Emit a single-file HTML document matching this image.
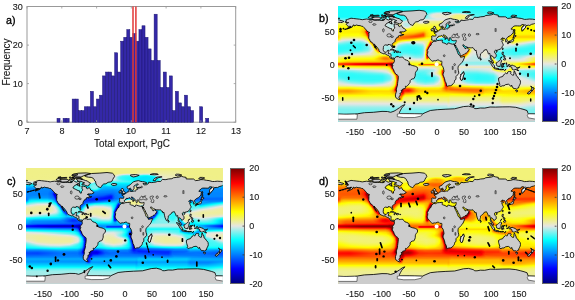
<!DOCTYPE html><html><head><meta charset="utf-8"><style>html,body{margin:0;padding:0;background:#fff;width:575px;height:300px;overflow:hidden}.fld{position:absolute;overflow:hidden}.fld i{position:absolute;left:0;width:100%;height:1px;display:block}.cb{position:absolute;box-sizing:border-box;border:1px solid #6a6a6a}.t{position:absolute;white-space:nowrap;font-family:"Liberation Sans",Arial,sans-serif;color:#1a1a1a;line-height:1;-webkit-text-stroke:0.12px #1a1a1a}svg{position:absolute;left:0;top:0}.pl{color:#000;-webkit-text-stroke:0.35px #000;transform-origin:0 50%}</style></head><body><div class="fld" style="left:338px;top:6px;width:197px;height:116px"><i style="top:0px;background:linear-gradient(90deg,#17fcfc 0.5px,#17fcfc 196.5px)"></i><i style="top:1px;background:linear-gradient(90deg,#17fcfc 0.5px,#1cfcfb 111.5px,#1cfcfb 153.5px,#17fcfc 196.5px)"></i><i style="top:2px;background:linear-gradient(90deg,#17fcfc 0.5px,#1afcfc 110.5px,#25fbfa 114.5px,#1ffcfb 153.5px,#17fcfc 159.5px,#17fcfc 196.5px)"></i><i style="top:3px;background:linear-gradient(90deg,#17fcfc 0.5px,#1bfcfc 110.5px,#2bfafa 113.5px,#2afafa 152.5px,#17fcfc 156.5px,#17fcfc 196.5px)"></i><i style="top:4px;background:linear-gradient(90deg,#17fcfc 0.5px,#1dfcfb 110.5px,#30faf9 112.5px,#30faf9 152.5px,#17fcfc 155.5px,#17fcfc 196.5px)"></i><i style="top:5px;background:linear-gradient(90deg,#17fcfc 0.5px,#1cfcfc 90.5px,#43f8f7 101.5px,#27fbfa 110.5px,#3af9f8 112.5px,#35f9f8 152.5px,#17fcfc 155.5px,#17fcfc 196.5px)"></i><i style="top:6px;background:linear-gradient(90deg,#17fcfc 0.5px,#1ffcfb 81.5px,#29fbfa 89.5px,#8ef0ed 98.5px,#96efec 102.5px,#6ef3f1 107.5px,#50f6f5 110.5px,#56f6f4 113.5px,#59f5f4 123.5px,#3df8f7 133.5px,#36f9f8 150.5px,#17fcfc 156.5px,#17fcfc 196.5px)"></i><i style="top:7px;background:linear-gradient(90deg,#17fcfc 0.5px,#1ffcfb 63.5px,#3cf8f7 88.5px,#bcebe7 95.5px,#dce7e3 99.5px,#d6e8e4 104.5px,#9feeeb 112.5px,#bfeae7 120.5px,#aaedea 124.5px,#4ff6f5 132.5px,#43f8f7 139.5px,#41f8f7 152.5px,#17fcfc 155.5px,#17fcfc 196.5px)"></i><i style="top:8px;background:linear-gradient(90deg,#17fcfc 0.5px,#1efcfb 58.5px,#74f2f0 89.5px,#cde9e5 93.5px,#e6e6e2 95.5px,#e8e8cf 100.5px,#e4e7df 107.5px,#d8e8e4 110.5px,#e7e7dc 113.5px,#ececac 118.5px,#ececab 122.5px,#e7e7d6 126.5px,#e0e7e3 127.5px,#67f4f2 133.5px,#4ef7f5 136.5px,#47f7f6 152.5px,#20fcfb 154.5px,#17fcfc 159.5px,#17fcfc 196.5px)"></i><i style="top:9px;background:linear-gradient(90deg,#17fcfc 0.5px,#1bfcfc 55.5px,#2bfafa 64.5px,#32faf9 69.5px,#6ef3f1 88.5px,#cfe8e5 92.5px,#e7e7dd 94.5px,#e8e8cc 99.5px,#e7e7d6 110.5px,#f0f085 117.5px,#f1f17a 121.5px,#efef8c 125.5px,#ebebb8 128.5px,#e0e7e3 130.5px,#7af2f0 134.5px,#56f6f4 137.5px,#49f7f6 151.5px,#17fcfc 161.5px,#17fcfc 196.5px)"></i><i style="top:10px;background:linear-gradient(90deg,#17fcfc 0.5px,#1cfcfb 54.5px,#2efaf9 63.5px,#33f9f9 71.5px,#54f6f4 87.5px,#cce9e5 92.5px,#e6e6e0 94.5px,#e8e8cd 98.5px,#e8e8d2 109.5px,#ededa6 113.5px,#f2f27a 117.5px,#f2f275 124.5px,#f0f08a 127.5px,#e9e9c8 130.5px,#e6e6df 131.5px,#7cf1ef 135.5px,#5af5f4 138.5px,#4cf7f5 147.5px,#17fcfc 161.5px,#17fcfc 196.5px)"></i><i style="top:11px;background:linear-gradient(90deg,#25fbfa 0.5px,#25fbfa 42.5px,#57f6f4 45.5px,#53f6f5 51.5px,#2ffaf9 60.5px,#37f9f8 68.5px,#77f2f0 87.5px,#dde7e3 94.5px,#e7e7d7 97.5px,#e8e8d0 109.5px,#f1f17b 116.5px,#f2f272 123.5px,#f0f087 127.5px,#eaeabf 130.5px,#e7e7d9 131.5px,#83f1ee 135.5px,#60f5f3 138.5px,#25fbfa 171.5px,#25fbfa 196.5px)"></i><i style="top:12px;background:linear-gradient(90deg,#49f7f6 0.5px,#49f7f6 43.5px,#95efec 45.5px,#97efec 51.5px,#30faf9 60.5px,#33f9f9 66.5px,#96efec 81.5px,#b5ebe8 86.5px,#a7edea 88.5px,#e3e6e2 98.5px,#e6e6de 107.5px,#e8e8d0 110.5px,#f0f087 115.5px,#f2f275 120.5px,#f0f084 125.5px,#ececaa 128.5px,#e7e7d6 130.5px,#bdeae7 132.5px,#7df1ef 135.5px,#49f7f6 174.5px,#49f7f6 196.5px)"></i><i style="top:13px;background:linear-gradient(90deg,#6cf3f1 0.5px,#6df3f1 43.5px,#9ceeeb 44.5px,#d0e8e5 46.5px,#c7e9e6 53.5px,#35f9f8 62.5px,#3cf8f7 65.5px,#55f6f4 67.5px,#86f0ee 69.5px,#e4e6e2 84.5px,#d5e8e4 91.5px,#e7e7dd 107.5px,#efef93 119.5px,#eeee9c 123.5px,#e9e9ca 127.5px,#e7e7dc 128.5px,#89f0ee 133.5px,#7cf2ef 134.5px,#6cf3f1 196.5px)"></i><i style="top:14px;background:linear-gradient(90deg,#90efed 0.5px,#91efed 43.5px,#c8e9e6 44.5px,#e2e6e2 54.5px,#d0e8e5 56.5px,#61f5f3 63.5px,#7ef1ef 66.5px,#c7e9e6 69.5px,#e6e6e2 83.5px,#e7e7d6 87.5px,#e9e9c3 90.5px,#e9e9c7 109.5px,#e1e7e3 123.5px,#b6ebe8 127.5px,#b6ebe8 196.5px)"></i><i style="top:15px;background:linear-gradient(90deg,#cce9e5 0.5px,#e7e7dc 55.5px,#dfe8da 58.5px,#c5eae6 65.5px,#d9e7e4 68.5px,#e6e6e1 69.5px,#ebebb4 78.5px,#e7e7da 80.5px,#e6e6e1 84.5px,#e7e7d5 86.5px,#eeee97 89.5px,#efef8e 93.5px,#efef8e 105.5px,#96efec 117.5px,#98eeec 196.5px)"></i><i style="top:16px;background:linear-gradient(90deg,#ececad 0.5px,#e8ebb8 17.5px,#d3e8e4 54.5px,#e6e6e2 56.5px,#e8e8cf 58.5px,#eaeaba 63.5px,#dfe7e3 65.5px,#cae9e6 67.5px,#d7e8e4 70.5px,#f1f182 77.5px,#e9e9c7 80.5px,#e7e7da 82.5px,#e8e8d0 85.5px,#f2f278 90.5px,#f2f278 104.5px,#e8e8cd 110.5px,#aeece9 111.5px,#7cf1ef 118.5px,#7df1ef 196.5px)"></i><i style="top:17px;background:linear-gradient(90deg,#f5f55e 0.5px,#f3f464 10.5px,#dde7e3 48.5px,#c5eae6 51.5px,#cce9e5 55.5px,#e6e6e2 57.5px,#eeee96 60.5px,#eeee96 62.5px,#e7e7dd 64.5px,#c2eae7 66.5px,#bcebe7 69.5px,#cee9e5 71.5px,#f3f369 76.5px,#f3f370 78.5px,#ececb0 82.5px,#ececac 84.5px,#f3f36b 88.5px,#f4f466 102.5px,#e7e7d9 108.5px,#d2e8e4 110.5px,#f5f55e 196.5px)"></i><i style="top:18px;background:linear-gradient(90deg,#f8f83f 0.5px,#f8f844 9.5px,#e6e6e1 47.5px,#c9e9e6 49.5px,#c6eae6 55.5px,#ebebb5 59.5px,#eeee96 60.5px,#f0f087 61.5px,#eeee98 62.5px,#e0e7e3 64.5px,#c7e9e6 65.5px,#b8ebe8 67.5px,#bbebe7 70.5px,#c4eae6 71.5px,#dce7e3 72.5px,#f3f36d 75.5px,#f5f559 76.5px,#f5f556 79.5px,#f4f468 83.5px,#f6f652 88.5px,#f6f656 101.5px,#6ef3f1 108.5px,#5ff5f3 109.5px,#f8f83f 186.5px,#f8f83f 196.5px)"></i><i style="top:19px;background:linear-gradient(90deg,#fbfb23 0.5px,#fbfb20 21.5px,#e5e6e2 47.5px,#c7e9e6 49.5px,#c4eae6 55.5px,#f1f17d 61.5px,#f0f08c 62.5px,#e6e6e0 64.5px,#cae9e5 65.5px,#b9ebe8 67.5px,#bcebe7 70.5px,#c8e9e6 71.5px,#e3e6e2 72.5px,#f5f55c 75.5px,#f7f748 76.5px,#f8f83f 88.5px,#f7f747 101.5px,#37f9f8 108.5px,#35f9f8 110.5px,#52f6f5 112.5px,#85f0ee 114.5px,#fcfc1d 183.5px,#fbfb23 196.5px)"></i><i style="top:20px;background:linear-gradient(90deg,#fefe07 0.5px,#fffb00 23.5px,#fdf609 25.5px,#d7e8e4 48.5px,#c2eae7 51.5px,#c7e9e6 55.5px,#d0e8e5 56.5px,#f4f466 61.5px,#e4e6e2 65.5px,#cde9e5 66.5px,#c0eae7 68.5px,#cce9e5 70.5px,#e0e7e3 71.5px,#e9e9c4 72.5px,#f4f462 74.5px,#f8f841 75.5px,#fafa2f 77.5px,#fafa29 87.5px,#f9f937 99.5px,#f9f939 103.5px,#f6f64e 104.5px,#30faf9 108.5px,#2ffaf9 110.5px,#41f9f0 113.5px,#ffff01 177.5px,#fefe07 196.5px)"></i><i style="top:21px;background:linear-gradient(90deg,#fffd00 0.5px,#fff600 22.5px,#ffe400 25.5px,#cce9e5 50.5px,#cae9e6 54.5px,#e0e7e3 56.5px,#f1f17e 64.5px,#e9e9c4 66.5px,#e7e7dc 68.5px,#e9e9c7 70.5px,#f1f181 72.5px,#f9f935 74.5px,#fcfc1c 76.5px,#fdfd0f 86.5px,#fbfb28 95.5px,#fbfb28 102.5px,#f9f938 104.5px,#f1f182 105.5px,#63f4f3 107.5px,#3bf9f8 108.5px,#37f9f5 110.5px,#ffff00 175.5px,#fffd00 196.5px)"></i><i style="top:22px;background:linear-gradient(90deg,#fffb00 0.5px,#fff600 21.5px,#ffd100 26.5px,#d9e7e4 52.5px,#e7e7da 55.5px,#f7f74b 65.5px,#f2f274 67.5px,#f2f275 69.5px,#f7f74c 71.5px,#fcfc1b 73.5px,#fefe07 75.5px,#fffc00 87.5px,#fcfc18 95.5px,#fcfc1e 104.5px,#f8f83f 105.5px,#efef95 106.5px,#cee9e5 107.5px,#8cf0ed 108.5px,#79f2f0 109.5px,#fffe00 174.5px,#fffb00 196.5px)"></i><i style="top:23px;background:linear-gradient(90deg,#fff800 0.5px,#fff300 21.5px,#ffd100 25.5px,#ffb300 27.5px,#ebebb7 54.5px,#fcfc1a 67.5px,#fdfd12 70.5px,#fffd00 73.5px,#ffed00 86.5px,#fefe06 91.5px,#fdfd12 100.5px,#fcfc1a 103.5px,#fafa2f 107.5px,#fff900 185.5px,#fff800 196.5px)"></i><i style="top:24px;background:linear-gradient(90deg,#fff600 0.5px,#ffef00 21.5px,#ffc900 25.5px,#ffb500 26.5px,#ff5900 28.5px,#f2f271 54.5px,#f8f641 59.5px,#fff800 67.5px,#ffde00 83.5px,#ffdf00 86.5px,#ffff04 92.5px,#fefe0d 104.5px,#fffa00 184.5px,#fff600 196.5px)"></i><i style="top:25px;background:linear-gradient(90deg,#fff300 0.5px,#ffec00 21.5px,#ffc300 25.5px,#ffa900 26.5px,#ff5c00 27.5px,#ff0200 28.5px,#ff3000 29.5px,#ffee00 67.5px,#ffd600 80.5px,#ffc100 85.5px,#fff400 90.5px,#fefe06 95.5px,#fffa00 183.5px,#fff300 196.5px)"></i><i style="top:26px;background:linear-gradient(90deg,#fff500 0.5px,#fff000 21.5px,#ffc700 25.5px,#ffad00 26.5px,#ff6600 27.5px,#ff0700 28.5px,#ff0d00 29.5px,#ff6e00 30.5px,#ffe600 63.5px,#ffcc00 77.5px,#ff9a00 84.5px,#ff9b00 85.5px,#ffd900 88.5px,#fff900 92.5px,#fffc00 182.5px,#fff500 196.5px)"></i><i style="top:27px;background:linear-gradient(90deg,#fff600 0.5px,#fffa00 20.5px,#ffde00 24.5px,#ffbf00 26.5px,#ff9100 27.5px,#ff3100 28.5px,#fe0000 29.5px,#ff4900 30.5px,#ffd700 64.5px,#ffb900 75.5px,#ff8b00 81.5px,#ff6c00 84.5px,#ff6e00 85.5px,#ffcf00 88.5px,#fff000 91.5px,#fffe00 96.5px,#abece9 119.5px,#fffb00 175.5px,#fff600 196.5px)"></i><i style="top:28px;background:linear-gradient(90deg,#fff000 0.5px,#fefe07 4.5px,#ffff04 20.5px,#ffe900 24.5px,#ffcf00 26.5px,#ffb100 27.5px,#ff0c00 29.5px,#ff2600 30.5px,#ffc700 63.5px,#ff9400 75.5px,#ff4800 84.5px,#ff4e00 85.5px,#ffa800 87.5px,#ffca00 88.5px,#ffe700 90.5px,#fffe00 97.5px,#58f5f4 115.5px,#40f8f7 117.5px,#76f2f0 124.5px,#46f7f6 125.5px,#40f8f7 126.5px,#60f5f3 127.5px,#fff200 174.5px,#fff400 182.5px,#fff000 196.5px)"></i><i style="top:29px;background:linear-gradient(90deg,#ffde00 0.5px,#fefe08 3.5px,#fdfd14 7.5px,#fefe0d 21.5px,#fff400 24.5px,#ffc800 27.5px,#ff9200 28.5px,#ff3000 29.5px,#ff1100 30.5px,#ffb800 61.5px,#ff4000 82.5px,#ff4a00 85.5px,#ffa700 87.5px,#ffc900 88.5px,#ffe400 90.5px,#ffff02 97.5px,#ffe100 103.5px,#ffe800 106.5px,#36f9f8 114.5px,#21fbfb 115.5px,#19fcfc 118.5px,#38f9f8 121.5px,#5ff5f3 124.5px,#35f9f8 125.5px,#3ff8e9 129.5px,#ffde00 173.5px,#ffe600 180.5px,#ffde00 194.5px,#ffde00 196.5px)"></i><i style="top:30px;background:linear-gradient(90deg,#ffd400 0.5px,#ffff02 2.5px,#fbfb25 3.5px,#f9f938 5.5px,#f9f936 21.5px,#fcfc19 24.5px,#fff700 26.5px,#ffe800 27.5px,#ffc500 28.5px,#ff2000 30.5px,#ffa500 60.5px,#ff8100 63.5px,#ff4500 77.5px,#ff4e00 82.5px,#ff6900 85.5px,#ffb300 87.5px,#ffcf00 88.5px,#ffe900 91.5px,#fff200 96.5px,#fff200 100.5px,#fffe00 101.5px,#f7f745 105.5px,#f5f557 107.5px,#31faf9 114.5px,#19fcfc 116.5px,#1cfcfb 119.5px,#2bfafa 120.5px,#51f6f5 121.5px,#59f5f4 124.5px,#30faf9 125.5px,#71edaa 140.5px,#ffd200 171.5px,#ffd300 196.5px)"></i><i style="top:31px;background:linear-gradient(90deg,#ffd600 0.5px,#ffed00 1.5px,#fcfc1f 2.5px,#f7f74c 3.5px,#f4f460 4.5px,#f3f36e 16.5px,#f4f465 22.5px,#f8f840 25.5px,#fdfd12 27.5px,#fff000 28.5px,#ffab00 29.5px,#ff4800 30.5px,#ffa200 59.5px,#ff7100 63.5px,#ff5f00 73.5px,#ff7200 79.5px,#ffac00 85.5px,#ffed00 88.5px,#fefe08 92.5px,#f2f274 99.5px,#e7e7dc 102.5px,#aeece9 105.5px,#8ef0ed 109.5px,#37f9f8 116.5px,#3cf9f7 118.5px,#4ef7f5 119.5px,#72f3f1 120.5px,#acece9 121.5px,#30faf9 125.5px,#2efaf9 126.5px,#46f7f6 127.5px,#ffd400 170.5px,#ffd500 196.5px)"></i><i style="top:32px;background:linear-gradient(90deg,#ffef00 0.5px,#fefe0c 1.5px,#f7f74c 2.5px,#f2f27a 3.5px,#efef8f 4.5px,#ededa4 14.5px,#eeee9e 22.5px,#f2f279 25.5px,#f7f74b 27.5px,#fafa29 28.5px,#ffe400 29.5px,#ff7f00 30.5px,#ffa100 58.5px,#ff7d00 61.5px,#ff7a00 66.5px,#ff9b00 75.5px,#fff500 86.5px,#fcfc18 88.5px,#f9f935 92.5px,#f6f652 93.5px,#9ceeeb 98.5px,#b3ece8 99.5px,#73f3f1 101.5px,#3ff8f7 104.5px,#2dfaf9 108.5px,#33f9f9 126.5px,#57f5f4 127.5px,#ffed00 163.5px,#ffed00 196.5px)"></i><i style="top:33px;background:linear-gradient(90deg,#fafa2e 0.5px,#f6f64e 1.5px,#f1f180 2.5px,#ededa4 3.5px,#eaeabc 5.5px,#e8e8d2 13.5px,#e8e8d0 22.5px,#ececab 25.5px,#f4f45f 28.5px,#fbfb20 29.5px,#ffb800 30.5px,#ff6700 31.5px,#ffb300 57.5px,#ff9900 58.5px,#ff8e00 60.5px,#ffff03 80.5px,#f7f748 88.5px,#f8f843 92.5px,#f4f467 93.5px,#61f4f3 98.5px,#5ff5f3 99.5px,#36f9f8 101.5px,#1cfcfb 104.5px,#1cfcfc 112.5px,#4ef6f5 125.5px,#47f7f6 126.5px,#7af2f0 127.5px,#fbfb25 164.5px,#fbfb24 176.5px,#fffe00 180.5px,#fffc00 188.5px,#fdfd13 193.5px,#fafa29 196.5px)"></i><i style="top:34px;background:linear-gradient(90deg,#efef8d 0.5px,#e7e7d8 3.5px,#dde7e3 5.5px,#c0eae7 12.5px,#beeae7 22.5px,#e3e6e2 25.5px,#eeee9b 28.5px,#f3f370 29.5px,#fefe05 30.5px,#ff9c00 31.5px,#ffaa00 57.5px,#ffa000 58.5px,#ffea00 64.5px,#fefe05 67.5px,#f5f557 77.5px,#f3f371 87.5px,#f4f468 89.5px,#f5f558 90.5px,#fff800 92.5px,#fdfd16 93.5px,#eeee98 94.5px,#97efec 96.5px,#53f6f5 98.5px,#21fbfb 102.5px,#17fcfc 110.5px,#28fbfa 115.5px,#47f7f6 118.5px,#73f3f1 126.5px,#a8edea 127.5px,#f2f277 167.5px,#f2f276 172.5px,#fcfc1f 175.5px,#fefe0d 179.5px,#fafa2b 185.5px,#f0f087 196.5px)"></i><i style="top:35px;background:linear-gradient(90deg,#e7e7da 0.5px,#d0e8e5 2.5px,#adece9 6.5px,#92efed 12.5px,#8ef0ed 22.5px,#b1ece9 25.5px,#dde7e3 27.5px,#e8e8d1 28.5px,#ebebb1 29.5px,#f3f36d 30.5px,#ffe200 31.5px,#ff8b00 32.5px,#ffb500 57.5px,#ffc100 58.5px,#fffa00 60.5px,#f6f652 63.5px,#efef93 68.5px,#ebebb5 77.5px,#ececa8 85.5px,#efef90 88.5px,#f1f17e 89.5px,#f5f55c 90.5px,#fffb00 91.5px,#ff9100 92.5px,#ff9900 93.5px,#f8f840 94.5px,#e7e7dc 95.5px,#a8edea 96.5px,#7ef1ef 97.5px,#20fcfb 104.5px,#20fcfb 112.5px,#3ff8f7 116.5px,#52f6f4 118.5px,#ececae 165.5px,#ececae 171.5px,#fcfc1b 175.5px,#f9f933 179.5px,#ececa7 191.5px,#e7e7d5 196.5px)"></i><i style="top:36px;background:linear-gradient(90deg,#b5ebe8 0.5px,#7df1ef 8.5px,#6cf3f1 14.5px,#69f4f2 22.5px,#89f0ee 25.5px,#c8e9e6 28.5px,#e4e6e2 29.5px,#ebebb7 30.5px,#f8f843 31.5px,#ffbd00 32.5px,#ff9200 33.5px,#ffc800 55.5px,#ffba00 56.5px,#ffc900 57.5px,#ffe900 58.5px,#fbfb20 59.5px,#f4f462 60.5px,#ececac 63.5px,#e4e6e2 68.5px,#dbe7e3 77.5px,#e8e8d1 84.5px,#efef91 88.5px,#f2f274 89.5px,#f9f934 90.5px,#ffba00 91.5px,#ff3700 92.5px,#ff4f00 93.5px,#fff100 94.5px,#3ef8f7 104.5px,#33f9f9 109.5px,#4ff6f5 114.5px,#79f2f0 117.5px,#e9e9ca 166.5px,#e9e9c6 171.5px,#ededa7 172.5px,#f8f841 174.5px,#f8f83c 175.5px,#ececaa 184.5px,#e4e6e2 191.5px,#baebe8 196.5px)"></i><i style="top:37px;background:linear-gradient(90deg,#87f0ee 0.5px,#50f6f5 11.5px,#4bf7f6 22.5px,#76f2f0 26.5px,#baebe8 29.5px,#dce7e3 30.5px,#ededa1 31.5px,#fcfc1d 32.5px,#ffb900 33.5px,#ff9f00 34.5px,#ffd400 54.5px,#ffc100 55.5px,#ffca00 56.5px,#ffee00 57.5px,#f9f936 58.5px,#ebebb9 60.5px,#e4e6e2 62.5px,#b6ebe8 66.5px,#a5edea 69.5px,#a9edea 77.5px,#d1e8e5 84.5px,#e5e6e2 85.5px,#efef91 88.5px,#f4f466 89.5px,#fffb00 90.5px,#ff6e00 91.5px,#ff0400 92.5px,#ff6300 93.5px,#72f3f1 107.5px,#7ef1ef 111.5px,#b4ebe8 117.5px,#e7e7da 170.5px,#e8e8d3 171.5px,#eaeabf 172.5px,#f1f17c 174.5px,#f1f17c 175.5px,#e9e9c9 181.5px,#dfe7e3 185.5px,#8bf0ed 196.5px)"></i><i style="top:38px;background:linear-gradient(90deg,#60f5f3 0.5px,#39f9f8 12.5px,#37f9f8 22.5px,#5cf5f3 26.5px,#9aeeec 29.5px,#b6ebe8 30.5px,#e1e7e3 31.5px,#eeee9b 32.5px,#fdfd13 33.5px,#ffb700 34.5px,#ffb300 35.5px,#e8e8cd 50.5px,#ececa7 51.5px,#ffcf00 54.5px,#ffce00 55.5px,#ffed00 56.5px,#f9f935 57.5px,#f0f08b 58.5px,#e8e8ce 59.5px,#cbe9e5 60.5px,#a7edea 62.5px,#75f2f0 68.5px,#7df1ef 77.5px,#abece9 84.5px,#e6e6de 86.5px,#efef8d 88.5px,#f6f64e 89.5px,#ffcb00 90.5px,#ff2d00 91.5px,#ff0e00 92.5px,#bcebe7 108.5px,#e3e6e2 169.5px,#e7e7db 172.5px,#eaeabe 174.5px,#e8e8cd 176.5px,#e5e6e2 178.5px,#64f4f2 196.5px)"></i><i style="top:39px;background:linear-gradient(90deg,#47f7f6 0.5px,#2efaf9 13.5px,#2ffaf9 22.5px,#50f6f5 26.5px,#87f0ee 29.5px,#beeae7 31.5px,#e6e6de 32.5px,#f0f08a 33.5px,#fff100 34.5px,#ffac00 35.5px,#ffcc00 36.5px,#fafa2b 37.5px,#cde9e5 46.5px,#baebe8 48.5px,#c3eae6 50.5px,#dde7e3 51.5px,#ececaf 52.5px,#fff500 54.5px,#ffef00 55.5px,#fafa2d 56.5px,#f0f084 57.5px,#e8e8ce 58.5px,#c2eae7 59.5px,#9beeec 60.5px,#74f2f0 63.5px,#57f6f4 69.5px,#62f4f3 78.5px,#8df0ed 84.5px,#aaedea 85.5px,#d8e8e4 86.5px,#eaeabc 87.5px,#f1f17f 88.5px,#fdfd10 89.5px,#ff8600 90.5px,#ff0500 91.5px,#ff4200 92.5px,#45f7f6 125.5px,#dfe7e3 166.5px,#d3e8e4 173.5px,#c6e9e6 176.5px,#4df7f5 195.5px,#49f7f6 196.5px)"></i><i style="top:40px;background:linear-gradient(90deg,#37f9f8 0.5px,#2cfaf9 21.5px,#4cf7f5 26.5px,#8ef0ed 30.5px,#cce9e5 32.5px,#e9e9c6 33.5px,#f6f652 34.5px,#ffce00 35.5px,#ffa800 36.5px,#ffe000 37.5px,#f8f83e 38.5px,#b5ebe8 46.5px,#a4edea 49.5px,#b2ece9 51.5px,#d2e8e4 52.5px,#ececab 53.5px,#f7f746 55.5px,#f2f279 56.5px,#e9e9c4 57.5px,#c9e9e6 58.5px,#7bf2ef 60.5px,#55f6f4 64.5px,#43f8f6 70.5px,#4cf7f5 78.5px,#69f4f2 83.5px,#77f2f0 84.5px,#97efec 85.5px,#cae9e5 86.5px,#eaeabf 87.5px,#f4f464 88.5px,#ffcd00 89.5px,#ff3300 90.5px,#ff0700 91.5px,#91efed 117.5px,#30faf9 125.5px,#47f7f6 132.5px,#d9e7e4 164.5px,#93efec 177.5px,#3df8f7 194.5px,#38f9f8 196.5px)"></i><i style="top:41px;background:linear-gradient(90deg,#2efaf9 0.5px,#2efaf9 22.5px,#54f6f4 27.5px,#82f1ef 30.5px,#bcebe7 32.5px,#e3e6e2 33.5px,#eded9f 34.5px,#fdfd0e 35.5px,#ffb000 36.5px,#ffa900 37.5px,#ffed00 38.5px,#f8f83b 39.5px,#c0eae7 45.5px,#abece9 46.5px,#a1edeb 50.5px,#a5edea 51.5px,#b6ebe8 52.5px,#e6e6e2 53.5px,#eaeabb 54.5px,#ededa0 55.5px,#eaeabd 56.5px,#d7e8e4 57.5px,#85f1ee 59.5px,#69f4f2 60.5px,#4cf7f5 63.5px,#38f9f8 70.5px,#41f8f7 79.5px,#58f5f4 83.5px,#68f4f2 84.5px,#8cf0ed 85.5px,#c4eae6 86.5px,#ebebb9 87.5px,#fafa2b 88.5px,#ff8100 89.5px,#ff0200 90.5px,#6af3f2 117.5px,#4df7f5 118.5px,#32faf9 126.5px,#3bf9f8 127.5px,#6df3f1 128.5px,#e5e6e2 129.5px,#f1f181 130.5px,#f1f17e 131.5px,#eaeabe 134.5px,#bfeae7 165.5px,#64f4f2 179.5px,#32faf9 194.5px,#2ffaf9 196.5px)"></i><i style="top:42px;background:linear-gradient(90deg,#2cfaf9 0.5px,#32faf9 22.5px,#5ef5f3 28.5px,#7cf2ef 30.5px,#d3e8e4 33.5px,#e9e9c9 34.5px,#f3f371 35.5px,#ffe400 36.5px,#ff9a00 37.5px,#ffab00 38.5px,#ffde00 39.5px,#c3eae6 45.5px,#acece9 46.5px,#a1edeb 49.5px,#a5edea 51.5px,#b4ebe8 52.5px,#d9e7e4 53.5px,#e7e7d8 55.5px,#dce7e3 56.5px,#77f2f0 59.5px,#5ef5f3 60.5px,#40f8f7 64.5px,#32faf9 72.5px,#3bf9f8 80.5px,#4ff6f5 83.5px,#60f5f3 84.5px,#87f0ee 85.5px,#c6e9e6 86.5px,#eeee9a 87.5px,#ffdd00 88.5px,#ff3d00 89.5px,#ff1100 90.5px,#39f9f8 118.5px,#99eeec 127.5px,#f6f653 129.5px,#ffff01 130.5px,#fbfb28 131.5px,#f2f273 132.5px,#ededa1 133.5px,#e9e9c4 135.5px,#e1e7e3 163.5px,#9eeeeb 165.5px,#4ff6f5 177.5px,#2dfaf9 193.5px,#2cfaf9 196.5px)"></i><i style="top:43px;background:linear-gradient(90deg,#2cfaf9 0.5px,#3df8f7 22.5px,#71f3f1 29.5px,#97efec 31.5px,#d0e8e5 33.5px,#e7e7d7 34.5px,#ededa5 35.5px,#f9f935 36.5px,#ffbe00 37.5px,#ff8c00 38.5px,#ff9400 39.5px,#ffcf00 40.5px,#d6e8e4 45.5px,#baebe8 46.5px,#a6edea 48.5px,#afece9 51.5px,#c1eae7 52.5px,#cbe9e5 55.5px,#55f6f4 60.5px,#39f9f8 65.5px,#2efaf9 76.5px,#40f8f7 82.5px,#5df5f3 84.5px,#85f1ee 85.5px,#c9e9e6 86.5px,#f3f370 87.5px,#ff9300 88.5px,#ff2400 89.5px,#31faf9 118.5px,#2ffaf9 119.5px,#ffcf00 131.5px,#f7f749 132.5px,#eeee99 133.5px,#eaeaba 134.5px,#e8e8cf 136.5px,#e2e8d4 149.5px,#c0eae7 161.5px,#d2e8e4 163.5px,#7ff1ef 164.5px,#3cf8f7 176.5px,#2cfaf9 196.5px)"></i><i style="top:44px;background:linear-gradient(90deg,#2dfaf9 0.5px,#57f6f4 23.5px,#82f1ef 29.5px,#a4edea 31.5px,#d7e8e4 33.5px,#e8e8d4 34.5px,#ebebb1 35.5px,#f3f370 36.5px,#fefe08 37.5px,#ffbb00 38.5px,#ff8500 39.5px,#ff8a00 40.5px,#e8e8d2 45.5px,#d8e8e4 46.5px,#bbebe7 48.5px,#c6e9e6 51.5px,#dee7e3 53.5px,#adece9 54.5px,#64f4f2 58.5px,#46f7f6 61.5px,#2efaf9 72.5px,#36f9f8 80.5px,#4af7f6 83.5px,#5df5f3 84.5px,#86f0ee 85.5px,#cce9e5 86.5px,#f4f460 87.5px,#ff8100 88.5px,#ff3300 89.5px,#2efaf9 119.5px,#ff6200 130.5px,#ffa900 131.5px,#f9f936 132.5px,#eeee9b 133.5px,#eaeabf 134.5px,#e7e7d7 136.5px,#e4e8d6 149.5px,#c5eae6 157.5px,#9eeeeb 159.5px,#96efec 161.5px,#b6ebe8 163.5px,#5ff5f3 164.5px,#44f8f6 171.5px,#2ffaf9 177.5px,#2dfaf9 196.5px)"></i><i style="top:45px;background:linear-gradient(90deg,#35f9f8 0.5px,#76f2f0 23.5px,#a9edea 30.5px,#e6e6e0 33.5px,#f0f088 36.5px,#f5f558 37.5px,#fefe07 38.5px,#ff8a00 40.5px,#ffb700 41.5px,#e8e8cf 46.5px,#e6e6e0 47.5px,#d5e8e4 51.5px,#b0ece9 53.5px,#76f2f0 54.5px,#52f6f5 56.5px,#40f8f7 61.5px,#32faf9 78.5px,#40f8f7 82.5px,#5ff5f3 84.5px,#89f0ee 85.5px,#d3e8e4 86.5px,#f7f74a 87.5px,#ff7200 88.5px,#ff3d00 89.5px,#2efaf9 119.5px,#30faf9 120.5px,#ff7b00 130.5px,#ffd600 131.5px,#f5f557 132.5px,#ececa9 133.5px,#e9e9c9 134.5px,#e6e6df 136.5px,#e7e7d5 143.5px,#e8e8d3 148.5px,#c8e9e6 156.5px,#89f0ee 158.5px,#6af4f2 160.5px,#79f2f0 162.5px,#92efed 163.5px,#4ef7f5 164.5px,#4bf7f6 168.5px,#2efaf9 176.5px,#34f9f8 196.5px)"></i><i style="top:46px;background:linear-gradient(90deg,#49f7f6 0.5px,#88f0ee 17.5px,#b3ece8 27.5px,#d8e7e4 31.5px,#e6e6df 32.5px,#f2f275 37.5px,#f6f652 38.5px,#fdfd0f 39.5px,#ffd700 40.5px,#ffef00 41.5px,#f7f747 42.5px,#e9e9c9 47.5px,#e0e7e3 50.5px,#9deeeb 52.5px,#4df7f5 54.5px,#37f9f8 56.5px,#3bf9f8 61.5px,#4af7f6 66.5px,#33f9f9 77.5px,#42f8f7 82.5px,#62f4f3 84.5px,#8ef0ed 85.5px,#dce7e3 86.5px,#fafa31 87.5px,#ff6300 88.5px,#ff4800 89.5px,#32faf9 120.5px,#ff6f00 129.5px,#ffb800 130.5px,#fafa2a 131.5px,#efef90 132.5px,#eaeabf 133.5px,#e6e6e2 135.5px,#e1e7dd 140.5px,#e8e8cd 147.5px,#e7e7d7 149.5px,#8af0ee 157.5px,#67f4f2 158.5px,#52f6f5 159.5px,#4bf7f6 161.5px,#57f6f4 162.5px,#70f3f1 163.5px,#48f7f6 164.5px,#51f6f5 167.5px,#35f9f8 176.5px,#43f8f7 194.5px,#47f7f6 196.5px)"></i><i style="top:47px;background:linear-gradient(90deg,#65f4f2 0.5px,#a7edea 14.5px,#dee7e3 29.5px,#e7e7d9 31.5px,#f3f36d 38.5px,#fafa30 40.5px,#f9f93b 41.5px,#f3f36f 43.5px,#dce7e3 50.5px,#57f6f4 53.5px,#3cf9f7 54.5px,#2efaf9 57.5px,#37f9f8 61.5px,#5df5f3 65.5px,#58f5f4 69.5px,#3df8f7 77.5px,#48f7f6 82.5px,#69f4f2 84.5px,#96efec 85.5px,#e6e6df 86.5px,#fdfd14 87.5px,#ff5400 88.5px,#ec6418 92.5px,#3af9f8 120.5px,#5df5f3 121.5px,#ff9700 127.5px,#ff6f00 128.5px,#ff9c00 129.5px,#fffe00 130.5px,#f1f17e 131.5px,#eaeaba 132.5px,#e7e7d5 133.5px,#dbe7e3 135.5px,#d9e8e2 139.5px,#e7e7da 143.5px,#e8e8cb 146.5px,#e7e7d6 149.5px,#d9e7e4 151.5px,#6ff3f1 157.5px,#4ef7f5 158.5px,#37f9f8 160.5px,#40f8f7 162.5px,#55f6f4 163.5px,#4ef7f5 165.5px,#54f6f4 168.5px,#3bf9f8 176.5px,#4ef7f5 190.5px,#62f4f3 196.5px)"></i><i style="top:48px;background:linear-gradient(90deg,#8cf0ed 0.5px,#cee9e5 13.5px,#e7e7da 25.5px,#eaeabd 32.5px,#f1f182 37.5px,#f6f64d 40.5px,#f6f64e 42.5px,#f2f276 47.5px,#51f6f5 53.5px,#39f9f8 54.5px,#2efaf9 58.5px,#39f9f8 61.5px,#75f2f0 65.5px,#79f2f0 68.5px,#4cf7f5 77.5px,#54f6f4 82.5px,#75f2f0 84.5px,#a2edeb 85.5px,#e8e8cf 86.5px,#fffa00 87.5px,#ff4700 88.5px,#50f6f5 120.5px,#95efec 121.5px,#ffce00 125.5px,#ff7300 127.5px,#ff9400 128.5px,#ffe300 129.5px,#f4f463 130.5px,#ebebb2 131.5px,#e7e7d6 132.5px,#d6e8e4 134.5px,#d1e8e5 139.5px,#dbe7e3 142.5px,#e8e8d0 144.5px,#e8e8ce 148.5px,#e0e7e3 150.5px,#69f4f2 156.5px,#33f9f9 159.5px,#35f9f8 162.5px,#4bf7f6 164.5px,#60f5f3 167.5px,#44f8f6 176.5px,#61f4f3 188.5px,#89f0ee 196.5px)"></i><i style="top:49px;background:linear-gradient(90deg,#d4e8e4 0.5px,#e7e7db 4.5px,#ebebb5 14.5px,#efef92 32.5px,#f3f36e 36.5px,#fcfc17 41.5px,#fefe06 45.5px,#fdfd11 48.5px,#fafa30 49.5px,#f0f08b 50.5px,#67f4f2 53.5px,#46f7f6 54.5px,#31faf9 56.5px,#37f9f8 60.5px,#56f6f4 62.5px,#92efed 65.5px,#97efec 68.5px,#61f4f3 77.5px,#66f4f2 82.5px,#83f1ee 84.5px,#aeece9 85.5px,#e8e8cc 86.5px,#fefe0c 87.5px,#ff5000 88.5px,#e9e9c3 121.5px,#ffa800 123.5px,#ff8700 124.5px,#ff7700 126.5px,#ff9500 127.5px,#ffe400 128.5px,#f6f654 129.5px,#ededa5 130.5px,#e8e8d2 131.5px,#dfe7e3 132.5px,#cae9e6 135.5px,#d2e8e5 141.5px,#d5e8e4 142.5px,#e6e6e0 143.5px,#e8e8cd 145.5px,#e8e8cf 148.5px,#dae7e3 150.5px,#3af9f8 158.5px,#2efaf9 160.5px,#31faf9 162.5px,#49f7f6 164.5px,#7df1ef 166.5px,#89f0ee 167.5px,#68f4f2 176.5px,#84f1ee 185.5px,#d1e8e5 196.5px)"></i><i style="top:50px;background:linear-gradient(90deg,#ebebb3 0.5px,#f0f083 9.5px,#f4f463 33.5px,#f7f747 36.5px,#fefe0a 39.5px,#ffeb00 41.5px,#ffc100 46.5px,#ffc400 48.5px,#ffd000 49.5px,#ffed00 50.5px,#f8f843 51.5px,#a9edea 53.5px,#75f2f0 54.5px,#57f6f4 55.5px,#41f8f7 57.5px,#51f6f5 60.5px,#a7edea 64.5px,#b4ebe8 66.5px,#a5edea 70.5px,#7af2f0 77.5px,#7df1ef 82.5px,#96efec 84.5px,#bfeae7 85.5px,#eaeac1 86.5px,#fcfc1a 87.5px,#ff5900 88.5px,#ff2300 89.5px,#ffae00 122.5px,#ff8c00 123.5px,#ff9700 125.5px,#ffa600 126.5px,#ffe500 127.5px,#f5f557 128.5px,#ececa9 129.5px,#e8e8d2 130.5px,#dfe7e3 131.5px,#c5eae6 134.5px,#c9e9e6 141.5px,#cce9e5 142.5px,#e7e7d9 144.5px,#e8e8cf 147.5px,#e4e6e2 149.5px,#c5eae6 151.5px,#c8e9e6 152.5px,#e8e8cf 153.5px,#ededa7 154.5px,#3af9f8 158.5px,#2efaf9 160.5px,#31faf9 162.5px,#53f6f5 164.5px,#7af2f0 165.5px,#afece9 167.5px,#81f1ef 175.5px,#93efec 182.5px,#cfe9e5 189.5px,#e7e7db 192.5px,#ebebb8 196.5px)"></i><i style="top:51px;background:linear-gradient(90deg,#f1f17e 0.5px,#f6f651 7.5px,#f8f840 26.5px,#f9f932 34.5px,#fffa00 38.5px,#ff9600 45.5px,#ff8d00 48.5px,#ffa800 50.5px,#ffc800 51.5px,#eeee95 53.5px,#d8e8e4 54.5px,#abece9 55.5px,#8ff0ed 56.5px,#9ceeeb 61.5px,#cbe9e5 65.5px,#beeae7 70.5px,#95efec 77.5px,#96efec 82.5px,#adece9 84.5px,#d3e8e4 85.5px,#ebebb3 86.5px,#fbfb22 87.5px,#ff6400 88.5px,#ff0f00 89.5px,#ff9c00 90.5px,#fbfb20 126.5px,#f5f55d 127.5px,#ececad 128.5px,#e7e7d7 129.5px,#cde9e5 131.5px,#bdeae7 135.5px,#c1eae7 142.5px,#e7e7dc 145.5px,#e7e7da 147.5px,#e4e6e2 148.5px,#bdeae7 151.5px,#c4eae6 152.5px,#eaeac1 153.5px,#f0f085 154.5px,#ececaa 155.5px,#6ef3f1 157.5px,#41f8f7 158.5px,#32faf9 159.5px,#34f9f8 162.5px,#65f4f2 164.5px,#c5eae6 166.5px,#d6e8e4 167.5px,#9beeeb 174.5px,#9feeeb 180.5px,#cbe9e5 186.5px,#e4e6e2 188.5px,#f0f084 196.5px)"></i><i style="top:52px;background:linear-gradient(90deg,#f6f655 0.5px,#fbfb22 6.5px,#fdfd12 16.5px,#fefe0b 33.5px,#fff900 36.5px,#ffbc00 41.5px,#ff8100 45.5px,#ff7500 48.5px,#ff9700 51.5px,#ffcc00 53.5px,#e6e6df 66.5px,#d7e8e4 72.5px,#beeae7 78.5px,#c7e9e6 83.5px,#d5e8e4 84.5px,#e8e8d0 85.5px,#eeee96 86.5px,#fbfb25 87.5px,#ff9100 88.5px,#ff5000 89.5px,#ffbc00 90.5px,#f8f83f 91.5px,#ededa5 126.5px,#e7e7db 128.5px,#c1eae7 131.5px,#b8ebe8 141.5px,#cce9e5 144.5px,#dbe7e3 146.5px,#b8ebe8 151.5px,#c1eae7 152.5px,#ebebb2 153.5px,#f5f55e 154.5px,#f2f277 155.5px,#e7e7db 156.5px,#90efed 157.5px,#56f6f4 158.5px,#3cf8f7 159.5px,#35f9f8 161.5px,#3ff8f7 162.5px,#5cf5f3 163.5px,#86f0ee 164.5px,#c2eae7 165.5px,#e9e9ca 167.5px,#e4e6e2 169.5px,#b5ebe8 175.5px,#bdeae7 181.5px,#e4e6e2 186.5px,#f5f55c 196.5px)"></i><i style="top:53px;background:linear-gradient(90deg,#f8f842 0.5px,#fefe0b 5.5px,#fffb00 9.5px,#fff000 35.5px,#ffca00 40.5px,#ff8800 46.5px,#ff8700 49.5px,#ffab00 53.5px,#ffcb00 55.5px,#e9e9c6 67.5px,#e5e6e2 79.5px,#e7e7db 83.5px,#e8e8cf 84.5px,#ebebb2 85.5px,#f0f086 86.5px,#f7f746 87.5px,#ffef00 88.5px,#ffd600 89.5px,#ffff03 90.5px,#f6f654 91.5px,#e3e6e2 127.5px,#c1eae7 130.5px,#b8ebe8 141.5px,#c5eae6 147.5px,#b8ebe8 151.5px,#c3eae6 152.5px,#f8f83f 154.5px,#f7f745 155.5px,#ededa1 156.5px,#c6e9e6 157.5px,#7ff1ef 158.5px,#58f5f4 159.5px,#4af7f6 160.5px,#4bf7f6 161.5px,#5bf5f4 162.5px,#80f1ef 163.5px,#e7e7da 165.5px,#ececaf 167.5px,#e6e6e0 171.5px,#cee9e5 176.5px,#dde7e3 183.5px,#e7e7d6 186.5px,#f2f278 193.5px,#f7f74a 196.5px)"></i><i style="top:54px;background:linear-gradient(90deg,#f9f935 0.5px,#ffff01 4.5px,#ffea00 13.5px,#ffe200 36.5px,#ffa200 47.5px,#ffa500 53.5px,#ffc400 56.5px,#ececa7 69.5px,#ebebb7 81.5px,#ececa8 84.5px,#f2f274 86.5px,#fafa30 88.5px,#fbfb24 89.5px,#f0f08b 93.5px,#ededa3 97.5px,#e9ecae 105.5px,#cde9e5 127.5px,#b9ebe8 132.5px,#b8ebe8 151.5px,#c3eae6 152.5px,#eeee9e 153.5px,#fbfb27 154.5px,#fcfc17 155.5px,#f5f55f 156.5px,#ebebb7 157.5px,#c4eae6 158.5px,#92efed 159.5px,#7cf2ef 160.5px,#7cf2ef 161.5px,#b9ebe8 163.5px,#e7e7dd 164.5px,#ececae 165.5px,#eeee98 166.5px,#ededa7 168.5px,#e8e8d0 172.5px,#e6e6de 178.5px,#e8e8cd 185.5px,#eeee9b 190.5px,#f8f83e 196.5px)"></i><i style="top:55px;background:linear-gradient(90deg,#fefe0c 0.5px,#fff600 2.5px,#ffd500 9.5px,#ffc300 39.5px,#ff9d00 50.5px,#ff8c00 53.5px,#fea108 56.5px,#f2f277 70.5px,#f1f17d 82.5px,#f2f274 84.5px,#fafa30 88.5px,#fafa2c 89.5px,#f3f36e 94.5px,#f2f272 102.5px,#cdeebb 116.5px,#b4ebe8 125.5px,#a7edea 138.5px,#adece9 151.5px,#b4ebe8 152.5px,#ededa0 153.5px,#fff500 155.5px,#fcfc1c 156.5px,#ededa5 158.5px,#e7e7da 159.5px,#e9e9c5 163.5px,#f0f085 165.5px,#f1f17c 166.5px,#ececb0 173.5px,#ececae 182.5px,#efef95 187.5px,#f5f558 192.5px,#fdfd16 196.5px)"></i><i style="top:56px;background:linear-gradient(90deg,#ffc300 0.5px,#ff9700 9.5px,#ff7200 48.5px,#ff4800 52.5px,#ff3b00 53.5px,#ff4000 54.5px,#ff5800 55.5px,#f7f747 71.5px,#f7f744 84.5px,#fcfc1c 89.5px,#f8f843 95.5px,#f8f83d 103.5px,#95efec 124.5px,#8fefed 151.5px,#ebebb7 153.5px,#fbfb29 154.5px,#fff800 155.5px,#fefe09 156.5px,#f5f55b 158.5px,#ececae 163.5px,#f2f278 170.5px,#f2f278 176.5px,#f8f843 185.5px,#fffc00 191.5px,#ffc900 196.5px)"></i><i style="top:57px;background:linear-gradient(90deg,#ff5a00 0.5px,#ff1a00 16.5px,#fa0000 29.5px,#f30000 44.5px,#fd0000 48.5px,#df0000 51.5px,#c20000 52.5px,#950000 53.5px,#9d0000 54.5px,#fcfc18 71.5px,#fcfc19 79.5px,#fefe06 80.5px,#ffec00 91.5px,#ffe200 100.5px,#ffe400 102.5px,#faef0c 104.5px,#96efec 123.5px,#93efec 151.5px,#9beeec 152.5px,#eeee9a 154.5px,#f2f279 155.5px,#f0f088 157.5px,#c1eae7 163.5px,#bdeae7 165.5px,#dce7e3 167.5px,#f4f463 171.5px,#f7f749 173.5px,#fafa31 176.5px,#fffc00 180.5px,#ff9300 192.5px,#ff6000 196.5px)"></i><i style="top:58px;background:linear-gradient(90deg,#ff4700 0.5px,#fd0000 17.5px,#d50000 35.5px,#d70000 44.5px,#e40000 48.5px,#d30000 50.5px,#be0000 51.5px,#850000 52.5px,#800000 54.5px,#fefe09 72.5px,#fefe09 79.5px,#ff7a00 81.5px,#ff6100 102.5px,#ff9700 103.5px,#a0eeeb 122.5px,#a1eeeb 152.5px,#cbe9e5 155.5px,#b7ebe8 158.5px,#78f2f0 163.5px,#78f2f0 166.5px,#87f0ee 167.5px,#a4edea 168.5px,#cfe9e5 169.5px,#e9e9c3 170.5px,#efef8e 171.5px,#f4f466 172.5px,#f6f64f 173.5px,#fcfc1c 177.5px,#fffd00 179.5px,#ff8200 192.5px,#ff4d00 196.5px)"></i><i style="top:59px;background:linear-gradient(90deg,#ffa500 0.5px,#ff7300 18.5px,#ff5e00 39.5px,#ff6000 48.5px,#ff4700 50.5px,#ff2e00 51.5px,#e50000 52.5px,#800000 53.5px,#800000 54.5px,#fafa2a 74.5px,#fafa2f 79.5px,#fff100 80.5px,#ffcb00 81.5px,#ffcd00 91.5px,#ffe400 98.5px,#ffc400 102.5px,#ffd500 103.5px,#cfe8e5 121.5px,#cde9e5 156.5px,#9feeeb 159.5px,#69f4f2 162.5px,#60f5f3 166.5px,#7bf2ef 168.5px,#a0eeeb 169.5px,#d8e8e4 170.5px,#f1f17c 172.5px,#f7f74c 175.5px,#ffff00 184.5px,#ffb100 195.5px,#ffa900 196.5px)"></i><i style="top:60px;background:linear-gradient(90deg,#fffb00 0.5px,#ffdb00 28.5px,#ffd600 47.5px,#ffb400 50.5px,#ff9a00 51.5px,#ff5800 52.5px,#cb0000 53.5px,#9e0000 54.5px,#f0f089 77.5px,#efef8e 80.5px,#f0f087 95.5px,#f3f36f 99.5px,#f9f938 103.5px,#f9f933 104.5px,#e8e8ce 120.5px,#e9e9ca 153.5px,#eaeabe 154.5px,#e9e9c5 156.5px,#e7e7db 157.5px,#85f0ee 160.5px,#64f4f2 162.5px,#5df5f3 166.5px,#71f3f1 168.5px,#94efec 169.5px,#cee9e5 170.5px,#ebebb4 171.5px,#f8f83e 177.5px,#fcfc17 190.5px,#fffc00 196.5px)"></i><i style="top:61px;background:linear-gradient(90deg,#f4f461 0.5px,#fafa2f 28.5px,#fcfc1f 47.5px,#ffff01 49.5px,#ffd500 51.5px,#ff9a00 52.5px,#ff1200 53.5px,#cd0000 54.5px,#e9e9c6 79.5px,#e9e9ca 89.5px,#ebebb4 96.5px,#f1f182 100.5px,#f9f934 104.5px,#eaeabf 120.5px,#e9e9c4 141.5px,#eaeabe 152.5px,#ebebb0 153.5px,#f1f181 154.5px,#f4f462 155.5px,#ececa8 157.5px,#e7e7d8 158.5px,#95efec 160.5px,#6af4f2 162.5px,#5df5f3 165.5px,#66f4f2 167.5px,#79f2f0 168.5px,#9eeeeb 169.5px,#d8e8e4 170.5px,#ececac 171.5px,#f3f370 172.5px,#f6f650 173.5px,#f5f556 182.5px,#f4f461 196.5px)"></i><i style="top:62px;background:linear-gradient(90deg,#eaeac2 0.5px,#f1f17f 31.5px,#f3f36a 47.5px,#f6f64d 49.5px,#fafa30 50.5px,#fefe06 51.5px,#ffcf00 52.5px,#ff5a00 53.5px,#f60000 54.5px,#cae9e5 79.5px,#c3eae6 88.5px,#e6e6e2 96.5px,#eeee9a 100.5px,#f5f55e 102.5px,#fefe0b 104.5px,#f1f181 113.5px,#e6e6e2 120.5px,#d2e8e4 132.5px,#e6e6e1 152.5px,#e9e9c8 153.5px,#f3f370 154.5px,#f9f936 155.5px,#f7f74a 156.5px,#ededa1 158.5px,#e7e7dc 159.5px,#9beeeb 161.5px,#76f2f0 163.5px,#6ef3f1 165.5px,#81f1ef 167.5px,#9beeeb 168.5px,#c7e9e6 169.5px,#e9e9c7 170.5px,#f5f557 172.5px,#f7f74a 173.5px,#f1f17d 179.5px,#f1f17d 180.5px,#eeee98 181.5px,#eaeaba 190.5px,#eaeac2 196.5px)"></i><i style="top:63px;background:linear-gradient(90deg,#baebe7 0.5px,#e7e7dc 18.5px,#eeee9b 47.5px,#f1f180 49.5px,#f8f843 51.5px,#fefe09 52.5px,#ffb500 53.5px,#ff3800 54.5px,#ff1600 55.5px,#a5edea 79.5px,#a0eeeb 88.5px,#c2eae7 95.5px,#e3e6e2 97.5px,#ebebb7 99.5px,#f2f274 101.5px,#f8f842 102.5px,#ffee00 103.5px,#ffb100 104.5px,#ffbc00 105.5px,#e6e6e2 120.5px,#e6e6e2 122.5px,#c0eae7 129.5px,#c7e9e6 140.5px,#e2e6e3 152.5px,#e8e8cf 153.5px,#f1f181 154.5px,#f7f749 155.5px,#f9f937 156.5px,#f9f933 157.5px,#f7f744 158.5px,#e9e9c5 161.5px,#e0e7e3 162.5px,#b9ebe8 164.5px,#c0eae7 166.5px,#d6e8e4 167.5px,#e8e8cf 168.5px,#f9f935 171.5px,#fdfd13 172.5px,#fbfb24 173.5px,#f1f17a 174.5px,#ededa3 177.5px,#ededa3 180.5px,#e2e6e2 181.5px,#c2eae7 190.5px,#bbebe7 196.5px)"></i><i style="top:64px;background:linear-gradient(90deg,#75f2f0 0.5px,#9ceeeb 16.5px,#e7e7dd 43.5px,#e9e9c3 48.5px,#eded9e 50.5px,#f1f181 51.5px,#f5f558 52.5px,#ffff00 53.5px,#ff2b00 55.5px,#80f1ef 79.5px,#81f1ef 88.5px,#b1ece9 95.5px,#d8e8e4 97.5px,#e7e7d7 98.5px,#efef94 100.5px,#f4f468 101.5px,#fcfc20 102.5px,#ffb700 103.5px,#ff4900 104.5px,#ff5f00 105.5px,#e6e6e2 120.5px,#e6e6e2 122.5px,#cce9e5 123.5px,#a5edea 129.5px,#acece9 139.5px,#d6e8e4 152.5px,#e3e6e2 153.5px,#f6f652 158.5px,#f7f745 159.5px,#f5f558 161.5px,#f0f086 164.5px,#f1f17f 166.5px,#fafa29 170.5px,#fbfb21 172.5px,#f8f842 173.5px,#ededa1 174.5px,#e9e9c8 175.5px,#e8e8cc 180.5px,#92efed 181.5px,#76f2f0 195.5px,#75f2f0 196.5px)"></i><i style="top:65px;background:linear-gradient(90deg,#5cf5f3 0.5px,#71f3f1 14.5px,#d8e7e4 45.5px,#e7e7d9 48.5px,#ebebb8 50.5px,#f2f27a 52.5px,#f8f83f 53.5px,#ffd400 54.5px,#ff5700 55.5px,#ff2d00 56.5px,#6ef3f1 78.5px,#6af3f2 86.5px,#91efed 91.5px,#b9ebe8 95.5px,#e3e6e2 97.5px,#ececaa 99.5px,#f6f653 101.5px,#ffff01 102.5px,#ffa000 103.5px,#ff2800 104.5px,#ff3b00 105.5px,#e6e6e2 120.5px,#e6e6e2 122.5px,#b5ebe8 123.5px,#89f0ee 128.5px,#8bf0ee 138.5px,#b1ece9 149.5px,#d4e8e4 154.5px,#e0e7e3 155.5px,#eaeabe 157.5px,#efef8f 159.5px,#f6f653 164.5px,#f7f748 168.5px,#f2f276 172.5px,#efef8c 173.5px,#eaeabd 174.5px,#e8e8d1 175.5px,#e8e8d3 180.5px,#79f2f0 181.5px,#5df5f3 196.5px)"></i><i style="top:66px;background:linear-gradient(90deg,#4cf7f5 0.5px,#50f6f5 13.5px,#a6edea 43.5px,#cde9e5 48.5px,#e7e7db 50.5px,#eded9f 52.5px,#f3f370 53.5px,#fcfc17 54.5px,#ffad00 55.5px,#ff4200 56.5px,#5cf5f3 78.5px,#5af5f4 85.5px,#6cf3f1 88.5px,#dbe7e3 96.5px,#eaeabb 98.5px,#f2f278 100.5px,#f7f747 101.5px,#fff700 102.5px,#ff9a00 103.5px,#ff2000 104.5px,#ff2600 105.5px,#e6e6e2 120.5px,#e6e6e2 122.5px,#9ceeeb 123.5px,#6df3f1 128.5px,#6bf3f2 138.5px,#91efed 149.5px,#baebe7 155.5px,#dee7e3 157.5px,#eaeabf 161.5px,#ededa2 164.5px,#ededa1 168.5px,#e7e7d9 175.5px,#e7e7da 180.5px,#6ff3f1 181.5px,#4df7f5 196.5px)"></i><i style="top:67px;background:linear-gradient(90deg,#41f8f7 0.5px,#39f9f8 13.5px,#79f2f0 43.5px,#aeece9 49.5px,#d7e8e4 51.5px,#e8e8d0 52.5px,#ededa3 53.5px,#f3f36b 54.5px,#fffd00 55.5px,#ff8f00 56.5px,#ff3600 57.5px,#55f6f4 77.5px,#49f7f6 82.5px,#5af5f4 87.5px,#dee7e3 96.5px,#eaeabb 98.5px,#f1f17d 100.5px,#f6f64f 101.5px,#fffa00 102.5px,#ff9e00 103.5px,#ff2100 104.5px,#ff1800 105.5px,#e6e6e2 121.5px,#e6e6e2 122.5px,#87f0ee 123.5px,#55f6f4 129.5px,#52f6f5 139.5px,#70f3f1 149.5px,#99eeec 155.5px,#d7e8e4 158.5px,#e6e6e0 160.5px,#e7e7d8 169.5px,#e6e6e1 180.5px,#6cf3f1 181.5px,#43f8f7 196.5px)"></i><i style="top:68px;background:linear-gradient(90deg,#40f8f7 0.5px,#30faf9 14.5px,#5bf5f4 44.5px,#86f0ee 49.5px,#a9edea 51.5px,#e7e7d7 53.5px,#ededa6 54.5px,#f5f55e 55.5px,#ffe500 56.5px,#ff6d00 57.5px,#ff3300 58.5px,#50f6f5 77.5px,#42f8f7 81.5px,#4ef6f5 87.5px,#c7e9e6 96.5px,#e7e7d6 98.5px,#eeee9b 100.5px,#f3f36f 101.5px,#fcfc1a 102.5px,#ffb200 103.5px,#ff3000 104.5px,#e6e6e2 120.5px,#e6e6e2 122.5px,#7af2f0 123.5px,#47f7f6 129.5px,#3df8f7 139.5px,#53f6f5 149.5px,#77f2f0 155.5px,#d4e8e4 159.5px,#e6e6e2 161.5px,#e6e6e2 180.5px,#80f1ef 181.5px,#4ff6f5 191.5px,#41f8f7 196.5px)"></i><i style="top:69px;background:linear-gradient(90deg,#41f8f7 0.5px,#2cfaf9 14.5px,#41f8f7 44.5px,#75f2f0 50.5px,#9eeeeb 52.5px,#c7e9e6 53.5px,#e8e8d2 54.5px,#eeee9a 55.5px,#f8f83f 56.5px,#ffc000 57.5px,#ff4100 58.5px,#ff6200 59.5px,#4ff6f5 77.5px,#3df8f7 82.5px,#42f8f7 87.5px,#9deeeb 96.5px,#dee7e3 99.5px,#e9e9ca 100.5px,#ededa0 101.5px,#f6f652 102.5px,#ffdf00 103.5px,#ff6000 104.5px,#ff1800 105.5px,#e6e6e1 119.5px,#e6e6e2 122.5px,#62f4f3 125.5px,#40f8f7 129.5px,#32faf9 139.5px,#3ff8f7 149.5px,#5bf5f4 155.5px,#89f0ee 157.5px,#d2e8e4 160.5px,#e6e6e2 161.5px,#e6e6e2 180.5px,#a8edea 181.5px,#69f4f2 188.5px,#43f8f7 196.5px)"></i><i style="top:70px;background:linear-gradient(90deg,#46f7f6 0.5px,#2cfaf9 13.5px,#34f9f8 44.5px,#72f3f1 51.5px,#88f0ee 52.5px,#dae7e3 54.5px,#eaeabb 55.5px,#f2f272 56.5px,#ffdf00 57.5px,#ff5200 58.5px,#ff4d00 59.5px,#4ff6f5 77.5px,#3bf9f8 82.5px,#3cf9f7 88.5px,#75f2f0 96.5px,#b1ece9 99.5px,#cfe9e5 100.5px,#e8e8d0 101.5px,#f0f086 102.5px,#fdfd11 103.5px,#ff9400 104.5px,#ff2c00 105.5px,#e6e6e1 118.5px,#e6e6e2 122.5px,#61f4f3 125.5px,#3ef8f7 129.5px,#2dfaf9 139.5px,#37f9f8 150.5px,#49f7f6 155.5px,#73f3f1 157.5px,#bfeae7 160.5px,#e6e6e2 161.5px,#e6e6e2 180.5px,#cee9e5 181.5px,#60f5f3 192.5px,#49f7f6 196.5px)"></i><i style="top:71px;background:linear-gradient(90deg,#53f6f5 0.5px,#2cfaf9 12.5px,#30faf9 44.5px,#6cf3f1 51.5px,#7ff1ef 52.5px,#cbe9e5 54.5px,#e9e9c6 55.5px,#f1f17f 56.5px,#fff500 57.5px,#ff6800 58.5px,#ff3d00 59.5px,#ffbf00 60.5px,#5af5f4 76.5px,#3ff8f7 80.5px,#33f9f9 88.5px,#5bf5f4 96.5px,#92efed 99.5px,#aeece9 100.5px,#d7e8e4 101.5px,#ececa9 102.5px,#f7f745 103.5px,#ffc300 104.5px,#ff4900 105.5px,#e6e6e2 118.5px,#e6e6e2 121.5px,#62f4f3 125.5px,#3ef8f7 129.5px,#2cfaf9 140.5px,#33f9f9 150.5px,#41f8f7 155.5px,#67f4f2 157.5px,#afece9 160.5px,#e6e6e2 161.5px,#e1e7e3 181.5px,#b1ece9 187.5px,#5ef5f3 195.5px,#56f6f4 196.5px)"></i><i style="top:72px;background:linear-gradient(90deg,#67f4f2 0.5px,#31faf9 11.5px,#30faf9 44.5px,#6af3f2 51.5px,#7cf2ef 52.5px,#cae9e5 54.5px,#e9e9c9 55.5px,#f0f087 56.5px,#fdfd0f 57.5px,#ff8200 58.5px,#ff3500 59.5px,#64f4f2 76.5px,#42f8f7 80.5px,#31faf9 88.5px,#51f6f5 96.5px,#84f1ee 99.5px,#9feeeb 100.5px,#c7e9e6 101.5px,#eaeabb 102.5px,#f4f464 103.5px,#ffe700 104.5px,#ff6b00 105.5px,#ff3300 106.5px,#e6e6e2 118.5px,#e6e6e2 121.5px,#67f4f2 125.5px,#41f8f7 129.5px,#2cfaf9 139.5px,#33f9f9 150.5px,#3ff8f7 155.5px,#7bf2f0 158.5px,#a9edea 160.5px,#e6e6e2 181.5px,#cee9e5 187.5px,#6cf3f1 196.5px)"></i><i style="top:73px;background:linear-gradient(90deg,#82f1ef 0.5px,#3cf9f7 11.5px,#2dfaf9 36.5px,#33faf9 44.5px,#74f2f0 51.5px,#88f0ee 52.5px,#d5e8e4 54.5px,#eaeac1 55.5px,#f0f087 56.5px,#fbfb29 57.5px,#ff9c00 58.5px,#ff3300 59.5px,#b0ece9 73.5px,#5bf5f4 78.5px,#48f7f6 81.5px,#35f9f8 88.5px,#52f6f5 96.5px,#86f0ee 99.5px,#a0eeeb 100.5px,#c8e9e6 101.5px,#eaeabd 102.5px,#f2f272 103.5px,#fefe08 104.5px,#ff9100 105.5px,#ff3300 106.5px,#e6e6e1 117.5px,#e6e6e2 122.5px,#81f1ef 124.5px,#4df7f5 128.5px,#30faf9 138.5px,#34f9f8 150.5px,#40f8f7 155.5px,#7bf2f0 158.5px,#a8edea 160.5px,#e6e6e2 183.5px,#d3e8e4 189.5px,#88f0ee 196.5px)"></i><i style="top:74px;background:linear-gradient(90deg,#a2edeb 0.5px,#4ff6f5 11.5px,#37f9f8 28.5px,#3ff8f7 44.5px,#90efed 51.5px,#a5edea 52.5px,#e7e7d8 54.5px,#f2f278 56.5px,#fcfc17 57.5px,#ff8b00 58.5px,#ff3300 59.5px,#e6e6e2 72.5px,#a5edea 75.5px,#5ff5f3 79.5px,#3ff8f7 88.5px,#53f6f4 95.5px,#7ef1ef 98.5px,#aeece9 100.5px,#d4e8e4 101.5px,#ebebb5 102.5px,#f1f17a 103.5px,#fafa2c 104.5px,#ffb500 105.5px,#ff4000 106.5px,#e6e6e0 117.5px,#e6e6e2 122.5px,#a6edea 123.5px,#5ef5f3 128.5px,#3af9f8 138.5px,#3af9f8 150.5px,#44f8f6 155.5px,#7ef1ef 158.5px,#aaecea 160.5px,#e6e6e1 184.5px,#dde7e3 190.5px,#a8edea 196.5px)"></i><i style="top:75px;background:linear-gradient(90deg,#c1eae7 0.5px,#68f4f2 12.5px,#4af7f6 26.5px,#4df7f5 39.5px,#5af5f4 44.5px,#b7ebe8 51.5px,#e6e6df 53.5px,#eeee9b 55.5px,#f3f36c 56.5px,#ffff02 57.5px,#ff7900 58.5px,#ff3400 59.5px,#e6e6e2 72.5px,#bfeae7 75.5px,#75f2f0 79.5px,#4df7f5 87.5px,#65f4f2 95.5px,#a8edea 99.5px,#e6e6e2 101.5px,#f1f183 103.5px,#f7f746 104.5px,#ffd500 105.5px,#ff5600 106.5px,#e7e7dc 116.5px,#e6e6e1 122.5px,#c0eae7 123.5px,#76f2f0 128.5px,#4cf7f5 138.5px,#49f7f6 150.5px,#51f6f5 155.5px,#8af0ee 158.5px,#b5ebe8 160.5px,#e7e7dd 184.5px,#e2e6e2 192.5px,#c6e9e6 196.5px)"></i><i style="top:76px;background:linear-gradient(90deg,#d9e7e4 0.5px,#86f0ee 13.5px,#66f4f2 25.5px,#63f4f2 35.5px,#80f1ef 44.5px,#e6e6de 52.5px,#ebebb1 54.5px,#efef91 55.5px,#f4f461 56.5px,#fff300 57.5px,#ff6800 58.5px,#ff3700 59.5px,#e7e7dd 72.5px,#d8e7e4 75.5px,#94efec 79.5px,#67f4f2 87.5px,#82f1ef 95.5px,#c4eae6 99.5px,#dbe7e3 100.5px,#e8e8cf 101.5px,#f0f086 103.5px,#f6f652 104.5px,#ffea00 105.5px,#ff6e00 106.5px,#ff1f00 107.5px,#e7e7d6 116.5px,#e6e6de 122.5px,#8ef0ed 129.5px,#67f4f2 138.5px,#61f4f3 150.5px,#69f4f2 155.5px,#c7e9e6 160.5px,#e7e7d9 187.5px,#e2e6e2 195.5px,#dde7e3 196.5px)"></i><i style="top:77px;background:linear-gradient(90deg,#e6e6de 0.5px,#cbe9e5 7.5px,#a5edea 14.5px,#86f0ee 25.5px,#83f1ef 34.5px,#aaedea 44.5px,#e6e6e0 50.5px,#eaeac0 53.5px,#f0f089 55.5px,#f5f556 56.5px,#ffe500 57.5px,#ff5700 58.5px,#ff3d00 59.5px,#e8e8d1 71.5px,#e7e7da 75.5px,#d9e7e4 77.5px,#b7ebe8 79.5px,#8af0ee 87.5px,#a5edea 95.5px,#e1e7e3 99.5px,#eaeac0 101.5px,#f0f084 103.5px,#f6f652 104.5px,#fff700 105.5px,#ff1600 107.5px,#eaeaba 115.5px,#e8e8ce 120.5px,#e2e6e3 125.5px,#b7ebe8 129.5px,#90efed 138.5px,#89f0ee 150.5px,#91efed 155.5px,#e1e7e3 160.5px,#e7e7d9 162.5px,#e7e7d9 195.5px,#e7e7dc 196.5px)"></i><i style="top:78px;background:linear-gradient(90deg,#e9e9c9 0.5px,#e3e6e2 9.5px,#b2ece9 24.5px,#afece9 34.5px,#d6e8e4 44.5px,#e7e7d9 47.5px,#eaeabf 52.5px,#eeee99 54.5px,#f2f277 55.5px,#f8f83f 56.5px,#ffce00 57.5px,#ff4300 58.5px,#ff4100 59.5px,#eaeac0 70.5px,#e8e8cd 76.5px,#e6e6e1 78.5px,#cee9e5 81.5px,#aeece9 87.5px,#c8e9e6 95.5px,#e7e7dd 98.5px,#ebebb7 101.5px,#f1f180 103.5px,#f6f64e 104.5px,#fffc00 105.5px,#ff9c00 106.5px,#ff1900 107.5px,#fa0000 108.5px,#f3f36f 114.5px,#efef92 117.5px,#ebebb4 126.5px,#e7e7d7 131.5px,#d8e8e4 138.5px,#cde9e5 149.5px,#d7e8e4 155.5px,#e7e7d7 157.5px,#eaeabb 160.5px,#e9e9cb 171.5px,#e9e9c8 196.5px)"></i><i style="top:79px;background:linear-gradient(90deg,#ececaf 0.5px,#eaeac1 10.5px,#e2e6e2 23.5px,#dee7e3 34.5px,#e9e9cb 44.5px,#ececac 52.5px,#f1f182 54.5px,#f5f55d 55.5px,#fcfc19 56.5px,#ffa700 57.5px,#ff2600 58.5px,#ff4d00 59.5px,#f0f086 69.5px,#eeee9e 76.5px,#e9e9c3 81.5px,#e7e7dd 88.5px,#eaeac1 96.5px,#eeee97 101.5px,#f0f084 102.5px,#f4f463 103.5px,#fafa2f 104.5px,#ffed00 105.5px,#ff9c00 106.5px,#ff1a00 107.5px,#d30000 108.5px,#ffda00 111.5px,#ffff01 113.5px,#fafa2e 115.5px,#f6f64e 119.5px,#eeee99 137.5px,#ececa8 145.5px,#ededa7 153.5px,#eeee9c 156.5px,#f0f087 159.5px,#ececaa 164.5px,#eaeaba 167.5px,#ececaf 196.5px)"></i><i style="top:80px;background:linear-gradient(90deg,#f2f274 0.5px,#f1f17a 10.5px,#ededa5 28.5px,#ededa2 36.5px,#f0f086 51.5px,#f3f36a 53.5px,#f6f64e 54.5px,#fbfb26 55.5px,#ffe500 56.5px,#ff0100 58.5px,#f9f937 67.5px,#f9f932 70.5px,#f2f279 78.5px,#eded9f 85.5px,#ededa3 89.5px,#f0f087 98.5px,#f2f276 101.5px,#f4f464 102.5px,#f8f844 103.5px,#fdfd0f 104.5px,#ffdc00 105.5px,#ff9900 106.5px,#ff3b00 107.5px,#ff0d00 108.5px,#ff9100 110.5px,#ffa500 111.5px,#ffde00 116.5px,#ffff03 128.5px,#fbfb22 139.5px,#fafa29 143.5px,#f7f746 147.5px,#f8f83c 156.5px,#f9f937 160.5px,#f0f089 164.5px,#f1f183 186.5px,#f2f275 196.5px)"></i><i style="top:81px;background:linear-gradient(90deg,#fbfb24 0.5px,#fbfb23 10.5px,#f5f55a 30.5px,#f6f64f 50.5px,#f8f83e 52.5px,#fefe0c 54.5px,#ffec00 55.5px,#ffb100 56.5px,#ff2b00 57.5px,#dc0000 58.5px,#ffc700 67.5px,#ffc100 70.5px,#fefe06 77.5px,#fafa31 81.5px,#f7f745 88.5px,#fafa2e 100.5px,#fcfc17 102.5px,#fffb00 103.5px,#ffb700 105.5px,#ff5700 107.5px,#ff4300 108.5px,#ff7c00 110.5px,#ff7f00 112.5px,#ffa500 116.5px,#ffd300 136.5px,#ffdc00 143.5px,#fff800 147.5px,#fff800 160.5px,#fefe07 161.5px,#f6f64e 164.5px,#f7f749 181.5px,#fbfb25 196.5px)"></i><i style="top:82px;background:linear-gradient(90deg,#ffeb00 0.5px,#ffe900 11.5px,#ffff04 21.5px,#fbfb25 33.5px,#fbfb22 50.5px,#fffa00 53.5px,#ffca00 55.5px,#ff8000 56.5px,#f10000 57.5px,#ca0000 58.5px,#ff6e00 66.5px,#ff6100 70.5px,#ff8500 73.5px,#ffd400 78.5px,#fff000 83.5px,#ffef00 100.5px,#ffd500 103.5px,#ff9d00 105.5px,#ff6000 107.5px,#ff5700 108.5px,#ff7600 110.5px,#ff6b00 112.5px,#ff8500 117.5px,#ffa500 139.5px,#ffae00 143.5px,#ffd600 146.5px,#ffdd00 155.5px,#ffdf00 160.5px,#fff900 162.5px,#fbfb21 164.5px,#fcfc1b 179.5px,#fffa00 190.5px,#ffec00 196.5px)"></i><i style="top:83px;background:linear-gradient(90deg,#ffc600 0.5px,#ffc100 10.5px,#fff900 32.5px,#fffc00 50.5px,#ffe200 53.5px,#ffce00 54.5px,#ffac00 55.5px,#ff5000 56.5px,#c10000 57.5px,#ec0000 64.5px,#ff1c00 65.5px,#ff3400 66.5px,#ff2300 69.5px,#ff3000 71.5px,#ffbc00 78.5px,#ffdc00 82.5px,#ffe200 98.5px,#ffd800 102.5px,#ffbc00 104.5px,#ff7a00 107.5px,#ff7300 108.5px,#ff7e00 110.5px,#ff6400 112.5px,#ff6b00 122.5px,#ff7900 142.5px,#ff9700 144.5px,#ffb900 146.5px,#ffc400 151.5px,#ffc700 160.5px,#fffb00 164.5px,#fff000 182.5px,#ffc800 196.5px)"></i><i style="top:84px;background:linear-gradient(90deg,#ffa700 0.5px,#ff9f00 9.5px,#ffe100 32.5px,#ffe600 50.5px,#ffcd00 53.5px,#ff9a00 55.5px,#ff4d00 56.5px,#d80000 57.5px,#e10000 58.5px,#b80000 63.5px,#bf0000 64.5px,#f20000 65.5px,#ff1300 66.5px,#ff0b00 70.5px,#ff2700 72.5px,#ff9a00 77.5px,#ffc100 80.5px,#ffd300 86.5px,#ffcd00 102.5px,#ffaa00 105.5px,#ff8900 108.5px,#ff9000 110.5px,#ff8100 113.5px,#ff6e00 133.5px,#ff7000 142.5px,#ff9300 144.5px,#ffba00 146.5px,#ffc700 150.5px,#ffc900 160.5px,#ffe800 165.5px,#ffd500 183.5px,#ffa900 196.5px)"></i><i style="top:85px;background:linear-gradient(90deg,#ffa000 0.5px,#ff9800 9.5px,#ffda00 32.5px,#ffdb00 51.5px,#ffb800 54.5px,#ffa000 55.5px,#ff4500 57.5px,#cb0000 63.5px,#c00000 64.5px,#f00000 65.5px,#ff1d00 66.5px,#ff2800 67.5px,#ff2300 70.5px,#ff4f00 73.5px,#ffa000 77.5px,#ffc900 81.5px,#ffd200 94.5px,#ffca00 103.5px,#ffa600 108.5px,#ffa800 111.5px,#ff7c00 133.5px,#ff7a00 142.5px,#ff9d00 144.5px,#ffc400 146.5px,#ffd100 150.5px,#ffd900 162.5px,#ffdf00 171.5px,#ffc600 186.5px,#ffa200 196.5px)"></i><i style="top:86px;background:linear-gradient(90deg,#ffb000 0.5px,#ffaa00 10.5px,#ffe200 33.5px,#ffe300 51.5px,#ffc700 54.5px,#ff7a00 58.5px,#fc0000 63.5px,#e10000 64.5px,#ff0d00 65.5px,#ff4500 66.5px,#ff5d00 67.5px,#ff6700 71.5px,#ffc500 78.5px,#ffdc00 83.5px,#ffda00 103.5px,#ffc700 109.5px,#ff9600 135.5px,#ff9300 142.5px,#ffb100 144.5px,#ffd200 146.5px,#ffde00 151.5px,#ffe400 174.5px,#ffc400 190.5px,#ffb100 196.5px)"></i><i style="top:87px;background:linear-gradient(90deg,#ffc500 0.5px,#ffc400 12.5px,#ffeb00 35.5px,#ffe700 52.5px,#ffa900 58.5px,#ff7000 62.5px,#ff2e00 63.5px,#ff0900 64.5px,#ff2e00 65.5px,#ff7100 66.5px,#ff9600 67.5px,#ffb200 73.5px,#ffe000 79.5px,#ffea00 93.5px,#ffe300 111.5px,#ffbd00 138.5px,#ffbb00 142.5px,#ffee00 147.5px,#ffe700 179.5px,#ffc600 196.5px)"></i><i style="top:88px;background:linear-gradient(90deg,#ffdd00 0.5px,#ffe200 16.5px,#fff700 42.5px,#ffee00 53.5px,#ffd500 57.5px,#ff6d00 62.5px,#ff3800 63.5px,#ff3900 64.5px,#ffa900 66.5px,#ffcb00 67.5px,#fff700 82.5px,#fff500 110.5px,#ffff00 114.5px,#ffe300 142.5px,#ffff01 146.5px,#fefe0b 153.5px,#fefe05 161.5px,#ffde00 196.5px)"></i><i style="top:89px;background:linear-gradient(90deg,#fff900 0.5px,#fefe08 27.5px,#fefe09 52.5px,#fff300 57.5px,#ff5100 63.5px,#ff7400 64.5px,#ffb400 65.5px,#ffe400 66.5px,#fff800 67.5px,#fefe0b 75.5px,#fcfc18 89.5px,#fdfd14 110.5px,#fafa2a 112.5px,#fefe0d 142.5px,#fafa2c 147.5px,#fafa2d 160.5px,#fdfd0e 165.5px,#fff900 196.5px)"></i><i style="top:90px;background:linear-gradient(90deg,#fcfc1f 0.5px,#fbfb28 52.5px,#fcfc17 57.5px,#ffb500 61.5px,#ff7500 62.5px,#ff7400 63.5px,#ffec00 65.5px,#fcfc1a 66.5px,#fafa2e 67.5px,#f8f83b 93.5px,#f9f935 110.5px,#f6f64f 112.5px,#f7f744 143.5px,#f6f651 151.5px,#f6f650 160.5px,#fafa2a 165.5px,#fcfc1f 196.5px)"></i><i style="top:91px;background:linear-gradient(90deg,#f8f842 0.5px,#f8f842 54.5px,#f8f83d 57.5px,#ffba00 61.5px,#ff8400 62.5px,#ff9500 63.5px,#ffdc00 64.5px,#fafa29 65.5px,#f6f650 66.5px,#f5f55c 69.5px,#f5f557 109.5px,#f6f655 110.5px,#f2f273 112.5px,#f2f272 160.5px,#f7f748 164.5px,#f8f842 196.5px)"></i><i style="top:92px;background:linear-gradient(90deg,#f5f55c 0.5px,#f5f559 57.5px,#f6f655 58.5px,#ffbc00 61.5px,#ff9100 62.5px,#ffb200 63.5px,#fffb00 64.5px,#f6f650 65.5px,#f3f36d 66.5px,#f2f271 108.5px,#f4f466 110.5px,#f0f087 112.5px,#f0f085 160.5px,#f6f656 164.5px,#f5f55b 192.5px,#f5f55c 196.5px)"></i><i style="top:93px;background:linear-gradient(90deg,#f2f276 0.5px,#f2f274 57.5px,#f3f36e 58.5px,#f5f559 59.5px,#fbfb20 60.5px,#ffd800 61.5px,#ffb400 62.5px,#ffd300 63.5px,#fbfb23 64.5px,#f3f369 65.5px,#f1f17b 66.5px,#f2f277 108.5px,#f3f36b 110.5px,#efef8d 112.5px,#f0f08b 160.5px,#f5f55a 164.5px,#f5f55e 183.5px,#f2f276 196.5px)"></i><i style="top:94px;background:linear-gradient(90deg,#efef95 0.5px,#efef94 57.5px,#f1f17d 59.5px,#f5f55c 60.5px,#fbfb25 61.5px,#ffff00 62.5px,#fcfc1e 63.5px,#f5f55e 64.5px,#f0f084 65.5px,#f0f087 67.5px,#f1f180 85.5px,#f1f180 108.5px,#f2f272 110.5px,#eeee96 112.5px,#efef94 160.5px,#f4f460 164.5px,#f4f460 181.5px,#efef95 195.5px,#efef95 196.5px)"></i><i style="top:95px;background:linear-gradient(90deg,#ebebb2 0.5px,#ececac 58.5px,#f1f17c 62.5px,#f0f084 63.5px,#ececa7 65.5px,#eeee9c 71.5px,#eeee9c 108.5px,#f0f088 110.5px,#ebebb1 112.5px,#ececaf 160.5px,#f2f273 164.5px,#f2f274 181.5px,#ebebb2 194.5px,#ebebb2 196.5px)"></i><i style="top:96px;background:linear-gradient(90deg,#e9e9c9 0.5px,#e9e9c5 58.5px,#eaeac2 60.5px,#e9e9c4 66.5px,#ebebb8 70.5px,#ebebb8 108.5px,#ededa4 110.5px,#e9e9c4 112.5px,#e9e9c2 160.5px,#efef90 164.5px,#efef92 181.5px,#e9e9c9 195.5px,#e9e9c9 196.5px)"></i><i style="top:97px;background:linear-gradient(90deg,#e6e6df 0.5px,#e7e7dc 58.5px,#e7e7dd 60.5px,#e0e7e3 63.5px,#e7e7d5 71.5px,#e7e7d4 108.5px,#eaeabf 110.5px,#e7e7d6 112.5px,#e7e7d5 160.5px,#ececae 164.5px,#ececb0 181.5px,#e6e6df 195.5px,#e6e6df 196.5px)"></i><i style="top:98px;background:linear-gradient(90deg,#d6e8e4 0.5px,#d9e7e4 58.5px,#d6e8e4 60.5px,#c5eae6 62.5px,#dee7e3 70.5px,#dee7e3 108.5px,#e8e8d4 110.5px,#e1e7e3 113.5px,#e6e6df 161.5px,#e9e9c3 165.5px,#e9e9c7 181.5px,#dee7e3 191.5px,#d6e8e4 196.5px)"></i><i style="top:99px;background:linear-gradient(90deg,#c1eae7 0.5px,#c5eae6 58.5px,#c4eae6 60.5px,#b4ebe8 62.5px,#c9e9e6 70.5px,#c9e9e6 108.5px,#dfe7e3 110.5px,#d3e8e4 114.5px,#d4e8e4 160.5px,#e7e7dc 164.5px,#e6e6e1 182.5px,#c1eae7 196.5px)"></i><i style="top:100px;background:linear-gradient(90deg,#a9edea 0.5px,#adece9 58.5px,#afece9 60.5px,#a4edea 62.5px,#b8ebe8 70.5px,#b8ebe8 108.5px,#cde9e5 110.5px,#c0eae7 114.5px,#c1eae7 160.5px,#dbe7e3 165.5px,#d4e8e4 182.5px,#a9edea 195.5px,#a9edea 196.5px)"></i><i style="top:101px;background:linear-gradient(90deg,#96efec 0.5px,#99eeec 60.5px,#a1eeeb 66.5px,#a8edea 82.5px,#a8edea 108.5px,#b9ebe8 110.5px,#a8edea 113.5px,#afece9 156.5px,#c7e9e6 180.5px,#96efec 194.5px,#96efec 196.5px)"></i><i style="top:102px;background:linear-gradient(90deg,#8af0ee 0.5px,#8cf0ed 65.5px,#97efec 72.5px,#9deeeb 109.5px,#a4edea 110.5px,#95efec 113.5px,#9feeeb 159.5px,#a7edea 182.5px,#8af0ee 196.5px)"></i><i style="top:103px;background:linear-gradient(90deg,#7df1ef 0.5px,#83f1ee 63.5px,#8bf0ed 187.5px,#7df1ef 196.5px)"></i><i style="top:104px;background:linear-gradient(90deg,#7cf2ef 0.5px,#82f1ef 67.5px,#7cf2ef 196.5px)"></i><i style="top:105px;background:linear-gradient(90deg,#7bf2f0 0.5px,#7bf2f0 196.5px)"></i><i style="top:106px;background:linear-gradient(90deg,#7af2f0 0.5px,#7af2f0 196.5px)"></i><i style="top:107px;background:linear-gradient(90deg,#79f2f0 0.5px,#79f2f0 196.5px)"></i><i style="top:108px;background:linear-gradient(90deg,#79f2f0 0.5px,#79f2f0 196.5px)"></i><i style="top:109px;background:linear-gradient(90deg,#78f2f0 0.5px,#78f2f0 196.5px)"></i><i style="top:110px;background:linear-gradient(90deg,#77f2f0 0.5px,#77f2f0 196.5px)"></i><i style="top:111px;background:linear-gradient(90deg,#76f2f0 0.5px,#76f2f0 196.5px)"></i><i style="top:112px;background:linear-gradient(90deg,#75f2f0 0.5px,#75f2f0 196.5px)"></i><i style="top:113px;background:linear-gradient(90deg,#75f2f0 0.5px,#75f2f0 196.5px)"></i><i style="top:114px;background:linear-gradient(90deg,#74f2f0 0.5px,#74f2f0 196.5px)"></i><i style="top:115px;background:linear-gradient(90deg,#73f2f0 0.5px,#73f2f0 196.5px)"></i></div><div class="fld" style="left:26px;top:168px;width:197px;height:116px"><i style="top:0px;background:linear-gradient(90deg,#f0f088 0.5px,#f0f088 196.5px)"></i><i style="top:1px;background:linear-gradient(90deg,#f0f088 0.5px,#efef8c 111.5px,#f0f088 154.5px,#f0f088 196.5px)"></i><i style="top:2px;background:linear-gradient(90deg,#f0f088 0.5px,#f0f08b 110.5px,#efef94 116.5px,#efef8e 153.5px,#f0f088 174.5px,#f0f088 196.5px)"></i><i style="top:3px;background:linear-gradient(90deg,#f0f088 0.5px,#efef8d 110.5px,#eeee9a 113.5px,#eeee98 152.5px,#f0f088 155.5px,#f0f088 196.5px)"></i><i style="top:4px;background:linear-gradient(90deg,#f0f088 0.5px,#f0f088 109.5px,#ededa1 113.5px,#eeee9e 152.5px,#f0f088 155.5px,#f0f088 196.5px)"></i><i style="top:5px;background:linear-gradient(90deg,#f0f088 0.5px,#efef8c 91.5px,#ededa7 101.5px,#efef95 109.5px,#ebebb5 113.5px,#eaeabe 121.5px,#ededa6 134.5px,#ededa3 152.5px,#f0f088 155.5px,#f0f088 196.5px)"></i><i style="top:6px;background:linear-gradient(90deg,#f0f088 0.5px,#efef90 88.5px,#e9e9c9 94.5px,#e0e7e3 97.5px,#cbe9e5 101.5px,#e7e7da 107.5px,#e8e8d3 109.5px,#e0e7e3 111.5px,#afece9 117.5px,#b0ece9 121.5px,#e7e7db 127.5px,#ebebb3 132.5px,#ededa5 150.5px,#f0f088 156.5px,#f0f088 196.5px)"></i><i style="top:7px;background:linear-gradient(90deg,#f0f088 0.5px,#efef8f 64.5px,#ececa8 88.5px,#e7e7dc 91.5px,#7df1ef 96.5px,#60f5f3 99.5px,#60f5f3 103.5px,#56f6f4 112.5px,#24fbfa 117.5px,#23fbfb 121.5px,#43f8f7 124.5px,#e2e6e3 131.5px,#ebebb8 135.5px,#ececae 152.5px,#efef8d 154.5px,#f0f088 196.5px)"></i><i style="top:8px;background:linear-gradient(90deg,#f0f088 0.5px,#efef8e 58.5px,#e9e9c9 88.5px,#e6e6e0 89.5px,#6ef3f1 93.5px,#3ff8f7 96.5px,#2bfafa 103.5px,#1afcfc 109.5px,#00fbff 112.5px,#00eaff 120.5px,#00fdff 126.5px,#26fbfa 128.5px,#cee9e5 133.5px,#e6e6e2 134.5px,#eaeabe 137.5px,#ebebb4 152.5px,#efef8d 154.5px,#f0f088 196.5px)"></i><i style="top:9px;background:linear-gradient(90deg,#f0f088 0.5px,#efef8e 56.5px,#ededa5 69.5px,#e6e6df 88.5px,#63f4f2 92.5px,#3ff8f7 94.5px,#2afafa 98.5px,#11fdfd 105.5px,#00f8ff 109.5px,#00e6ff 117.5px,#00ecff 127.5px,#00fcff 129.5px,#14fdfc 130.5px,#b5ebe8 134.5px,#e7e7dd 136.5px,#eaeac1 139.5px,#ebebb9 152.5px,#f0f088 159.5px,#f0f088 196.5px)"></i><i style="top:10px;background:linear-gradient(90deg,#f0f088 0.5px,#f0f08c 54.5px,#eeee9e 62.5px,#ededa0 70.5px,#e9e9c7 87.5px,#e6e6e0 88.5px,#63f4f3 92.5px,#3ef8f7 94.5px,#29fafa 98.5px,#10fdfd 104.5px,#00faff 107.5px,#00e6ff 114.5px,#00e9ff 128.5px,#00f7ff 130.5px,#0afefe 131.5px,#88f0ee 134.5px,#d3e8e4 136.5px,#e6e6df 137.5px,#e9e9c5 140.5px,#eaeaba 148.5px,#f0f088 161.5px,#f0f088 196.5px)"></i><i style="top:11px;background:linear-gradient(90deg,#efef8f 0.5px,#efef90 43.5px,#eaeabc 45.5px,#ebebb3 53.5px,#eded9e 62.5px,#ececae 71.5px,#e6e6e0 87.5px,#5cf5f3 93.5px,#39f9f8 96.5px,#12fdfd 104.5px,#00faff 107.5px,#00e6ff 114.5px,#00eaff 128.5px,#00ffff 131.5px,#4bf7f6 133.5px,#c9e9e6 136.5px,#e1e7e3 137.5px,#e8e8cc 140.5px,#efef8f 171.5px,#efef8f 196.5px)"></i><i style="top:12px;background:linear-gradient(90deg,#ebebb2 0.5px,#ebebb3 43.5px,#e7e7da 44.5px,#c5eae6 45.5px,#c3eae6 51.5px,#ededa0 60.5px,#ededa3 66.5px,#e2ebba 70.5px,#9deeeb 86.5px,#a9edea 88.5px,#4ff6f5 96.5px,#23fbfb 104.5px,#00ffff 107.5px,#00e6ff 113.5px,#00ebff 128.5px,#00faff 130.5px,#12fdfd 131.5px,#b2ece9 135.5px,#ebebb2 172.5px,#ebebb2 196.5px)"></i><i style="top:13px;background:linear-gradient(90deg,#e7e7d5 0.5px,#e7e7d7 43.5px,#71f3f1 45.5px,#75f2f0 52.5px,#8fefed 54.5px,#abece9 55.5px,#ededa3 62.5px,#ebebb2 66.5px,#e7e7d5 68.5px,#d5e8e4 69.5px,#4ef7f5 85.5px,#6af4f2 89.5px,#3cf9f7 103.5px,#02ffff 108.5px,#00e6ff 117.5px,#00ecff 126.5px,#08fefe 129.5px,#6bf3f2 132.5px,#b2ece9 134.5px,#e7e7d5 191.5px,#e7e7d5 196.5px)"></i><i style="top:14px;background:linear-gradient(90deg,#c6e9e6 0.5px,#c3eae6 43.5px,#6cf3f1 44.5px,#2dfaf9 45.5px,#51f6f5 54.5px,#75f2f0 56.5px,#96efec 57.5px,#e9e9c4 63.5px,#e5e6e2 66.5px,#7bf2ef 69.5px,#45f8f6 83.5px,#39f9f8 87.5px,#2afafa 91.5px,#21fbfb 104.5px,#0cf7fe 112.5px,#00f3ff 122.5px,#03ffff 125.5px,#3df8f7 128.5px,#c6e9e6 196.5px)"></i><i style="top:15px;background:linear-gradient(90deg,#7ef1ef 0.5px,#68f4f2 25.5px,#43f8f7 54.5px,#3af9f8 57.5px,#8bf0ed 64.5px,#6df3f1 67.5px,#42f8f7 69.5px,#44f8f6 81.5px,#41f8f7 85.5px,#20fbfb 87.5px,#06fefe 88.5px,#00f2ff 92.5px,#05f2fe 106.5px,#40f8f7 117.5px,#40f8f7 122.5px,#7ef1ef 196.5px)"></i><i style="top:16px;background:linear-gradient(90deg,#15fdfc 0.5px,#1ffcfb 15.5px,#61f4f3 53.5px,#3ef8f7 56.5px,#2dfaf9 57.5px,#1ffcfb 63.5px,#61f4f3 66.5px,#67f4f2 68.5px,#00e9ff 77.5px,#00f9ff 78.5px,#3af9f8 81.5px,#3cf8f7 84.5px,#00e0ff 90.5px,#00e0ff 104.5px,#38f9f8 110.5px,#94efec 111.5px,#a6edea 120.5px,#15fdfc 196.5px)"></i><i style="top:17px;background:linear-gradient(90deg,#00d5ff 0.5px,#07d7fe 11.5px,#63f4f3 49.5px,#73f3f1 52.5px,#65f4f2 55.5px,#3ef8f7 57.5px,#01ffff 59.5px,#00f0ff 60.5px,#00f4ff 62.5px,#15fdfc 63.5px,#63f4f2 65.5px,#7ef1ef 67.5px,#7df1ef 69.5px,#60edf3 71.5px,#00d5ff 76.5px,#00deff 78.5px,#00faff 80.5px,#16fdfc 82.5px,#0ffdfd 84.5px,#00feff 85.5px,#00d8ff 88.5px,#00d4ff 102.5px,#32faf9 109.5px,#54f6f4 110.5px,#00d5ff 196.5px)"></i><i style="top:18px;background:linear-gradient(90deg,#00baff 0.5px,#0bc4fe 13.5px,#47f7f6 47.5px,#6ef3f1 49.5px,#78f2f0 53.5px,#70f3f1 55.5px,#2dfaf9 58.5px,#08fefe 59.5px,#00e8ff 61.5px,#00f6ff 62.5px,#21fbfb 63.5px,#52f6f5 64.5px,#73f2f0 65.5px,#85f1ee 67.5px,#80f1ef 70.5px,#54ebf4 72.5px,#00d4ff 75.5px,#00c7ff 77.5px,#00daff 83.5px,#00c6ff 89.5px,#00c8ff 100.5px,#dae7e3 108.5px,#e6e6df 109.5px,#00baff 186.5px,#00baff 196.5px)"></i><i style="top:19px;background:linear-gradient(90deg,#00a7ff 0.5px,#06abfe 23.5px,#4bf7f6 47.5px,#65f4f2 48.5px,#77f2f0 50.5px,#73f2f0 55.5px,#00ecff 60.5px,#00e2ff 61.5px,#00f0ff 62.5px,#19fcfc 63.5px,#4df7f5 64.5px,#71f3f1 65.5px,#85f1ee 67.5px,#80f1ef 70.5px,#6ef3f1 71.5px,#45f7f6 72.5px,#0efdfd 73.5px,#00e4ff 74.5px,#00caff 75.5px,#00bbff 77.5px,#00beff 100.5px,#ececa9 108.5px,#ececab 110.5px,#e9e9c7 112.5px,#e1e7e3 113.5px,#00a6ff 184.5px,#00a7ff 196.5px)"></i><i style="top:20px;background:linear-gradient(90deg,#0094ff 0.5px,#008eff 22.5px,#038dff 25.5px,#43f8f7 47.5px,#5ff5f3 48.5px,#76f2f0 50.5px,#71f3f1 55.5px,#00d4ff 61.5px,#2bfafa 64.5px,#56f6f4 65.5px,#70f3f1 66.5px,#7ef1ef 68.5px,#6ef3f1 70.5px,#50f6f5 71.5px,#22fbfb 72.5px,#00f0ff 73.5px,#00baff 75.5px,#00acff 79.5px,#00b0ff 90.5px,#00b5ff 103.5px,#00c8ff 104.5px,#eded9f 108.5px,#ededa0 110.5px,#ececae 111.5px,#008fff 176.5px,#0094ff 196.5px)"></i><i style="top:21px;background:linear-gradient(90deg,#008bff 0.5px,#0086ff 22.5px,#007aff 25.5px,#72f3f1 51.5px,#6ef3f1 54.5px,#3cf4f7 58.5px,#00eeff 64.5px,#11fdfd 65.5px,#33f9f9 66.5px,#46f7f6 67.5px,#4cf7f5 68.5px,#44f8f6 69.5px,#2ffaf9 70.5px,#0afefe 71.5px,#00caff 73.5px,#00a6ff 75.5px,#009aff 86.5px,#00a9ff 98.5px,#00aaff 103.5px,#00b9ff 104.5px,#eaeac1 107.5px,#ededa5 108.5px,#008cff 175.5px,#008bff 196.5px)"></i><i style="top:22px;background:linear-gradient(90deg,#0089ff 0.5px,#0083ff 22.5px,#006dff 26.5px,#5ef5f3 52.5px,#52f6f5 54.5px,#3af4f8 56.5px,#00ccff 65.5px,#00e8ff 67.5px,#00e6ff 69.5px,#0098ff 74.5px,#008aff 86.5px,#009fff 96.5px,#00a5ff 104.5px,#00c6ff 105.5px,#15fdfc 106.5px,#9aeeec 107.5px,#e6e6e1 108.5px,#e7e7d5 109.5px,#008bff 174.5px,#0089ff 196.5px)"></i><i style="top:23px;background:linear-gradient(90deg,#0088ff 0.5px,#0080ff 22.5px,#0059ff 27.5px,#26fbfa 53.5px,#06fefe 55.5px,#00a6ff 67.5px,#009eff 70.5px,#0089ff 75.5px,#0081ff 86.5px,#0099ff 96.5px,#00a1ff 105.5px,#00b9ff 106.5px,#008cff 179.5px,#0088ff 196.5px)"></i><i style="top:24px;background:linear-gradient(90deg,#0086ff 0.5px,#0081ff 21.5px,#0066ff 25.5px,#0058ff 26.5px,#0023ff 28.5px,#00e0ff 54.5px,#0088ff 69.5px,#0078ff 86.5px,#0095ff 95.5px,#0086ff 196.5px)"></i><i style="top:25px;background:linear-gradient(90deg,#0084ff 0.5px,#007fff 21.5px,#0061ff 25.5px,#004dff 26.5px,#0017ff 27.5px,#0000e3 28.5px,#0081ff 67.5px,#006bff 82.5px,#0065ff 85.5px,#008cff 92.5px,#0090ff 126.5px,#0087ff 184.5px,#0084ff 196.5px)"></i><i style="top:26px;background:linear-gradient(90deg,#0084ff 0.5px,#0080ff 21.5px,#0062ff 25.5px,#004eff 26.5px,#0016ff 27.5px,#0000db 28.5px,#0000ef 29.5px,#0031ff 30.5px,#007bff 64.5px,#0064ff 79.5px,#0049ff 84.5px,#005aff 86.5px,#007cff 89.5px,#008fff 97.5px,#0086ff 184.5px,#0084ff 196.5px)"></i><i style="top:27px;background:linear-gradient(90deg,#0086ff 0.5px,#0085ff 21.5px,#006aff 25.5px,#005bff 26.5px,#0034ff 27.5px,#0000f2 28.5px,#0000df 29.5px,#001bff 30.5px,#0072ff 64.5px,#0056ff 77.5px,#002aff 84.5px,#002eff 85.5px,#006eff 88.5px,#0088ff 93.5px,#0086ff 196.5px)"></i><i style="top:28px;background:linear-gradient(90deg,#0083ff 0.5px,#0091ff 7.5px,#008bff 21.5px,#0067ff 26.5px,#004eff 27.5px,#0014ff 28.5px,#0000e0 29.5px,#0002ff 30.5px,#0065ff 64.5px,#0040ff 76.5px,#0010ff 84.5px,#0017ff 85.5px,#0054ff 87.5px,#0076ff 89.5px,#008bff 96.5px,#008cff 97.5px,#e8e8d2 115.5px,#eaeabd 117.5px,#e6e6de 124.5px,#ebebb6 125.5px,#ebebb6 126.5px,#e6e6de 127.5px,#0086ff 175.5px,#0083ff 196.5px)"></i><i style="top:29px;background:linear-gradient(90deg,#0078ff 0.5px,#0097ff 4.5px,#0093ff 21.5px,#0071ff 26.5px,#0061ff 27.5px,#0035ff 28.5px,#0000f3 29.5px,#005dff 61.5px,#0009ff 83.5px,#0011ff 85.5px,#0052ff 87.5px,#0074ff 89.5px,#008dff 97.5px,#0078ff 104.5px,#007aff 106.5px,#ededa6 114.5px,#f0f08c 116.5px,#efef92 119.5px,#e9e9c6 124.5px,#ededa5 125.5px,#ededa5 126.5px,#e9e9c9 127.5px,#0077ff 173.5px,#007aff 182.5px,#0077ff 196.5px)"></i><i style="top:30px;background:linear-gradient(90deg,#006fff 0.5px,#00a3ff 3.5px,#00afff 7.5px,#00abff 21.5px,#0082ff 26.5px,#0076ff 27.5px,#0059ff 28.5px,#0018ff 29.5px,#0000f0 30.5px,#004eff 60.5px,#0033ff 64.5px,#0009ff 79.5px,#0018ff 84.5px,#0021ff 85.5px,#006aff 88.5px,#0095ff 96.5px,#007dff 100.5px,#00b3ff 107.5px,#eaeaba 113.5px,#eeee9b 114.5px,#f0f088 116.5px,#efef8c 119.5px,#ececac 122.5px,#eaeabc 124.5px,#eded9f 125.5px,#006dff 171.5px,#006eff 196.5px)"></i><i style="top:31px;background:linear-gradient(90deg,#006fff 0.5px,#0080ff 1.5px,#00beff 3.5px,#00cdff 5.5px,#00ceff 21.5px,#00b0ff 25.5px,#007aff 28.5px,#0006ff 30.5px,#004cff 59.5px,#002aff 63.5px,#001bff 75.5px,#0030ff 81.5px,#004dff 85.5px,#007eff 88.5px,#008eff 92.5px,#00cdff 99.5px,#00fcff 101.5px,#5af5f4 104.5px,#7bf2ef 106.5px,#89f0ee 108.5px,#e9e9ca 113.5px,#ededa7 115.5px,#eeee9d 117.5px,#ebebb5 119.5px,#e7e7d9 120.5px,#eded9f 125.5px,#eded9f 126.5px,#eaeac1 127.5px,#006dff 170.5px,#006eff 196.5px)"></i><i style="top:32px;background:linear-gradient(90deg,#007fff 0.5px,#0094ff 1.5px,#00c0ff 2.5px,#00ddff 3.5px,#00eeff 5.5px,#00f5ff 21.5px,#00d8ff 25.5px,#00b9ff 27.5px,#009eff 28.5px,#006dff 29.5px,#0026ff 30.5px,#004aff 58.5px,#002cff 62.5px,#003cff 74.5px,#0082ff 86.5px,#009eff 89.5px,#00aeff 92.5px,#00c2ff 93.5px,#40f8f7 98.5px,#adece9 100.5px,#d6e8e4 101.5px,#e7e7d6 102.5px,#ececaf 105.5px,#ececa8 111.5px,#ededa3 126.5px,#e8e8d3 127.5px,#007dff 163.5px,#007dff 196.5px)"></i><i style="top:33px;background:linear-gradient(90deg,#00a4ff 0.5px,#00f9ff 3.5px,#25fbfa 10.5px,#2afafa 21.5px,#00f9ff 25.5px,#00c4ff 28.5px,#0091ff 29.5px,#004bff 30.5px,#001eff 31.5px,#0056ff 57.5px,#003cff 59.5px,#0053ff 67.5px,#009cff 83.5px,#00baff 89.5px,#00bdff 92.5px,#00d9ff 93.5px,#d0e8e5 98.5px,#e8e8d2 99.5px,#eeee9c 102.5px,#f0f089 107.5px,#eeee9d 117.5px,#ebebb6 126.5px,#cce9e5 127.5px,#009eff 164.5px,#0099ff 178.5px,#0086ff 183.5px,#0092ff 193.5px,#00a1ff 196.5px)"></i><i style="top:34px;background:linear-gradient(90deg,#00e3ff 0.5px,#00f4ff 1.5px,#15fdfc 2.5px,#32faf9 3.5px,#56f6f4 7.5px,#70f3f1 12.5px,#76f2f0 21.5px,#62f4f3 23.5px,#22fbfb 26.5px,#03ffff 27.5px,#00edff 28.5px,#00caff 29.5px,#003aff 31.5px,#004fff 57.5px,#0048ff 58.5px,#0082ff 66.5px,#00c0ff 78.5px,#00d4ff 88.5px,#00c5ff 90.5px,#008eff 92.5px,#00b3ff 93.5px,#07fefe 94.5px,#bdeae7 96.5px,#e7e7d9 97.5px,#e8e8ce 98.5px,#ededa5 100.5px,#f0f08c 103.5px,#efef8d 113.5px,#ebebb9 118.5px,#e6e6df 126.5px,#90efed 127.5px,#00d5ff 165.5px,#00d5ff 172.5px,#00a2ff 175.5px,#0093ff 180.5px,#00c7ff 192.5px,#00e0ff 196.5px)"></i><i style="top:35px;background:linear-gradient(90deg,#31faf9 0.5px,#71f3f1 3.5px,#b2ece9 11.5px,#bdeae7 21.5px,#aaecea 23.5px,#84f1ee 25.5px,#00fcff 29.5px,#00c4ff 30.5px,#0068ff 31.5px,#0037ff 32.5px,#0056ff 57.5px,#0073ff 59.5px,#00b9ff 63.5px,#00e9ff 69.5px,#00feff 78.5px,#00f4ff 86.5px,#00deff 89.5px,#00c6ff 90.5px,#0043ff 92.5px,#005cff 93.5px,#00d6ff 94.5px,#acece9 96.5px,#e3e6e2 97.5px,#efef8e 104.5px,#efef8f 112.5px,#ececae 116.5px,#eaeabe 117.5px,#00ffff 165.5px,#00feff 171.5px,#009eff 175.5px,#00b9ff 181.5px,#00feff 192.5px,#2cfaf9 196.5px)"></i><i style="top:36px;background:linear-gradient(90deg,#81f1ef 0.5px,#baebe7 5.5px,#e6e6e2 11.5px,#e7e7dd 22.5px,#d1e8e5 24.5px,#86f0ee 27.5px,#3af9f8 29.5px,#00fcff 30.5px,#0051ff 32.5px,#0042ff 33.5px,#005bff 56.5px,#007cff 58.5px,#00c8ff 60.5px,#00fbff 63.5px,#3df8f7 68.5px,#4ff6f5 76.5px,#2afafa 84.5px,#07fefe 86.5px,#00edff 88.5px,#00d8ff 89.5px,#00aaff 90.5px,#0003ff 92.5px,#0021ff 93.5px,#009aff 94.5px,#ededa7 104.5px,#ededa0 110.5px,#ebebb9 114.5px,#e4e6e2 117.5px,#24fbfa 165.5px,#1cfcfb 171.5px,#00f5ff 172.5px,#00b0ff 174.5px,#00caff 178.5px,#04fffe 185.5px,#7bf2ef 196.5px)"></i><i style="top:37px;background:linear-gradient(90deg,#c3eae6 0.5px,#e6e6e2 4.5px,#eaeac2 12.5px,#eaeabf 22.5px,#e7e7dc 25.5px,#d9e7e4 26.5px,#77f2f0 29.5px,#42f8f7 30.5px,#00e8ff 31.5px,#0088ff 32.5px,#0051ff 33.5px,#006dff 54.5px,#0060ff 55.5px,#0067ff 56.5px,#0080ff 57.5px,#00dfff 59.5px,#0cfefd 60.5px,#55f6f4 63.5px,#95efec 68.5px,#91efed 77.5px,#59f5f4 84.5px,#00ffff 87.5px,#00ccff 89.5px,#0083ff 90.5px,#001fff 91.5px,#0000e2 92.5px,#002cff 93.5px,#e7e7d9 106.5px,#e7e7dc 110.5px,#dde7e3 112.5px,#93efec 117.5px,#38f9f8 167.5px,#39f9f8 170.5px,#2dfaf9 171.5px,#0efdfd 172.5px,#00ecff 173.5px,#00d8ff 174.5px,#04fffe 179.5px,#beeae7 196.5px)"></i><i style="top:38px;background:linear-gradient(90deg,#e8e8d4 0.5px,#ececab 12.5px,#ececaa 22.5px,#e8e8d0 26.5px,#e6e6e1 27.5px,#a6edea 29.5px,#7bf2ef 30.5px,#3af9f8 31.5px,#00e3ff 32.5px,#0084ff 33.5px,#0052ff 34.5px,#005fff 35.5px,#0099ff 36.5px,#1efcfb 50.5px,#0068ff 54.5px,#0069ff 55.5px,#0080ff 56.5px,#00eaff 58.5px,#2afafa 59.5px,#65f4f2 60.5px,#96efec 62.5px,#d2e8e4 67.5px,#dbe7e3 69.5px,#d0e8e5 77.5px,#8ef0ed 84.5px,#08fefe 87.5px,#00e8ff 88.5px,#00baff 89.5px,#0000f3 91.5px,#0000ec 92.5px,#8cf0ed 108.5px,#5af5f4 114.5px,#47f7f6 169.5px,#43f8f7 171.5px,#0efefd 174.5px,#77f2f0 183.5px,#e5e6e2 194.5px,#e7e7d7 196.5px)"></i><i style="top:39px;background:linear-gradient(90deg,#ebebb9 0.5px,#eded9f 13.5px,#ededa1 22.5px,#eaeac2 26.5px,#e3e6e2 28.5px,#a1eeeb 30.5px,#72f3f1 31.5px,#30faf9 32.5px,#00d7ff 33.5px,#0075ff 34.5px,#0051ff 35.5px,#0073ff 36.5px,#00b8ff 37.5px,#65f4f2 46.5px,#7cf1ef 48.5px,#7af2f0 49.5px,#69f4f2 50.5px,#3ff8f7 51.5px,#00f3ff 52.5px,#007dff 54.5px,#0080ff 55.5px,#00abff 56.5px,#00e6ff 57.5px,#2dfaf9 58.5px,#78f2f0 59.5px,#abece9 60.5px,#d3e8e4 62.5px,#e6e6df 64.5px,#e9e9c9 69.5px,#e8e8d1 77.5px,#e0e7e3 81.5px,#baebe8 84.5px,#8cf0ed 85.5px,#0dfefd 87.5px,#00ddff 88.5px,#008fff 89.5px,#002fff 90.5px,#0000de 91.5px,#0013ff 92.5px,#eaeab9 125.5px,#4bf7f6 165.5px,#5cf5f3 172.5px,#55f6f4 174.5px,#b1ece9 183.5px,#e6e6e1 189.5px,#eaeabb 196.5px)"></i><i style="top:40px;background:linear-gradient(90deg,#ececa8 0.5px,#eeee9c 20.5px,#ececab 24.5px,#e7e7da 28.5px,#d8e8e4 29.5px,#8fefed 31.5px,#5ff5f3 32.5px,#10fdfd 33.5px,#00aeff 34.5px,#0060ff 35.5px,#0082ff 37.5px,#6cf3f1 45.5px,#89f0ee 46.5px,#9eeeeb 48.5px,#99eeec 50.5px,#86f0ee 51.5px,#4df7f5 52.5px,#00efff 53.5px,#00b5ff 55.5px,#00dfff 56.5px,#22fbfb 57.5px,#6ff3f1 58.5px,#adece9 59.5px,#d9e7e4 60.5px,#e7e7dd 61.5px,#ebebb5 68.5px,#eaeabe 78.5px,#e7e7dc 83.5px,#dae7e4 84.5px,#a7edea 85.5px,#0efdfd 87.5px,#00c7ff 88.5px,#0000f9 90.5px,#0000e5 91.5px,#bdeae7 117.5px,#eded9f 125.5px,#56f6f4 164.5px,#9feeeb 175.5px,#e6e6df 184.5px,#ececa9 196.5px)"></i><i style="top:41px;background:linear-gradient(90deg,#eded9f 0.5px,#eded9f 22.5px,#e9e9c5 27.5px,#e6e6e1 29.5px,#a4edea 31.5px,#77f2f0 32.5px,#3ef8f7 33.5px,#00e9ff 34.5px,#0084ff 35.5px,#004eff 36.5px,#0058ff 37.5px,#008bff 38.5px,#7ef1ef 45.5px,#98eeec 46.5px,#a5edea 49.5px,#9deeeb 51.5px,#7ff1ef 52.5px,#34f9f8 53.5px,#03ffff 54.5px,#00f3ff 55.5px,#16fdfc 56.5px,#9deeeb 58.5px,#cfe8e5 59.5px,#e7e7d8 60.5px,#ebebb8 64.5px,#ececa9 71.5px,#ebebb2 79.5px,#e9e9cb 83.5px,#e7e7dc 84.5px,#b7ebe8 85.5px,#68f4f2 86.5px,#05fffe 87.5px,#009cff 88.5px,#002aff 89.5px,#0000dd 90.5px,#e7e7d7 117.5px,#eaeabe 118.5px,#ededa0 126.5px,#ececab 127.5px,#e6e6e2 128.5px,#46f7f6 163.5px,#71f3f1 164.5px,#baebe8 172.5px,#e6e6e0 177.5px,#ededa4 193.5px,#ededa0 196.5px)"></i><i style="top:42px;background:linear-gradient(90deg,#eeee9c 0.5px,#ededa2 22.5px,#e8e8cf 28.5px,#e7e7dc 29.5px,#d6e8e4 30.5px,#58f5f4 33.5px,#18fcfc 34.5px,#00c7ff 35.5px,#006cff 36.5px,#0044ff 37.5px,#005bff 38.5px,#0081ff 39.5px,#7df1ef 45.5px,#99eeec 46.5px,#a6edea 49.5px,#9feeeb 51.5px,#87f0ee 52.5px,#4ef6f5 53.5px,#33f9f9 55.5px,#53f6f5 56.5px,#e3e6e2 59.5px,#eaeac2 61.5px,#ededa4 68.5px,#ededa7 78.5px,#eaeac1 83.5px,#e8e8d4 84.5px,#beeae7 85.5px,#63f4f3 86.5px,#00eaff 87.5px,#006aff 88.5px,#0000fe 89.5px,#0000ed 90.5px,#ececaa 118.5px,#bfeae7 127.5px,#00c5ff 129.5px,#009aff 130.5px,#00b9ff 131.5px,#00e4ff 132.5px,#00feff 133.5px,#16fdfc 134.5px,#4af7f6 163.5px,#a5edea 165.5px,#e6e6de 172.5px,#eaeaba 179.5px,#eeee9d 195.5px,#eeee9c 196.5px)"></i><i style="top:43px;background:linear-gradient(90deg,#eeee9c 0.5px,#ececac 22.5px,#e6e6e0 29.5px,#d2e8e5 30.5px,#5ff5f3 33.5px,#00f3ff 35.5px,#009cff 36.5px,#0053ff 37.5px,#003aff 38.5px,#004aff 39.5px,#0077ff 40.5px,#66f4f2 45.5px,#8af0ee 46.5px,#a1eeeb 48.5px,#9eeeeb 50.5px,#93efec 51.5px,#77f2f0 52.5px,#48f7f6 53.5px,#66f4f2 55.5px,#d0e8e5 58.5px,#e7e7d9 59.5px,#eaeabc 61.5px,#ededa0 69.5px,#ededa5 79.5px,#eaeabc 83.5px,#e8e8d0 84.5px,#c1eae7 85.5px,#5bf5f4 86.5px,#00c3ff 87.5px,#0034ff 88.5px,#0000f3 89.5px,#ededa1 118.5px,#ededa0 119.5px,#007bff 131.5px,#00cdff 132.5px,#00f9ff 133.5px,#27fbfa 135.5px,#74f2f0 161.5px,#5af5f4 163.5px,#d0e8e5 164.5px,#e7e7dd 168.5px,#ececae 176.5px,#eeee9c 196.5px)"></i><i style="top:44px;background:linear-gradient(90deg,#eeee9d 0.5px,#e9e9c4 23.5px,#e2e6e3 28.5px,#beeae7 30.5px,#30faf9 34.5px,#03ffff 35.5px,#00cdff 36.5px,#0084ff 37.5px,#0051ff 38.5px,#0033ff 39.5px,#0042ff 40.5px,#3bf9f8 45.5px,#63f4f2 46.5px,#7cf2ef 47.5px,#89f0ee 49.5px,#74f2f0 51.5px,#4af7f6 53.5px,#90efed 54.5px,#e1e6e3 57.5px,#eaeabb 60.5px,#eded9f 71.5px,#ededa7 80.5px,#eaeabb 83.5px,#e8e8d0 84.5px,#c0eae7 85.5px,#56f6f4 86.5px,#00b6ff 87.5px,#0024ff 88.5px,#eded9e 119.5px,#0020ff 130.5px,#005fff 131.5px,#00c1ff 132.5px,#00faff 133.5px,#1efcfb 134.5px,#37f9f8 136.5px,#35f9f8 148.5px,#73f2f0 157.5px,#a6edea 159.5px,#b0ece9 160.5px,#abece9 161.5px,#7df1ef 163.5px,#e8e8d2 164.5px,#ededa1 176.5px,#eeee9d 196.5px)"></i><i style="top:45px;background:linear-gradient(90deg,#ededa3 0.5px,#e0e7e3 24.5px,#aeece9 29.5px,#82f1ef 31.5px,#00feff 35.5px,#00e4ff 36.5px,#00beff 37.5px,#0056ff 39.5px,#0035ff 40.5px,#35f9f8 46.5px,#56f6f4 48.5px,#5ef5f3 51.5px,#6df3f1 52.5px,#8af0ee 53.5px,#dde7e3 54.5px,#e9e9c5 56.5px,#ebebb1 61.5px,#ededa0 77.5px,#ebebb1 82.5px,#e8e8d2 84.5px,#bcebe7 85.5px,#4bf7f5 86.5px,#00a5ff 87.5px,#001bff 88.5px,#0010ff 89.5px,#eded9e 119.5px,#ededa1 120.5px,#0025ff 129.5px,#0033ff 130.5px,#0075ff 131.5px,#00d1ff 132.5px,#06fefe 133.5px,#29fbfa 134.5px,#41f8f7 136.5px,#2ffaf9 147.5px,#74f2f0 156.5px,#e2e6e2 159.5px,#e6e6e1 161.5px,#d2e8e4 162.5px,#aeece9 163.5px,#eaeabf 164.5px,#ebebb6 169.5px,#eeee9e 176.5px,#ededa3 196.5px)"></i><i style="top:46px;background:linear-gradient(90deg,#ebebb6 0.5px,#dee7e3 13.5px,#b0ece9 23.5px,#7ef1ef 29.5px,#42f8f7 32.5px,#0ffdfd 34.5px,#00f8ff 35.5px,#00d8ff 37.5px,#00bbff 38.5px,#0089ff 39.5px,#0067ff 40.5px,#0081ff 41.5px,#00c0ff 42.5px,#2bfafa 47.5px,#50f6f5 50.5px,#77f2f0 51.5px,#dfe7e3 53.5px,#eaeabe 54.5px,#ececa8 56.5px,#ececac 61.5px,#ebebb8 66.5px,#ededa3 77.5px,#ebebb2 82.5px,#e7e7d5 84.5px,#b5ebe8 85.5px,#3ef8f7 86.5px,#0093ff 87.5px,#0013ff 88.5px,#182ef5 92.5px,#eded9f 119.5px,#ededa3 120.5px,#0029ff 129.5px,#0060ff 130.5px,#00b0ff 131.5px,#00f1ff 132.5px,#1dfcfb 133.5px,#38f9f8 134.5px,#4cf7f5 136.5px,#2cfaf9 147.5px,#53f6f5 151.5px,#91efed 156.5px,#cbe9e5 157.5px,#e7e7d5 158.5px,#eaeabc 160.5px,#e8e8cd 162.5px,#dde7e3 163.5px,#eaeac0 165.5px,#ececa9 173.5px,#ececab 191.5px,#ebebb5 196.5px)"></i><i style="top:47px;background:linear-gradient(90deg,#e8e8d1 0.5px,#dde7e3 5.5px,#a8edea 13.5px,#68f4f2 26.5px,#49f7f6 30.5px,#06fefe 34.5px,#00d3ff 38.5px,#00a6ff 40.5px,#00e7ff 44.5px,#5bf5f4 50.5px,#dce7e3 52.5px,#ececab 54.5px,#eded9f 58.5px,#ebebb1 62.5px,#e9e9ca 65.5px,#eaeabf 70.5px,#ececab 77.5px,#ebebb8 82.5px,#e7e7db 84.5px,#aaedea 85.5px,#2efaf9 86.5px,#0084ff 87.5px,#000bff 88.5px,#0023ff 89.5px,#ececab 120.5px,#e8e8d2 121.5px,#0041ff 127.5px,#0028ff 128.5px,#004cff 129.5px,#00e6ff 131.5px,#17fdfc 132.5px,#37f9f8 133.5px,#54f6f4 135.5px,#5af5f4 138.5px,#2afafa 145.5px,#2efaf9 148.5px,#4ff7f4 150.5px,#e7e7da 157.5px,#eaeabc 158.5px,#ececa8 160.5px,#ebebb5 162.5px,#e8e8cd 163.5px,#eaeabf 165.5px,#eaeac2 168.5px,#ececaa 176.5px,#eaeabe 191.5px,#e8e8cf 196.5px)"></i><i style="top:48px;background:linear-gradient(90deg,#cee9e5 0.5px,#76f2f0 12.5px,#27fbfa 31.5px,#00f9ff 35.5px,#00c2ff 40.5px,#00dfff 46.5px,#00e6ff 47.5px,#eaeabd 53.5px,#ededa7 54.5px,#eded9f 59.5px,#ebebb6 62.5px,#e6e6e2 65.5px,#e6e6de 69.5px,#eaeab9 77.5px,#e9e9c3 82.5px,#e0e7e3 84.5px,#99eeec 85.5px,#17fcfc 86.5px,#0076ff 87.5px,#0004ff 88.5px,#eaeac2 120.5px,#abece9 121.5px,#0045ff 126.5px,#002bff 127.5px,#0043ff 128.5px,#007dff 129.5px,#00d6ff 130.5px,#0ffdfd 131.5px,#38f9f8 132.5px,#5bf5f4 134.5px,#65f4f2 138.5px,#50f6f5 142.5px,#2dfaf9 144.5px,#2dfaf9 148.5px,#75f3e9 152.5px,#ececad 158.5px,#ededa0 160.5px,#ececa8 162.5px,#eaeabb 163.5px,#e9e9cb 167.5px,#ececb0 176.5px,#e9e9cb 188.5px,#dfe7e3 194.5px,#d2e8e5 196.5px)"></i><i style="top:49px;background:linear-gradient(90deg,#68f4f2 0.5px,#2cfaf9 8.5px,#07fefe 21.5px,#00f2ff 32.5px,#00cdff 37.5px,#00a0ff 41.5px,#009bff 47.5px,#00a3ff 48.5px,#00bfff 49.5px,#e8e8cd 53.5px,#ebebb0 54.5px,#ededa0 56.5px,#ececa7 60.5px,#e7e7dc 63.5px,#beeae7 65.5px,#b9ebe8 68.5px,#e6e6df 73.5px,#e8e8cd 77.5px,#e8e8d4 82.5px,#e6e6df 83.5px,#cde9e5 84.5px,#89f0ee 85.5px,#15fdfc 86.5px,#007fff 87.5px,#0006ff 88.5px,#0bfefe 121.5px,#0051ff 123.5px,#003cff 124.5px,#002dff 126.5px,#0044ff 127.5px,#007cff 128.5px,#00c9ff 129.5px,#00ffff 130.5px,#34f9f8 131.5px,#60f5f3 133.5px,#6ef3f1 137.5px,#58f5f4 142.5px,#2ffaf9 144.5px,#2ffaf9 148.5px,#6af4f2 151.5px,#ececa8 158.5px,#eded9f 161.5px,#ededa3 162.5px,#eaeabc 164.5px,#e7e7d6 165.5px,#d9e7e4 166.5px,#cee9e5 167.5px,#e7e7dc 172.5px,#e7e7d5 177.5px,#e1e7e3 183.5px,#6df3f1 196.5px)"></i><i style="top:50px;background:linear-gradient(90deg,#13fdfd 0.5px,#00fbff 3.5px,#00e1ff 16.5px,#00d2ff 33.5px,#00b2ff 37.5px,#0080ff 41.5px,#0065ff 47.5px,#0073ff 49.5px,#0089ff 50.5px,#b3ebe8 53.5px,#e7e7d8 54.5px,#eaeabe 55.5px,#ececad 57.5px,#eaeabe 60.5px,#dee7e3 62.5px,#a0eeeb 64.5px,#8fefed 66.5px,#9ceeeb 69.5px,#dfe7e3 76.5px,#dbe7e3 82.5px,#cee9e5 83.5px,#b3ece8 84.5px,#73f2f0 85.5px,#0cfefd 86.5px,#0086ff 87.5px,#0009ff 88.5px,#0004ff 90.5px,#004eff 122.5px,#0037ff 123.5px,#0049ff 126.5px,#007dff 127.5px,#00cbff 128.5px,#02ffff 129.5px,#33f9f9 130.5px,#64f4f2 132.5px,#75f2f0 135.5px,#70f3f1 140.5px,#65f4f2 142.5px,#36f9f8 144.5px,#2efaf9 147.5px,#4bf7f6 149.5px,#65f4f2 150.5px,#73f2f0 151.5px,#01ffff 154.5px,#ededa7 158.5px,#eded9e 161.5px,#ededa2 162.5px,#e9e9c7 164.5px,#d6e8e4 165.5px,#97efec 167.5px,#d3e8e4 174.5px,#c8e9e6 180.5px,#93efec 186.5px,#2bfafa 194.5px,#18fcfc 196.5px)"></i><i style="top:51px;background:linear-gradient(90deg,#00e5ff 0.5px,#00c3ff 9.5px,#00b5ff 33.5px,#0096ff 37.5px,#0045ff 45.5px,#0040ff 48.5px,#0056ff 50.5px,#006fff 51.5px,#19fcfc 53.5px,#74f2f0 54.5px,#aeece9 55.5px,#d1e8e5 56.5px,#b1ece9 61.5px,#97efec 62.5px,#6ef3f1 65.5px,#7af2f0 69.5px,#b9ebe8 76.5px,#b8ebe8 82.5px,#acece9 83.5px,#94efec 84.5px,#57f6f4 85.5px,#00feff 86.5px,#000fff 88.5px,#0000f0 89.5px,#005aff 90.5px,#006fff 123.5px,#0098ff 126.5px,#08fefe 128.5px,#39f9f8 129.5px,#68f4f2 131.5px,#7df1ef 134.5px,#7df1ef 141.5px,#74f2f0 142.5px,#47f7f6 144.5px,#37f9f8 146.5px,#48f7f6 148.5px,#75f2f0 150.5px,#7df1ef 151.5px,#69f4f2 152.5px,#0efdfd 153.5px,#00e8ff 154.5px,#1afcfc 155.5px,#e8e8d0 157.5px,#ececac 158.5px,#eded9f 160.5px,#ededa5 162.5px,#e7e7da 164.5px,#72f3f1 166.5px,#61f4f3 167.5px,#abece9 173.5px,#b6ebe8 177.5px,#9ceeeb 182.5px,#6cf3f1 186.5px,#00fdff 193.5px,#00e8ff 196.5px)"></i><i style="top:52px;background:linear-gradient(90deg,#00c8ff 0.5px,#00a4ff 7.5px,#0093ff 34.5px,#0068ff 40.5px,#002eff 46.5px,#0032ff 49.5px,#005aff 52.5px,#0071ff 53.5px,#1dfcfb 56.5px,#46f7f6 67.5px,#70f3f1 74.5px,#82f1ef 77.5px,#80f1ef 82.5px,#75f2f0 83.5px,#5ff5f3 84.5px,#2bfafa 85.5px,#00ecff 86.5px,#002aff 88.5px,#000fff 89.5px,#0067ff 90.5px,#00f7ff 126.5px,#13fdfd 127.5px,#3ef8f7 128.5px,#6ff3f1 130.5px,#83f1ee 133.5px,#82f1ef 142.5px,#55f6f4 145.5px,#56f6f4 147.5px,#82f1ef 150.5px,#85f1ee 151.5px,#00faff 153.5px,#00cbff 154.5px,#00ecff 155.5px,#5df5f3 156.5px,#d7e8e4 157.5px,#eaeabc 158.5px,#ececa8 159.5px,#ededa5 161.5px,#ebebb1 162.5px,#e8e8d0 163.5px,#c3eae6 164.5px,#70f3f1 165.5px,#2dfaf9 167.5px,#78f2f0 172.5px,#8fefed 175.5px,#87f0ee 180.5px,#59f5f4 185.5px,#08fefe 190.5px,#00e6ff 193.5px,#00ccff 196.5px)"></i><i style="top:53px;background:linear-gradient(90deg,#00b8ff 0.5px,#008dff 7.5px,#007fff 36.5px,#0036ff 46.5px,#003bff 50.5px,#006cff 55.5px,#25fbfa 66.5px,#3ef8f7 74.5px,#4bf7f5 78.5px,#48f7f6 82.5px,#2ffaf9 84.5px,#07fefe 85.5px,#00e2ff 86.5px,#0075ff 88.5px,#0069ff 89.5px,#0091ff 90.5px,#00caff 91.5px,#34f9f8 125.5px,#48f7f6 127.5px,#7af2f0 130.5px,#85f1ee 136.5px,#81f1ef 143.5px,#6ff3f1 146.5px,#85f1ee 151.5px,#67f4f2 152.5px,#00efff 153.5px,#00b2ff 154.5px,#00c8ff 155.5px,#13fdfd 156.5px,#90efed 157.5px,#e6e6df 158.5px,#eaeac0 159.5px,#ebebb5 160.5px,#ebebb9 161.5px,#e9e9cb 162.5px,#cee9e5 163.5px,#36f9f8 165.5px,#0afefe 167.5px,#48f7f6 171.5px,#69f4f2 175.5px,#60f5f3 181.5px,#35f9f8 186.5px,#00fbff 190.5px,#00bdff 196.5px)"></i><i style="top:54px;background:linear-gradient(90deg,#00b0ff 0.5px,#008aff 5.5px,#007eff 21.5px,#0076ff 37.5px,#0049ff 47.5px,#004eff 53.5px,#0075ff 57.5px,#03ffff 68.5px,#19fcfc 79.5px,#10fdfd 83.5px,#03ffff 84.5px,#00c1ff 87.5px,#00a8ff 88.5px,#00a3ff 89.5px,#00e0ff 92.5px,#00ffff 99.5px,#67f4f2 127.5px,#83f1ee 131.5px,#85f1ee 151.5px,#65f4f2 152.5px,#009fff 154.5px,#00a7ff 155.5px,#00dcff 156.5px,#2efaf9 157.5px,#91efed 158.5px,#cde9e5 159.5px,#e6e6e2 160.5px,#e0e7e3 161.5px,#82f1ef 163.5px,#3af9f8 164.5px,#04ffff 165.5px,#00f4ff 166.5px,#03ffff 168.5px,#34f9f8 172.5px,#45f8f6 177.5px,#33f9f9 184.5px,#00feff 189.5px,#00b5ff 196.5px)"></i><i style="top:55px;background:linear-gradient(90deg,#0098ff 0.5px,#0078ff 6.5px,#006cff 29.5px,#005dff 42.5px,#003fff 53.5px,#0072ff 59.5px,#00e0ff 70.5px,#00e2ff 83.5px,#00c5ff 86.5px,#00adff 88.5px,#00b2ff 90.5px,#00daff 94.5px,#06ddfe 104.5px,#87f0ee 125.5px,#9aeeec 134.5px,#9aeeec 150.5px,#75f2f0 152.5px,#00e6ff 153.5px,#0089ff 155.5px,#00abff 156.5px,#00dcff 157.5px,#15fdfc 158.5px,#52f6f5 159.5px,#72f3f1 160.5px,#00f8ff 164.5px,#00e6ff 165.5px,#00e6ff 167.5px,#08fefe 172.5px,#14fdfd 177.5px,#00faff 186.5px,#00bfff 193.5px,#009dff 196.5px)"></i><i style="top:56px;background:linear-gradient(90deg,#0069ff 0.5px,#0047ff 11.5px,#002cff 49.5px,#000eff 53.5px,#00c0ff 71.5px,#00bdff 84.5px,#00a1ff 89.5px,#00beff 95.5px,#00b9ff 103.5px,#b2ece9 124.5px,#bbebe7 148.5px,#bbebe7 151.5px,#00f3ff 153.5px,#0087ff 155.5px,#0095ff 156.5px,#00d2ff 158.5px,#00ffff 163.5px,#00e0ff 170.5px,#00e0ff 177.5px,#00b5ff 187.5px,#006cff 196.5px)"></i><i style="top:57px;background:linear-gradient(90deg,#001eff 0.5px,#0000fb 12.5px,#0000dc 38.5px,#0000de 49.5px,#0000bb 53.5px,#0009c3 55.5px,#009fff 71.5px,#00a0ff 79.5px,#008eff 81.5px,#0081ff 102.5px,#098ffe 104.5px,#b7ebe8 123.5px,#baebe8 151.5px,#a3edea 152.5px,#00e0ff 154.5px,#00d0ff 155.5px,#00deff 157.5px,#69f4f2 163.5px,#6bf3f1 165.5px,#5bf5f4 166.5px,#15fdfc 168.5px,#00f1ff 169.5px,#00caff 171.5px,#009cff 178.5px,#003aff 193.5px,#0021ff 196.5px)"></i><i style="top:58px;background:linear-gradient(90deg,#000bff 0.5px,#0000f1 8.5px,#0000cb 26.5px,#0000c6 50.5px,#0000b3 52.5px,#0009b7 55.5px,#0091ff 71.5px,#008fff 79.5px,#0053ff 80.5px,#0036ff 81.5px,#0022ff 102.5px,#0056ff 103.5px,#a8edea 122.5px,#a4edea 152.5px,#61f5f3 155.5px,#6df3f1 157.5px,#d1e8e5 162.5px,#e2e6e3 164.5px,#d6e8e4 166.5px,#bcebe7 167.5px,#90efed 168.5px,#0dfefd 170.5px,#00e5ff 171.5px,#00c1ff 173.5px,#0076ff 182.5px,#0029ff 193.5px,#000eff 196.5px)"></i><i style="top:59px;background:linear-gradient(90deg,#0046ff 0.5px,#001bff 23.5px,#0016ff 45.5px,#000eff 49.5px,#0003ff 50.5px,#0000f0 51.5px,#0000c5 52.5px,#0000b3 53.5px,#0011bb 56.5px,#00a3ff 73.5px,#00a4ff 79.5px,#006fff 80.5px,#005aff 81.5px,#0060ff 92.5px,#006eff 98.5px,#0056ff 102.5px,#006fff 103.5px,#6cf3f1 121.5px,#70f3f1 156.5px,#e7e7d8 162.5px,#e8e8d1 166.5px,#e7e7db 167.5px,#cfe8e5 168.5px,#96efec 169.5px,#00dbff 172.5px,#00c3ff 174.5px,#0048ff 196.5px)"></i><i style="top:60px;background:linear-gradient(90deg,#0085ff 0.5px,#006cff 34.5px,#0065ff 48.5px,#0050ff 50.5px,#003cff 51.5px,#0009ff 52.5px,#0000bf 53.5px,#000abe 55.5px,#00e3ff 77.5px,#00daff 97.5px,#00abff 104.5px,#30faf9 121.5px,#2bfafa 153.5px,#1efcfb 154.5px,#2cfaf9 156.5px,#48f7f6 157.5px,#abece9 159.5px,#d3e8e4 160.5px,#e7e7dd 161.5px,#e8e8cb 164.5px,#e8e8d2 167.5px,#e2e6e2 168.5px,#abece9 169.5px,#00fdff 171.5px,#00b7ff 176.5px,#0093ff 191.5px,#0086ff 196.5px)"></i><i style="top:61px;background:linear-gradient(90deg,#00c7ff 0.5px,#00a4ff 32.5px,#009bff 47.5px,#007cff 50.5px,#0069ff 51.5px,#0039ff 52.5px,#0000da 53.5px,#1dfcfb 79.5px,#24fbfa 88.5px,#10fdfd 95.5px,#00f5ff 98.5px,#00b0ff 104.5px,#16fdfc 121.5px,#1efcfb 138.5px,#14fdfc 152.5px,#00ffff 153.5px,#00dfff 154.5px,#00eaff 156.5px,#0bfefe 157.5px,#8cf0ed 159.5px,#c1eae7 160.5px,#e3e6e2 161.5px,#e8e8cc 164.5px,#e7e7d7 167.5px,#d9e7e4 168.5px,#9feeeb 169.5px,#00f9ff 171.5px,#00d2ff 172.5px,#00c0ff 173.5px,#00c8ff 196.5px)"></i><i style="top:62px;background:linear-gradient(90deg,#12fdfd 0.5px,#00fbff 9.5px,#00d6ff 40.5px,#00cfff 47.5px,#00baff 49.5px,#0089ff 51.5px,#005fff 52.5px,#0009ff 53.5px,#0000d2 54.5px,#65f4f2 79.5px,#6ef3f1 88.5px,#4cf7f5 95.5px,#02ffff 99.5px,#00c8ff 102.5px,#0097ff 104.5px,#41f8f7 121.5px,#5af5f4 130.5px,#4ef6f5 143.5px,#3ef8f7 152.5px,#15fdfc 153.5px,#00ccff 154.5px,#00b4ff 155.5px,#0bfefe 158.5px,#93efed 160.5px,#bcebe7 161.5px,#d8e8e4 162.5px,#e6e6e0 163.5px,#e6e6e0 166.5px,#d3e8e4 167.5px,#abece9 168.5px,#6af3f2 169.5px,#1dfcfb 170.5px,#00e6ff 171.5px,#00c4ff 172.5px,#00ddff 179.5px,#00efff 181.5px,#08fefe 189.5px,#13fdfd 196.5px)"></i><i style="top:63px;background:linear-gradient(90deg,#78f2f0 0.5px,#14fdfc 29.5px,#00fcff 40.5px,#00f1ff 47.5px,#00cbff 50.5px,#00b2ff 51.5px,#0088ff 52.5px,#0000f5 54.5px,#9beeeb 79.5px,#a8edea 87.5px,#73f2f0 95.5px,#0afefe 99.5px,#00d8ff 101.5px,#00b4ff 102.5px,#007dff 103.5px,#0059ff 104.5px,#1ca2fc 111.5px,#45f8f6 120.5px,#6ff3f1 127.5px,#78f2f0 130.5px,#70f3f1 139.5px,#47f7f6 152.5px,#20fcfb 153.5px,#00d5ff 154.5px,#00b7ff 155.5px,#00b1ff 157.5px,#00c2ff 158.5px,#07fefe 160.5px,#65f4f2 162.5px,#85f1ee 163.5px,#95efec 164.5px,#95efec 165.5px,#85f1ee 166.5px,#63f4f3 167.5px,#00f7ff 169.5px,#00afff 171.5px,#0099ff 172.5px,#00b0ff 173.5px,#00e5ff 174.5px,#00f8ff 178.5px,#00f8ff 179.5px,#3bf9f8 180.5px,#6df3f1 189.5px,#79f2f0 196.5px)"></i><i style="top:64px;background:linear-gradient(90deg,#dfe7e3 0.5px,#b1ece9 14.5px,#3ef8f7 42.5px,#28fbfa 47.5px,#08fefe 49.5px,#00dfff 51.5px,#00c0ff 52.5px,#0081ff 53.5px,#002fff 54.5px,#0000f6 55.5px,#d1e8e5 79.5px,#d7e8e4 87.5px,#8df0ed 95.5px,#33f9f9 98.5px,#0dfefd 99.5px,#00edff 100.5px,#00ceff 101.5px,#0099ff 102.5px,#000fff 104.5px,#002dff 105.5px,#45f8f6 120.5px,#45f8f6 121.5px,#60f5f3 122.5px,#9ceeeb 128.5px,#96efec 138.5px,#63f4f3 150.5px,#57f6f4 152.5px,#40f8f7 153.5px,#0ffdfd 154.5px,#00f3ff 155.5px,#00beff 158.5px,#00baff 159.5px,#00f0ff 164.5px,#00e9ff 166.5px,#00a7ff 170.5px,#00a0ff 172.5px,#00c2ff 173.5px,#03ffff 174.5px,#26fbfa 175.5px,#29fbfa 179.5px,#b2ece9 180.5px,#d7e8e4 191.5px,#dfe7e3 196.5px)"></i><i style="top:65px;background:linear-gradient(90deg,#e8e8cd 0.5px,#e0e7e3 15.5px,#5bf5f4 44.5px,#35f9f8 48.5px,#0bfefe 50.5px,#00f2ff 51.5px,#00d9ff 52.5px,#00acff 53.5px,#000cff 55.5px,#e6e6df 78.5px,#e7e7db 86.5px,#e2e6e3 88.5px,#83f1ee 95.5px,#00fdff 99.5px,#00beff 101.5px,#0086ff 102.5px,#003cff 103.5px,#0000f2 104.5px,#0013ff 105.5px,#45f8f6 120.5px,#45f8f6 121.5px,#7df1ef 122.5px,#c5eae6 128.5px,#c5eae6 137.5px,#92efed 148.5px,#68f4f2 153.5px,#44f8f6 155.5px,#0dfefd 157.5px,#00f6ff 158.5px,#00ccff 162.5px,#00baff 168.5px,#00d8ff 172.5px,#00edff 173.5px,#1dfcfb 174.5px,#30faf9 175.5px,#32faf9 179.5px,#d9e7e4 180.5px,#e7e7d9 188.5px,#e8e8ce 196.5px)"></i><i style="top:66px;background:linear-gradient(90deg,#eaeabc 0.5px,#eaeac2 13.5px,#e0e7e3 27.5px,#98eeec 43.5px,#61f4f3 48.5px,#34f9f8 50.5px,#14fdfc 51.5px,#00f2ff 52.5px,#00d0ff 53.5px,#0002ff 56.5px,#e8e8d1 77.5px,#e9e9c6 82.5px,#e8e8d3 87.5px,#dce7e3 89.5px,#6ef3f1 95.5px,#12fdfd 98.5px,#00f3ff 99.5px,#00b5ff 101.5px,#0080ff 102.5px,#0038ff 103.5px,#0000ec 104.5px,#0003ff 105.5px,#45f8f6 120.5px,#45f8f6 121.5px,#9feeeb 122.5px,#e7e7dd 128.5px,#e7e7dd 138.5px,#c8e9e6 147.5px,#7cf2ef 155.5px,#36f9f8 158.5px,#04fffe 162.5px,#00f5ff 167.5px,#00fdff 169.5px,#3af9f8 175.5px,#3bf9f8 179.5px,#e6e6e1 180.5px,#eaeabd 196.5px)"></i><i style="top:67px;background:linear-gradient(90deg,#ebebb2 0.5px,#ececab 13.5px,#e1e7e3 41.5px,#c4eae6 45.5px,#8cf0ed 49.5px,#4ff6f5 51.5px,#23fbfb 52.5px,#00f4ff 53.5px,#00c9ff 54.5px,#002eff 56.5px,#e9e9c5 77.5px,#eaeaba 82.5px,#e9e9cb 87.5px,#e3e6e2 89.5px,#67f4f2 95.5px,#10fdfd 98.5px,#00f4ff 99.5px,#00b9ff 101.5px,#0081ff 102.5px,#003aff 103.5px,#0000ea 104.5px,#44f8f6 120.5px,#45f8f6 121.5px,#bdeae7 122.5px,#e7e7d9 126.5px,#e9e9c6 129.5px,#e9e9c4 139.5px,#e5e6e2 149.5px,#abece9 155.5px,#55f6f4 158.5px,#40f8f7 160.5px,#34f9f8 167.5px,#43f8f7 179.5px,#e6e6de 180.5px,#ebebb3 196.5px)"></i><i style="top:68px;background:linear-gradient(90deg,#ececb0 0.5px,#ededa1 14.5px,#e9e9c8 43.5px,#e3e6e2 47.5px,#b0ece9 50.5px,#92efed 51.5px,#2cfaf9 53.5px,#00f5ff 54.5px,#00bfff 55.5px,#001aff 57.5px,#0003ff 58.5px,#eaeabf 77.5px,#ebebb2 82.5px,#eaeac0 87.5px,#e3e6e2 90.5px,#83f1ef 95.5px,#0dfefd 99.5px,#00efff 100.5px,#00ceff 101.5px,#0047ff 103.5px,#0000f1 104.5px,#44f8f6 120.5px,#45f8f6 121.5px,#cfe8e5 122.5px,#eaeac2 127.5px,#ebebb3 131.5px,#ececb0 140.5px,#e9e9c6 149.5px,#e4e6e2 154.5px,#dbe7e3 155.5px,#72f3f1 158.5px,#4af7f6 160.5px,#45f7f6 179.5px,#cde9e5 180.5px,#e6e6de 183.5px,#ebebb1 196.5px)"></i><i style="top:69px;background:linear-gradient(90deg,#ebebb0 0.5px,#eeee9d 14.5px,#ebebb3 44.5px,#e7e7db 49.5px,#dee7e3 50.5px,#c6e9e6 51.5px,#9feeeb 52.5px,#26fbfa 54.5px,#00ecff 55.5px,#00a6ff 56.5px,#0003ff 58.5px,#002dff 59.5px,#eaeabd 77.5px,#ececad 82.5px,#ebebb3 87.5px,#e3e6e2 92.5px,#b9ebe8 95.5px,#69f4f2 98.5px,#1dfcfb 100.5px,#00efff 101.5px,#00b6ff 102.5px,#000fff 104.5px,#44f8f6 119.5px,#45f8f6 121.5px,#d6e8e4 122.5px,#e9e9c6 126.5px,#ececb0 129.5px,#ededa2 139.5px,#ebebb1 149.5px,#e8e8cd 155.5px,#e4e6e2 156.5px,#75f2f0 159.5px,#45f8f6 161.5px,#45f8f6 179.5px,#92efed 180.5px,#dbe7e3 185.5px,#e7e7db 187.5px,#ebebb2 196.5px)"></i><i style="top:70px;background:linear-gradient(90deg,#ebebb5 0.5px,#eeee9c 13.5px,#ededa5 44.5px,#e3e6e2 51.5px,#c0eae7 52.5px,#4af7f6 54.5px,#0afefe 55.5px,#00cfff 56.5px,#000bff 58.5px,#001cff 59.5px,#eaeabd 77.5px,#ececa9 83.5px,#ececad 88.5px,#e7e7dc 95.5px,#dce7e3 96.5px,#86f0ee 99.5px,#5af5f4 100.5px,#1efcfb 101.5px,#00dbff 102.5px,#0031ff 104.5px,#0000f6 105.5px,#44f8f6 118.5px,#45f8f6 121.5px,#d6e8e4 122.5px,#eaeaba 127.5px,#ededa7 132.5px,#eeee9e 142.5px,#ececa9 150.5px,#eaeaba 155.5px,#dee7e3 157.5px,#74f2f0 160.5px,#45f8f6 161.5px,#45f8f6 179.5px,#5ff5f3 180.5px,#e2e6e2 189.5px,#ebebb7 196.5px)"></i><i style="top:71px;background:linear-gradient(90deg,#eaeac0 0.5px,#eeee9d 12.5px,#ededa1 44.5px,#e7e7dd 51.5px,#cfe9e5 52.5px,#61f4f3 54.5px,#19fcfc 55.5px,#00d9ff 56.5px,#0017ff 58.5px,#000fff 59.5px,#e9e9c7 76.5px,#ececae 80.5px,#ededa5 88.5px,#eaeac2 95.5px,#e7e7dd 97.5px,#d4e8e4 98.5px,#8af0ee 100.5px,#00f5ff 102.5px,#00aaff 103.5px,#0005ff 105.5px,#45f8f6 118.5px,#45f8f6 121.5px,#e8e8cf 125.5px,#ececae 129.5px,#eeee9c 139.5px,#ededa4 150.5px,#ebebb2 155.5px,#e7e7db 157.5px,#acece9 159.5px,#8af0ee 160.5px,#45f8f6 161.5px,#4ef7f5 181.5px,#87f0ee 186.5px,#e5e6e2 192.5px,#e9e9c3 196.5px)"></i><i style="top:72px;background:linear-gradient(90deg,#e8e8d4 0.5px,#ededa1 11.5px,#ededa1 44.5px,#e7e7db 51.5px,#d4e8e4 52.5px,#a2edeb 53.5px,#1dfcfb 55.5px,#00e0ff 56.5px,#0027ff 58.5px,#0005ff 59.5px,#e8e8d1 76.5px,#ebebb1 80.5px,#ededa2 88.5px,#ebebb8 95.5px,#e6e6e1 98.5px,#a0eeeb 100.5px,#61f4f3 101.5px,#06fefe 102.5px,#00c3ff 103.5px,#0018ff 105.5px,#45f8f6 118.5px,#45f8f6 121.5px,#e6e6df 124.5px,#ebebb3 128.5px,#eeee9c 139.5px,#ededa3 150.5px,#ececb0 155.5px,#e7e7d7 157.5px,#d5e8e4 158.5px,#95efec 160.5px,#46f7f6 181.5px,#60f5f3 186.5px,#98eeec 190.5px,#e6e6e1 195.5px,#e7e7d8 196.5px)"></i><i style="top:73px;background:linear-gradient(90deg,#d4e8e4 0.5px,#e7e7d8 3.5px,#ececa9 12.5px,#eeee9e 41.5px,#ededa3 44.5px,#e4e6e2 51.5px,#c5eae6 52.5px,#56f6f4 54.5px,#15fdfc 55.5px,#00e2ff 56.5px,#0099ff 57.5px,#0039ff 58.5px,#0001ff 59.5px,#98efec 73.5px,#e5e6e2 76.5px,#eaeabd 79.5px,#ededa5 88.5px,#ebebb9 95.5px,#e6e6e2 98.5px,#a1eeeb 100.5px,#62f4f3 101.5px,#0afefe 102.5px,#00d0ff 103.5px,#002fff 105.5px,#0000fe 106.5px,#44f8f6 117.5px,#45f8f6 121.5px,#b2ece9 122.5px,#e6e6df 125.5px,#eaeaba 128.5px,#eded9f 138.5px,#ededa4 150.5px,#ececb0 155.5px,#e7e7d7 157.5px,#d6e8e4 158.5px,#96efec 160.5px,#45f7f6 182.5px,#59f5f4 188.5px,#aeece9 194.5px,#cee9e5 196.5px)"></i><i style="top:74px;background:linear-gradient(90deg,#a9edea 0.5px,#e7e7dd 6.5px,#eaeaba 12.5px,#ededa5 29.5px,#ececaf 44.5px,#e4e6e2 49.5px,#bfeae7 51.5px,#9deeeb 52.5px,#00fdff 55.5px,#00d9ff 56.5px,#008fff 57.5px,#002eff 58.5px,#0002ff 59.5px,#45f8f6 72.5px,#71f3f1 73.5px,#dbe7e3 77.5px,#e8e8cc 79.5px,#ececab 87.5px,#e9e9c2 95.5px,#e7e7dd 97.5px,#d4e8e4 98.5px,#8fefed 100.5px,#52f6f5 101.5px,#03ffff 102.5px,#00d8ff 103.5px,#009cff 104.5px,#0048ff 105.5px,#0002ff 106.5px,#42f8f7 116.5px,#45f8f6 121.5px,#90efed 122.5px,#e1e6e3 126.5px,#e9e9c6 129.5px,#ececa9 138.5px,#ececaa 150.5px,#ebebb4 155.5px,#e7e7da 157.5px,#b3ece8 159.5px,#93efec 160.5px,#43f8f6 183.5px,#4df7f5 189.5px,#84f1ee 194.5px,#a2edeb 196.5px)"></i><i style="top:75px;background:linear-gradient(90deg,#7df1ef 0.5px,#e6e6de 10.5px,#eaeaba 24.5px,#eaeaba 38.5px,#e9e9c9 44.5px,#e6e6e1 46.5px,#88f0ee 51.5px,#3ff8f7 53.5px,#16fdfc 54.5px,#00f2ff 55.5px,#00d0ff 56.5px,#0084ff 57.5px,#0023ff 58.5px,#0005ff 59.5px,#45f8f6 72.5px,#81f1ef 75.5px,#e6e6e2 79.5px,#eaeabb 87.5px,#e8e8d4 95.5px,#e6e6e0 96.5px,#99eeec 99.5px,#73f2f0 100.5px,#00feff 102.5px,#00e0ff 103.5px,#00b0ff 104.5px,#000cff 106.5px,#3ff8f7 116.5px,#44f8f6 121.5px,#6ef3f1 122.5px,#e6e6e1 128.5px,#eaeaba 138.5px,#ebebb7 150.5px,#eaeac0 155.5px,#e1e7e3 157.5px,#86f0ee 160.5px,#3ff8f7 184.5px,#47f7f6 191.5px,#77f2f0 196.5px)"></i><i style="top:76px;background:linear-gradient(90deg,#5af5f4 0.5px,#b1ece9 9.5px,#d0e8e5 13.5px,#e6e6de 19.5px,#e8e8cf 34.5px,#e3e6e2 43.5px,#3ff8f7 52.5px,#06fefe 54.5px,#00ebff 55.5px,#00c9ff 56.5px,#007bff 57.5px,#0018ff 58.5px,#0009ff 59.5px,#3ff8f7 72.5px,#5df5f3 75.5px,#bcebe7 79.5px,#e6e6de 85.5px,#e7e7d7 88.5px,#dee7e3 93.5px,#d4e8e4 95.5px,#73f3f1 99.5px,#00fcff 102.5px,#00e3ff 103.5px,#00bbff 104.5px,#0072ff 105.5px,#0019ff 106.5px,#0000f4 107.5px,#38f9f8 116.5px,#40f8f7 121.5px,#93efed 126.5px,#bdeae7 128.5px,#e6e6e0 134.5px,#e8e8d0 142.5px,#e8e8d0 151.5px,#e7e7d6 155.5px,#dfe7e3 156.5px,#6ef3f1 160.5px,#3bf9f8 184.5px,#42f8f7 193.5px,#56f6f4 196.5px)"></i><i style="top:77px;background:linear-gradient(90deg,#41f8f7 0.5px,#6ff3f1 7.5px,#9aeeec 12.5px,#cce9e5 23.5px,#d7e8e4 33.5px,#a9edea 43.5px,#4ef7f5 49.5px,#19fcfc 53.5px,#00fdff 54.5px,#00e6ff 55.5px,#00c1ff 56.5px,#0070ff 57.5px,#000fff 58.5px,#000fff 59.5px,#32faf9 71.5px,#3ef8f7 75.5px,#74f2f0 78.5px,#8af0ee 79.5px,#cbe9e5 87.5px,#a2edeb 95.5px,#00f9ff 102.5px,#00e1ff 103.5px,#00bdff 104.5px,#007dff 105.5px,#002aff 106.5px,#0000e7 107.5px,#1afcfc 115.5px,#2ffaf9 119.5px,#3ef8f7 123.5px,#62f4f3 126.5px,#87f0ee 128.5px,#c3eae6 137.5px,#cfe9e5 149.5px,#c2eae7 155.5px,#5ff5f3 159.5px,#4df7f5 160.5px,#35f9f8 190.5px,#3ff8f7 196.5px)"></i><i style="top:78px;background:linear-gradient(90deg,#29fbfa 0.5px,#46f7f6 8.5px,#6ff3f1 15.5px,#93efed 24.5px,#9beeeb 33.5px,#5df5f3 44.5px,#35f9f8 48.5px,#1afcfc 52.5px,#07fefe 53.5px,#00daff 55.5px,#00b0ff 56.5px,#0003ff 58.5px,#1dfcfb 70.5px,#2efaf9 76.5px,#63f4f3 80.5px,#98eeec 87.5px,#72f3f1 95.5px,#0dfefd 101.5px,#00f7ff 102.5px,#00dfff 103.5px,#00bbff 104.5px,#0083ff 105.5px,#0038ff 106.5px,#0000e4 107.5px,#00dcff 114.5px,#00f5ff 118.5px,#03ffff 124.5px,#32faf9 129.5px,#5ef5f3 137.5px,#70f3f1 148.5px,#60f5f3 155.5px,#29fbfa 158.5px,#18fcfc 160.5px,#2afafa 171.5px,#28fbfa 196.5px)"></i><i style="top:79px;background:linear-gradient(90deg,#09fefe 0.5px,#1bfcfc 9.5px,#52f6f5 25.5px,#58f5f4 33.5px,#0dfefd 51.5px,#00f5ff 53.5px,#00c8ff 55.5px,#0095ff 56.5px,#0044ff 57.5px,#0000f2 58.5px,#00eaff 69.5px,#00ffff 77.5px,#1efcfb 80.5px,#47f7f6 87.5px,#2afafa 95.5px,#02ffff 99.5px,#00e4ff 102.5px,#00ccff 103.5px,#007aff 105.5px,#003bff 106.5px,#0000e1 107.5px,#0000c9 108.5px,#0095ff 113.5px,#00baff 116.5px,#00f9ff 137.5px,#08fefe 145.5px,#08fefe 151.5px,#00f9ff 156.5px,#00edff 160.5px,#16fdfc 168.5px,#09fefe 196.5px)"></i><i style="top:80px;background:linear-gradient(90deg,#00deff 0.5px,#00ebff 15.5px,#03ffff 30.5px,#00e9ff 51.5px,#00d5ff 53.5px,#00a4ff 55.5px,#0075ff 56.5px,#001dff 57.5px,#0000de 58.5px,#00b6ff 67.5px,#00bbff 72.5px,#00f0ff 81.5px,#00fdff 89.5px,#00e4ff 100.5px,#00d0ff 102.5px,#00b8ff 103.5px,#006fff 105.5px,#0000f9 107.5px,#0000e5 108.5px,#0018ff 109.5px,#0044ff 110.5px,#0078ff 116.5px,#00a8ff 139.5px,#00b4ff 144.5px,#00c0ff 149.5px,#00b7ff 160.5px,#00edff 164.5px,#00deff 196.5px)"></i><i style="top:81px;background:linear-gradient(90deg,#00a8ff 0.5px,#00abff 12.5px,#00ceff 32.5px,#00c0ff 51.5px,#00a9ff 53.5px,#007dff 55.5px,#004fff 56.5px,#0000f0 57.5px,#0000cc 58.5px,#0069ff 67.5px,#0069ff 71.5px,#00b2ff 81.5px,#00bdff 89.5px,#00a9ff 101.5px,#0073ff 104.5px,#0013ff 107.5px,#000aff 108.5px,#0033ff 110.5px,#003fff 113.5px,#0058ff 120.5px,#0071ff 140.5px,#007dff 144.5px,#008aff 150.5px,#008aff 160.5px,#00c5ff 164.5px,#00b8ff 187.5px,#00a8ff 196.5px)"></i><i style="top:82px;background:linear-gradient(90deg,#0080ff 0.5px,#0083ff 14.5px,#00a7ff 34.5px,#00a5ff 50.5px,#0089ff 53.5px,#0065ff 55.5px,#002bff 56.5px,#0000cc 57.5px,#0005cf 59.5px,#002aff 66.5px,#0021ff 70.5px,#0053ff 75.5px,#007bff 80.5px,#0085ff 92.5px,#007eff 101.5px,#006dff 103.5px,#001bff 107.5px,#0017ff 108.5px,#002dff 110.5px,#0027ff 112.5px,#003aff 119.5px,#0057ff 143.5px,#0075ff 147.5px,#0078ff 160.5px,#00a6ff 164.5px,#0099ff 183.5px,#0080ff 196.5px)"></i><i style="top:83px;background:linear-gradient(90deg,#0066ff 0.5px,#0065ff 12.5px,#008aff 34.5px,#0088ff 51.5px,#0069ff 54.5px,#004eff 55.5px,#0009ff 56.5px,#0000c1 57.5px,#0000d7 64.5px,#0000f5 65.5px,#0000ff 67.5px,#0000f9 70.5px,#000dff 72.5px,#0060ff 78.5px,#0077ff 83.5px,#0075ff 101.5px,#005bff 104.5px,#002dff 107.5px,#0031ff 110.5px,#0021ff 112.5px,#0031ff 142.5px,#005dff 146.5px,#0067ff 160.5px,#008bff 164.5px,#007eff 185.5px,#0067ff 196.5px)"></i><i style="top:84px;background:linear-gradient(90deg,#004fff 0.5px,#004dff 11.5px,#007aff 34.5px,#0078ff 51.5px,#005aff 54.5px,#0041ff 55.5px,#0006ff 56.5px,#0000c5 57.5px,#0000c4 64.5px,#0000ec 66.5px,#0000e5 70.5px,#0000f9 72.5px,#0053ff 78.5px,#006cff 83.5px,#0069ff 102.5px,#0039ff 108.5px,#003dff 110.5px,#0033ff 113.5px,#0028ff 139.5px,#0029ff 142.5px,#005dff 146.5px,#0065ff 158.5px,#0078ff 163.5px,#0073ff 181.5px,#0050ff 196.5px)"></i><i style="top:85px;background:linear-gradient(90deg,#0049ff 0.5px,#0046ff 11.5px,#0074ff 34.5px,#0073ff 51.5px,#0058ff 54.5px,#0046ff 55.5px,#0006ff 57.5px,#0000c4 63.5px,#0000c4 64.5px,#0000f1 66.5px,#0000fa 71.5px,#0022ff 74.5px,#005cff 79.5px,#006cff 86.5px,#0066ff 103.5px,#004cff 108.5px,#0043ff 117.5px,#002fff 138.5px,#0030ff 142.5px,#0064ff 146.5px,#006cff 158.5px,#0076ff 170.5px,#005eff 188.5px,#004aff 196.5px)"></i><i style="top:86px;background:linear-gradient(90deg,#0054ff 0.5px,#0053ff 12.5px,#0079ff 35.5px,#0078ff 51.5px,#0057ff 55.5px,#0033f8 58.5px,#0000d4 63.5px,#0000cb 64.5px,#0000ea 65.5px,#000eff 66.5px,#001bff 67.5px,#0021ff 71.5px,#0069ff 79.5px,#0075ff 90.5px,#006eff 104.5px,#0041ff 136.5px,#0040ff 142.5px,#006dff 146.5px,#0079ff 173.5px,#0059ff 194.5px,#0055ff 196.5px)"></i><i style="top:87px;background:linear-gradient(90deg,#0063ff 0.5px,#0066ff 15.5px,#007fff 39.5px,#007aff 52.5px,#0043ff 59.5px,#0023ff 62.5px,#0000f6 63.5px,#0000e2 64.5px,#0001ff 65.5px,#002dff 66.5px,#0043ff 67.5px,#0056ff 73.5px,#0079ff 80.5px,#0077ff 106.5px,#006cff 123.5px,#005bff 142.5px,#0080ff 147.5px,#0076ff 184.5px,#0063ff 196.5px)"></i><i style="top:88px;background:linear-gradient(90deg,#0074ff 0.5px,#007cff 21.5px,#0085ff 51.5px,#006dff 57.5px,#0021ff 62.5px,#0000ff 63.5px,#0005ff 64.5px,#0053ff 66.5px,#0067ff 67.5px,#0087ff 83.5px,#0085ff 110.5px,#0088ff 118.5px,#0077ff 142.5px,#0092ff 148.5px,#008eff 161.5px,#0074ff 196.5px)"></i><i style="top:89px;background:linear-gradient(90deg,#0087ff 0.5px,#0091ff 52.5px,#0084ff 56.5px,#0014ff 63.5px,#002fff 64.5px,#005bff 65.5px,#007aff 66.5px,#008aff 68.5px,#009bff 89.5px,#0099ff 110.5px,#00a8ff 113.5px,#0093ff 142.5px,#00aaff 148.5px,#00a4ff 161.5px,#0095ff 166.5px,#0087ff 196.5px)"></i><i style="top:90px;background:linear-gradient(90deg,#009fff 0.5px,#00a3ff 53.5px,#009bff 56.5px,#0050ff 61.5px,#0027ff 62.5px,#002dff 63.5px,#0081ff 65.5px,#009eff 66.5px,#00acff 68.5px,#00afff 110.5px,#00c0ff 113.5px,#00bbff 144.5px,#00bfff 160.5px,#00a7ff 165.5px,#009fff 196.5px)"></i><i style="top:91px;background:linear-gradient(90deg,#00a7ff 0.5px,#00a5ff 56.5px,#00a4ff 57.5px,#0045ff 61.5px,#0023ff 62.5px,#0036ff 63.5px,#009cff 65.5px,#00b2ff 66.5px,#00baff 108.5px,#00b6ff 110.5px,#00c9ff 112.5px,#00c7ff 160.5px,#00abff 165.5px,#00a7ff 196.5px)"></i><i style="top:92px;background:linear-gradient(90deg,#00a1ff 0.5px,#009bff 58.5px,#002eff 61.5px,#0016ff 62.5px,#0033ff 63.5px,#009dff 65.5px,#00aeff 66.5px,#00b0ff 108.5px,#00a9ff 110.5px,#00bfff 112.5px,#00bdff 160.5px,#009dff 164.5px,#00a1ff 196.5px)"></i><i style="top:93px;background:linear-gradient(90deg,#009bff 0.5px,#0095ff 58.5px,#0084ff 59.5px,#002bff 61.5px,#0016ff 62.5px,#0032ff 63.5px,#006cff 64.5px,#0096ff 65.5px,#009fff 67.5px,#009dff 108.5px,#0095ff 110.5px,#00acff 112.5px,#00a9ff 160.5px,#0088ff 164.5px,#008eff 185.5px,#009bff 196.5px)"></i><i style="top:94px;background:linear-gradient(90deg,#00a4ff 0.5px,#009eff 58.5px,#0091ff 59.5px,#0079ff 60.5px,#0051ff 61.5px,#003eff 62.5px,#0057ff 63.5px,#0083ff 64.5px,#009aff 65.5px,#0096ff 108.5px,#008eff 110.5px,#00a6ff 112.5px,#00a3ff 160.5px,#0080ff 164.5px,#0084ff 182.5px,#00a4ff 196.5px)"></i><i style="top:95px;background:linear-gradient(90deg,#00b7ff 0.5px,#00b3ff 58.5px,#0091ff 62.5px,#00b1ff 65.5px,#00a8ff 76.5px,#00a8ff 108.5px,#009cff 110.5px,#00b7ff 112.5px,#00b4ff 160.5px,#008cff 164.5px,#0091ff 182.5px,#00b7ff 195.5px,#00b7ff 196.5px)"></i><i style="top:96px;background:linear-gradient(90deg,#00c7ff 0.5px,#00c4ff 58.5px,#00c3ff 66.5px,#00bcff 76.5px,#00bcff 108.5px,#00aeff 110.5px,#00c5ff 112.5px,#00c2ff 160.5px,#00a0ff 164.5px,#00a3ff 181.5px,#00c7ff 195.5px,#00c7ff 196.5px)"></i><i style="top:97px;background:linear-gradient(90deg,#00d9ff 0.5px,#00d8ff 60.5px,#00dfff 63.5px,#00d2ff 72.5px,#00d1ff 108.5px,#00c3ff 110.5px,#00d3ff 113.5px,#00d1ff 160.5px,#00b6ff 165.5px,#00bcff 182.5px,#00d9ff 196.5px)"></i><i style="top:98px;background:linear-gradient(90deg,#00efff 0.5px,#00eaff 59.5px,#00fbff 62.5px,#00e8ff 70.5px,#00e8ff 108.5px,#00d9ff 110.5px,#00e6ff 113.5px,#00e4ff 160.5px,#00cdff 165.5px,#00d3ff 182.5px,#00efff 196.5px)"></i><i style="top:99px;background:linear-gradient(90deg,#12fdfd 0.5px,#12fdfd 57.5px,#06fefe 59.5px,#23fbfb 62.5px,#07fefe 69.5px,#06fefe 108.5px,#00f1ff 110.5px,#00fcff 114.5px,#00f6ff 161.5px,#00e7ff 166.5px,#00eeff 183.5px,#05fefe 191.5px,#12fdfd 196.5px)"></i><i style="top:100px;background:linear-gradient(90deg,#47f7f6 0.5px,#47f7f6 57.5px,#3af9f8 59.5px,#4ef7f5 62.5px,#31faf9 69.5px,#31faf9 108.5px,#14fdfc 110.5px,#27fbfa 113.5px,#24fbfa 160.5px,#02ffff 164.5px,#07fefe 181.5px,#47f7f6 194.5px,#47f7f6 196.5px)"></i><i style="top:101px;background:linear-gradient(90deg,#72f3f1 0.5px,#6ef3f1 58.5px,#72f3f1 62.5px,#59f5f4 69.5px,#59f5f4 108.5px,#41f8f7 110.5px,#58f5f4 112.5px,#53f6f5 153.5px,#2dfaf9 179.5px,#70f3f1 193.5px,#72f3f1 196.5px)"></i><i style="top:102px;background:linear-gradient(90deg,#8df0ed 0.5px,#89f0ee 58.5px,#8df0ed 64.5px,#7bf2f0 69.5px,#7af2f0 108.5px,#69f4f2 110.5px,#7df1ef 112.5px,#76f2f0 151.5px,#5ff5f3 181.5px,#86f0ee 191.5px,#8df0ed 196.5px)"></i><i style="top:103px;background:linear-gradient(90deg,#a0eeeb 0.5px,#9aeeec 61.5px,#90efed 80.5px,#8df0ed 187.5px,#a0eeeb 196.5px)"></i><i style="top:104px;background:linear-gradient(90deg,#a3edea 0.5px,#9ceeeb 65.5px,#a3edea 192.5px,#a3edea 196.5px)"></i><i style="top:105px;background:linear-gradient(90deg,#a4edea 0.5px,#a4edea 196.5px)"></i><i style="top:106px;background:linear-gradient(90deg,#a5edea 0.5px,#a5edea 196.5px)"></i><i style="top:107px;background:linear-gradient(90deg,#a6edea 0.5px,#a6edea 196.5px)"></i><i style="top:108px;background:linear-gradient(90deg,#a7edea 0.5px,#a7edea 196.5px)"></i><i style="top:109px;background:linear-gradient(90deg,#a8edea 0.5px,#a8edea 196.5px)"></i><i style="top:110px;background:linear-gradient(90deg,#a9edea 0.5px,#a9edea 196.5px)"></i><i style="top:111px;background:linear-gradient(90deg,#aaecea 0.5px,#aaecea 196.5px)"></i><i style="top:112px;background:linear-gradient(90deg,#abece9 0.5px,#abece9 196.5px)"></i><i style="top:113px;background:linear-gradient(90deg,#acece9 0.5px,#acece9 196.5px)"></i><i style="top:114px;background:linear-gradient(90deg,#adece9 0.5px,#adece9 196.5px)"></i><i style="top:115px;background:linear-gradient(90deg,#aeece9 0.5px,#aeece9 196.5px)"></i></div><div class="fld" style="left:338px;top:168px;width:197px;height:116px"><i style="top:0px;background:linear-gradient(90deg,#f2f27a 0.5px,#f2f27a 196.5px)"></i><i style="top:1px;background:linear-gradient(90deg,#f2f27a 0.5px,#f2f27a 196.5px)"></i><i style="top:2px;background:linear-gradient(90deg,#f2f27a 0.5px,#f2f27a 196.5px)"></i><i style="top:3px;background:linear-gradient(90deg,#f2f27a 0.5px,#f2f27a 196.5px)"></i><i style="top:4px;background:linear-gradient(90deg,#f2f27a 0.5px,#f2f27a 196.5px)"></i><i style="top:5px;background:linear-gradient(90deg,#f2f27a 0.5px,#f2f27a 196.5px)"></i><i style="top:6px;background:linear-gradient(90deg,#f2f27a 0.5px,#f2f27a 196.5px)"></i><i style="top:7px;background:linear-gradient(90deg,#f2f27a 0.5px,#f2f274 112.5px,#f3f36f 123.5px,#f2f27a 141.5px,#f2f27a 196.5px)"></i><i style="top:8px;background:linear-gradient(90deg,#f2f27a 0.5px,#f2f274 92.5px,#f3f36e 102.5px,#f3f370 106.5px,#f7f745 113.5px,#fcfc1b 118.5px,#fbfb22 122.5px,#f3f370 130.5px,#f2f27a 141.5px,#f2f27a 196.5px)"></i><i style="top:9px;background:linear-gradient(90deg,#f2f27a 0.5px,#f2f274 88.5px,#fafa2a 97.5px,#f9f933 101.5px,#f6f655 106.5px,#fcfc19 111.5px,#fff900 113.5px,#ffce00 118.5px,#ffd200 122.5px,#fefe06 127.5px,#f7f74c 130.5px,#f3f370 133.5px,#f2f27a 142.5px,#f2f27a 196.5px)"></i><i style="top:10px;background:linear-gradient(90deg,#f2f27a 0.5px,#f2f273 78.5px,#f3f36e 87.5px,#f8f83b 90.5px,#fefe09 92.5px,#ffeb00 94.5px,#ffd700 97.5px,#ffe200 101.5px,#fffc00 104.5px,#fbfb25 107.5px,#fffc00 110.5px,#ffbc00 116.5px,#ffb100 121.5px,#ffc100 125.5px,#ffe800 128.5px,#f9f937 131.5px,#f3f36a 134.5px,#f2f27a 139.5px,#f2f27a 196.5px)"></i><i style="top:11px;background:linear-gradient(90deg,#f1f17b 0.5px,#f2f275 69.5px,#f6f64f 87.5px,#fffc00 90.5px,#ffbc00 94.5px,#ffa600 98.5px,#ffb800 102.5px,#fff900 107.5px,#fff700 109.5px,#ffb300 116.5px,#ffb100 124.5px,#ffc700 127.5px,#fffb00 130.5px,#f6f64e 133.5px,#f3f370 136.5px,#f1f17b 170.5px,#f1f17b 196.5px)"></i><i style="top:12px;background:linear-gradient(90deg,#f2f275 0.5px,#f2f275 43.5px,#f4f465 46.5px,#f3f36e 55.5px,#f2f279 65.5px,#f5f55e 73.5px,#fbfb24 86.5px,#fffd00 88.5px,#ffb300 93.5px,#ff9d00 98.5px,#ffa700 102.5px,#ffed00 108.5px,#ffec00 110.5px,#ffb400 116.5px,#ffb100 123.5px,#ffcc00 127.5px,#fffc00 130.5px,#f7f744 133.5px,#f5f55e 135.5px,#f2f275 181.5px,#f2f275 196.5px)"></i><i style="top:13px;background:linear-gradient(90deg,#f4f460 0.5px,#f4f45f 43.5px,#f9f936 45.5px,#f8f83e 54.5px,#f2f276 62.5px,#f3f36a 67.5px,#f8f741 73.5px,#fffc00 85.5px,#ffab00 92.5px,#ff9c00 99.5px,#ffa800 103.5px,#ffed00 109.5px,#ffbd00 119.5px,#ffc900 124.5px,#ffff01 129.5px,#f7f745 133.5px,#f6f64f 135.5px,#f4f460 196.5px)"></i><i style="top:14px;background:linear-gradient(90deg,#f8f83c 0.5px,#f8f83c 43.5px,#fff600 45.5px,#fefe0c 55.5px,#f4f45f 63.5px,#f7f74d 66.5px,#fcfc1d 69.5px,#fffa00 83.5px,#ffdf00 86.5px,#ffa100 90.5px,#ff8e00 94.5px,#ff9100 102.5px,#ffb800 107.5px,#fff900 125.5px,#fefe0c 127.5px,#fbfb23 129.5px,#fbfb23 196.5px)"></i><i style="top:15px;background:linear-gradient(90deg,#fefe0b 0.5px,#fff003 58.5px,#fdfd10 65.5px,#fffa00 68.5px,#fff000 77.5px,#ffec00 84.5px,#ffd600 86.5px,#ff9000 89.5px,#ff7200 92.5px,#ff6f00 101.5px,#ff9303 106.5px,#fcfc1e 117.5px,#fcfc1c 196.5px)"></i><i style="top:16px;background:linear-gradient(90deg,#ffdb00 0.5px,#fff600 55.5px,#ffde00 63.5px,#fffa00 66.5px,#fff600 70.5px,#ffba00 77.5px,#ffec00 81.5px,#ffea00 84.5px,#ffce00 86.5px,#ff6e00 91.5px,#ff5c00 97.5px,#ff6e00 103.5px,#ff9b00 106.5px,#ffe200 110.5px,#fdfd13 111.5px,#f9f938 119.5px,#f9f938 196.5px)"></i><i style="top:17px;background:linear-gradient(90deg,#ffaa00 0.5px,#ffb200 13.5px,#ffff02 53.5px,#fff000 57.5px,#ffc300 60.5px,#ffc300 62.5px,#fffa00 65.5px,#fefe08 69.5px,#ffff04 70.5px,#ffa900 76.5px,#ffbc00 79.5px,#ffdb00 82.5px,#ffcd00 85.5px,#ff8800 89.5px,#ff6200 94.5px,#ff6200 100.5px,#ff7500 103.5px,#ffdf00 110.5px,#ffaa00 196.5px)"></i><i style="top:18px;background:linear-gradient(90deg,#ff9100 0.5px,#ff9900 11.5px,#fefe05 51.5px,#ffff01 55.5px,#ffe800 58.5px,#ffc300 60.5px,#ffba00 61.5px,#ffc400 62.5px,#fff400 64.5px,#fefe0a 66.5px,#fefe0a 70.5px,#ffff02 71.5px,#ffab00 75.5px,#ff9c00 77.5px,#ffaf00 83.5px,#ff6b00 96.5px,#ff7500 101.5px,#ffeb00 108.5px,#ffee00 113.5px,#ff9000 188.5px,#ff9100 196.5px)"></i><i style="top:19px;background:linear-gradient(90deg,#ff7f00 0.5px,#ff8200 22.5px,#fefe05 50.5px,#fffe00 56.5px,#ffb600 61.5px,#ffbf00 62.5px,#fff300 64.5px,#ffff00 65.5px,#fefe0d 68.5px,#ffff02 71.5px,#fff500 72.5px,#ffa200 75.5px,#ff9100 77.5px,#ff8400 93.5px,#ff8100 100.5px,#ff8400 101.5px,#fffe00 108.5px,#ffff01 111.5px,#fbfb26 113.5px,#ff7e00 184.5px,#ff7f00 196.5px)"></i><i style="top:20px;background:linear-gradient(90deg,#ff6e00 0.5px,#ff6900 22.5px,#ff6100 24.5px,#ffff00 49.5px,#ffff02 55.5px,#ffa900 61.5px,#fff600 65.5px,#fefe09 68.5px,#fff800 71.5px,#ffc700 73.5px,#ff9200 75.5px,#ff8500 78.5px,#ff8900 103.5px,#ff9300 104.5px,#ffff04 108.5px,#ffdc02 126.5px,#ff6800 179.5px,#ff6e00 196.5px)"></i><i style="top:21px;background:linear-gradient(90deg,#ff6500 0.5px,#ff5e00 22.5px,#ff4d00 25.5px,#fffe00 50.5px,#fff700 56.5px,#ffbe00 64.5px,#ffe900 66.5px,#fff500 68.5px,#ffeb00 70.5px,#ffc000 72.5px,#ff8d00 74.5px,#ff7a00 76.5px,#ff7400 87.5px,#ff8100 101.5px,#ff8900 104.5px,#fff700 107.5px,#ffff02 110.5px,#ff6600 176.5px,#ff6500 196.5px)"></i><i style="top:22px;background:linear-gradient(90deg,#ff6200 0.5px,#ff5e00 21.5px,#ff3a00 26.5px,#fff900 51.5px,#fff200 55.5px,#ffa000 65.5px,#ffbc00 67.5px,#ffbc00 69.5px,#ff7300 74.5px,#ff6300 86.5px,#ff7700 96.5px,#ff7a00 104.5px,#ff8d00 105.5px,#ffdf00 107.5px,#fff000 108.5px,#ffe000 118.5px,#ff6500 175.5px,#ff6200 196.5px)"></i><i style="top:23px;background:linear-gradient(90deg,#ff6000 0.5px,#ff5a00 21.5px,#ff2e00 26.5px,#ff2000 27.5px,#ffdf00 54.5px,#ff7f00 67.5px,#ff7900 70.5px,#ff6200 75.5px,#ff5700 86.5px,#ff7100 95.5px,#ff7600 105.5px,#ff8600 106.5px,#ff6600 179.5px,#ff6000 196.5px)"></i><i style="top:24px;background:linear-gradient(90deg,#ff5d00 0.5px,#ff5700 21.5px,#ff3100 25.5px,#ff0200 27.5px,#e50000 28.5px,#ffb500 54.5px,#ff6100 69.5px,#ff4500 85.5px,#ff6b00 93.5px,#ff6100 184.5px,#ff5d00 196.5px)"></i><i style="top:25px;background:linear-gradient(90deg,#ff5a00 0.5px,#ff5400 21.5px,#ff2b00 25.5px,#ff1300 26.5px,#df0000 27.5px,#a70000 28.5px,#c40000 29.5px,#ff5700 67.5px,#ff3d00 81.5px,#ff2e00 85.5px,#ff6100 91.5px,#ff6b00 101.5px,#ff6200 183.5px,#ff5a00 196.5px)"></i><i style="top:26px;background:linear-gradient(90deg,#ff5b00 0.5px,#ff5500 21.5px,#ff2c00 25.5px,#ff1300 26.5px,#dc0000 27.5px,#9e0000 28.5px,#aa0000 29.5px,#eb0000 30.5px,#ff5000 63.5px,#ff3400 78.5px,#ff0e00 84.5px,#ff0e00 85.5px,#ff4e00 89.5px,#ff6600 94.5px,#ff6000 183.5px,#ff5b00 196.5px)"></i><i style="top:27px;background:linear-gradient(90deg,#ff5d00 0.5px,#ff5f00 20.5px,#ff4300 24.5px,#ff2200 26.5px,#f90000 27.5px,#b80000 28.5px,#9d0000 29.5px,#d30000 30.5px,#ff4100 64.5px,#ff2100 76.5px,#fa0000 82.5px,#ed0000 85.5px,#ff0300 86.5px,#ff3800 88.5px,#ff5800 91.5px,#ff6500 99.5px,#ff5f00 184.5px,#ff5d00 196.5px)"></i><i style="top:28px;background:linear-gradient(90deg,#ff5900 0.5px,#ff6a00 6.5px,#ff6400 21.5px,#ff4200 25.5px,#ff3300 26.5px,#ff1400 27.5px,#d90000 28.5px,#a20000 29.5px,#bb0000 30.5px,#ff3000 64.5px,#fd0000 77.5px,#d10000 84.5px,#d40000 85.5px,#ef0000 86.5px,#ff1300 87.5px,#ff3200 88.5px,#ff4e00 90.5px,#ff6400 96.5px,#ff7f01 100.5px,#fefe06 115.5px,#fefe07 119.5px,#f9f938 124.5px,#f4f460 125.5px,#f4f465 126.5px,#f7f74c 127.5px,#ff5d00 175.5px,#ff5900 196.5px)"></i><i style="top:29px;background:linear-gradient(90deg,#ff4a00 0.5px,#ff6f00 4.5px,#ff6c00 21.5px,#ff4e00 25.5px,#ff2b00 27.5px,#fa0000 28.5px,#b80000 29.5px,#aa0000 30.5px,#ff2500 61.5px,#fa0000 71.5px,#c80000 83.5px,#ce0000 85.5px,#ea0000 86.5px,#ff1000 87.5px,#ff3000 88.5px,#ff4c00 90.5px,#ff6600 97.5px,#ff4800 106.5px,#fefe0b 114.5px,#fdfd15 118.5px,#fcfc1c 120.5px,#f8f840 124.5px,#f3f36c 125.5px,#f2f271 126.5px,#f5f55c 127.5px,#ff4900 173.5px,#ff5200 180.5px,#ff4900 194.5px,#ff4900 196.5px)"></i><i style="top:30px;background:linear-gradient(90deg,#ff3c00 0.5px,#ff7800 3.5px,#ff8400 7.5px,#ff7e00 22.5px,#ff5800 26.5px,#ff4800 27.5px,#ff2200 28.5px,#de0000 29.5px,#af0000 30.5px,#ff1300 60.5px,#fe0000 62.5px,#c80000 79.5px,#dd0000 85.5px,#f50000 86.5px,#ff3200 88.5px,#ff4900 90.5px,#ff6900 96.5px,#ff4200 100.5px,#ff6d00 106.5px,#ff6f00 107.5px,#fdfd10 114.5px,#fdfd15 119.5px,#fdfd10 120.5px,#f8f844 124.5px,#f3f370 125.5px,#f3ea70 128.5px,#ff3a00 171.5px,#ff3b00 185.5px,#ff3b00 196.5px)"></i><i style="top:31px;background:linear-gradient(90deg,#ff3b00 0.5px,#ff5100 1.5px,#ff9000 3.5px,#ffa000 5.5px,#ff9e00 22.5px,#ff7900 26.5px,#ff4f00 28.5px,#ff0b00 29.5px,#c70000 30.5px,#ff1000 59.5px,#ef0000 62.5px,#d90000 74.5px,#ec0000 81.5px,#ff0b00 85.5px,#ff4e00 88.5px,#ff7900 97.5px,#ff7f00 99.5px,#ffbf00 103.5px,#ffd500 107.5px,#fdfd12 115.5px,#fefe09 119.5px,#fffd00 120.5px,#ffef00 121.5px,#f2f273 125.5px,#f2f275 126.5px,#f4f464 127.5px,#ff3900 170.5px,#ff3a00 196.5px)"></i><i style="top:32px;background:linear-gradient(90deg,#ff5000 0.5px,#ff6800 1.5px,#ffad00 3.5px,#ffbe00 5.5px,#ffc500 21.5px,#ffab00 25.5px,#ff7900 28.5px,#ff4100 29.5px,#eb0000 30.5px,#ff0f00 58.5px,#f80000 60.5px,#ea0000 64.5px,#ff0300 76.5px,#ff2c00 82.5px,#ff5300 86.5px,#ff7300 89.5px,#ff7b00 92.5px,#ffe500 98.5px,#ffd300 99.5px,#fffa00 104.5px,#fefe05 112.5px,#f3f370 126.5px,#f5f558 127.5px,#ff4e00 165.5px,#ff4f00 196.5px)"></i><i style="top:33px;background:linear-gradient(90deg,#ff7800 0.5px,#ffc600 3.5px,#ffd800 6.5px,#ffe300 20.5px,#ffd300 24.5px,#ff9a00 28.5px,#ff7000 29.5px,#ff1400 30.5px,#de0000 31.5px,#ff1d00 57.5px,#ff0700 58.5px,#fd0000 62.5px,#ff3c00 75.5px,#ff8c00 88.5px,#ff8600 92.5px,#fff900 98.5px,#fff400 99.5px,#fefe0b 102.5px,#fdfd15 110.5px,#fcfc1e 114.5px,#f4f460 126.5px,#f8f83e 127.5px,#ff7300 164.5px,#ff6d00 179.5px,#ff5c00 186.5px,#ff7500 196.5px)"></i><i style="top:34px;background:linear-gradient(90deg,#ffb200 0.5px,#ffe500 3.5px,#fffc00 10.5px,#fffa00 23.5px,#ffe000 26.5px,#ffbe00 28.5px,#ffa100 29.5px,#ff5a00 30.5px,#fe0000 31.5px,#ff1400 57.5px,#ff0900 58.5px,#ff1e00 61.5px,#ff4200 64.5px,#ff7500 72.5px,#ff9b00 81.5px,#ffa500 88.5px,#ff9600 90.5px,#ff6100 92.5px,#ff7100 93.5px,#ffb100 94.5px,#ffed00 96.5px,#ffff00 98.5px,#fdfd16 105.5px,#fdfd0f 115.5px,#fefe07 117.5px,#f8f841 126.5px,#fcfc1b 127.5px,#ffa600 167.5px,#ffa000 173.5px,#ff7b00 175.5px,#ff6b00 180.5px,#ff9200 191.5px,#ffae00 196.5px)"></i><i style="top:35px;background:linear-gradient(90deg,#ffe500 0.5px,#fffe00 3.5px,#fbfb24 12.5px,#fbfb27 22.5px,#fffd00 26.5px,#ffcd00 29.5px,#ff9f00 30.5px,#ff3b00 31.5px,#f70000 32.5px,#ff1800 57.5px,#ff2000 58.5px,#ff6400 61.5px,#ff8900 63.5px,#ffb600 69.5px,#ffcb00 78.5px,#ffc300 86.5px,#ffb000 89.5px,#ff9b00 90.5px,#ff6300 91.5px,#ff0500 92.5px,#ff0900 93.5px,#ff8400 94.5px,#ffec00 96.5px,#fff903 98.5px,#fdfd16 108.5px,#fef706 124.5px,#ffcd00 170.5px,#ffcd00 171.5px,#ff7600 175.5px,#ff8b00 181.5px,#ffe200 196.5px)"></i><i style="top:36px;background:linear-gradient(90deg,#fefe07 0.5px,#f9f938 9.5px,#f7f744 22.5px,#fcfc1d 26.5px,#fffb00 28.5px,#ffed00 29.5px,#ffcf00 30.5px,#ff8200 31.5px,#ff1800 32.5px,#ff0100 33.5px,#ff2000 56.5px,#ff2b00 57.5px,#ff6e00 59.5px,#ff9600 60.5px,#ffcf00 64.5px,#ffec00 69.5px,#fff000 78.5px,#ffdc00 85.5px,#ffaf00 89.5px,#ff8a00 90.5px,#ff2c00 91.5px,#c70000 92.5px,#cb0000 93.5px,#ff4f00 94.5px,#fdfd0e 104.5px,#fefe0a 114.5px,#fffc00 121.5px,#ffe100 170.5px,#ffcb00 172.5px,#ff8900 174.5px,#ff8b00 176.5px,#ffde00 188.5px,#ffff03 196.5px)"></i><i style="top:37px;background:linear-gradient(90deg,#fafa2c 0.5px,#f5f559 12.5px,#f5f55c 22.5px,#f9f93a 26.5px,#fefe05 29.5px,#fff300 30.5px,#ffc000 31.5px,#ff1500 33.5px,#ff0e00 35.5px,#ff2c00 56.5px,#ff4d00 57.5px,#ffcf00 60.5px,#fff400 63.5px,#fefe0b 67.5px,#fdfd14 76.5px,#fffb00 83.5px,#ffef00 85.5px,#ffc000 88.5px,#ffa700 89.5px,#ff6900 90.5px,#f00000 91.5px,#a20000 92.5px,#d70000 93.5px,#ffff03 106.5px,#ffe700 171.5px,#ffab00 174.5px,#ffb300 176.5px,#ffec00 184.5px,#fefe05 190.5px,#fbfb28 196.5px)"></i><i style="top:38px;background:linear-gradient(90deg,#f7f74a 0.5px,#f3f36b 13.5px,#f3f36d 22.5px,#f6f650 26.5px,#fcfc20 29.5px,#fefe09 30.5px,#ffee00 31.5px,#ffb900 32.5px,#ff6000 33.5px,#ff1600 34.5px,#ffde00 50.5px,#ff3400 54.5px,#ff3000 55.5px,#ff4c00 56.5px,#ffdd00 59.5px,#fff900 60.5px,#f9f933 67.5px,#f9f934 77.5px,#fdfd11 84.5px,#fffe00 85.5px,#ffbf00 88.5px,#ff9a00 89.5px,#ff3c00 90.5px,#c30000 91.5px,#a30000 92.5px,#fff800 108.5px,#ffef00 126.5px,#fff100 171.5px,#ffd400 174.5px,#fffd00 182.5px,#f7f747 196.5px)"></i><i style="top:39px;background:linear-gradient(90deg,#f4f460 0.5px,#f2f275 15.5px,#f3f370 23.5px,#f6f64f 27.5px,#fcfc1d 30.5px,#ffff04 31.5px,#ffea00 32.5px,#ffb100 33.5px,#ff4b00 34.5px,#ff1300 35.5px,#ff3c00 36.5px,#fffa00 46.5px,#fffd00 50.5px,#fff000 51.5px,#ffc800 52.5px,#ff5100 54.5px,#ff4e00 55.5px,#ff7800 56.5px,#ffde00 58.5px,#fffe00 59.5px,#fcfc1d 60.5px,#f8f842 64.5px,#f6f653 69.5px,#f7f74a 78.5px,#fafa29 84.5px,#fff700 86.5px,#ffb700 88.5px,#ff7a00 89.5px,#ff0500 90.5px,#a40000 91.5px,#c10000 92.5px,#fffd00 125.5px,#fff800 175.5px,#fefe0e 179.5px,#f5f55e 196.5px)"></i><i style="top:40px;background:linear-gradient(90deg,#f3f36e 0.5px,#f2f276 22.5px,#f6f655 27.5px,#fafa2a 30.5px,#fffc00 32.5px,#ffdb00 33.5px,#ff8d00 34.5px,#ff2b00 35.5px,#ff1500 36.5px,#ff5300 37.5px,#fefe0c 46.5px,#fcfc1a 49.5px,#fff600 52.5px,#ff9600 54.5px,#ff8500 55.5px,#ffa800 56.5px,#ffd900 57.5px,#fffb00 58.5px,#f9f937 60.5px,#f5f559 65.5px,#f4f463 72.5px,#f6f655 80.5px,#f8f83c 84.5px,#fffd00 86.5px,#ffdd00 87.5px,#ffa800 88.5px,#ff4200 89.5px,#c90000 90.5px,#9f0000 91.5px,#fff500 117.5px,#fffd03 134.5px,#fffb00 167.5px,#fcfc17 175.5px,#f3f36a 195.5px,#f3f36c 196.5px)"></i><i style="top:41px;background:linear-gradient(90deg,#f2f275 0.5px,#f2f272 23.5px,#f6f64f 28.5px,#fcfc1f 31.5px,#fefe07 32.5px,#fff100 33.5px,#ffc100 34.5px,#ff6200 35.5px,#ff1300 36.5px,#ff1900 37.5px,#ff6000 38.5px,#fefe06 45.5px,#fcfc1c 47.5px,#fcfc1a 51.5px,#fefe0c 52.5px,#ffd700 54.5px,#ffc000 55.5px,#ffd400 56.5px,#fff600 57.5px,#fafa30 59.5px,#f6f651 61.5px,#f3f36d 69.5px,#f4f466 79.5px,#f6f654 83.5px,#f7f748 84.5px,#fafa2d 85.5px,#ffff03 86.5px,#ffdb00 87.5px,#ff8a00 88.5px,#ff0000 89.5px,#a20000 90.5px,#fffd00 118.5px,#ffff02 127.5px,#fff800 132.5px,#ffff03 165.5px,#f6f652 182.5px,#f2f274 196.5px)"></i><i style="top:42px;background:linear-gradient(90deg,#f2f277 0.5px,#f3f370 23.5px,#f7f747 29.5px,#fff900 33.5px,#ffdf00 34.5px,#ffa200 35.5px,#ff3f00 36.5px,#ff0600 37.5px,#ff2000 38.5px,#ff5500 39.5px,#fefe06 45.5px,#fcfc1d 47.5px,#fcfc1b 51.5px,#fff800 53.5px,#ffe700 55.5px,#fefe08 57.5px,#f6f650 60.5px,#f3f36a 65.5px,#f3f370 78.5px,#f5f55c 83.5px,#f6f64f 84.5px,#fafa31 85.5px,#ffff02 86.5px,#ffcb00 87.5px,#ff5200 88.5px,#cd0000 89.5px,#a30000 90.5px,#ffff02 118.5px,#fff100 127.5px,#ff6900 130.5px,#ff7800 131.5px,#ffb700 133.5px,#ffc800 134.5px,#fff400 163.5px,#fdfd17 164.5px,#f5f55c 178.5px,#f2f277 196.5px)"></i><i style="top:43px;background:linear-gradient(90deg,#f2f278 0.5px,#f3f369 23.5px,#f7f745 29.5px,#fffc00 33.5px,#ffeb00 34.5px,#ffc800 35.5px,#ff7c00 36.5px,#ff1b00 37.5px,#fb0000 38.5px,#ff0c00 39.5px,#ff4600 40.5px,#fffb00 45.5px,#fcfc1c 48.5px,#fdfd16 51.5px,#fff600 53.5px,#fefe08 56.5px,#f5f556 60.5px,#f2f272 67.5px,#f3f371 79.5px,#f4f460 83.5px,#f6f652 84.5px,#f9f933 85.5px,#ffff00 86.5px,#ffaf00 87.5px,#ff0b00 88.5px,#b50000 89.5px,#ffff04 118.5px,#fefe05 119.5px,#ff1300 131.5px,#ff6500 132.5px,#ff9500 133.5px,#ffd000 136.5px,#fffd00 162.5px,#fff900 163.5px,#f9f936 165.5px,#f3f36a 177.5px,#f2f278 196.5px)"></i><i style="top:44px;background:linear-gradient(90deg,#f2f277 0.5px,#f5f55b 23.5px,#fafa2f 30.5px,#fffa00 33.5px,#ffd400 35.5px,#ffa700 36.5px,#ff1600 38.5px,#f30000 39.5px,#ff0300 40.5px,#ffec00 45.5px,#fffb00 46.5px,#fdfd10 49.5px,#fff400 53.5px,#fcfc1d 55.5px,#f5f55e 60.5px,#f2f276 72.5px,#f3f36d 81.5px,#f6f652 84.5px,#f9f933 85.5px,#fffe00 86.5px,#ffa400 87.5px,#f50000 88.5px,#be0000 89.5px,#fefe05 119.5px,#970000 130.5px,#c30000 131.5px,#ff3500 132.5px,#ff7600 133.5px,#ffbd00 136.5px,#ffd200 147.5px,#fffe00 157.5px,#fbfb21 160.5px,#fcfc17 162.5px,#fefe09 163.5px,#f7f74c 164.5px,#f2f274 177.5px,#f2f277 196.5px)"></i><i style="top:45px;background:linear-gradient(90deg,#f2f273 0.5px,#f8f841 24.5px,#fcfc1d 30.5px,#fffe00 32.5px,#ffd100 35.5px,#ff9600 37.5px,#ff1a00 39.5px,#f50000 40.5px,#ffea00 46.5px,#fff900 49.5px,#fffd00 52.5px,#fefe09 53.5px,#f9f937 54.5px,#f5f55c 57.5px,#f3f368 63.5px,#f2f274 78.5px,#f4f460 83.5px,#f6f651 84.5px,#fafa31 85.5px,#fffb00 86.5px,#ff9700 87.5px,#eb0000 88.5px,#c50000 89.5px,#fefe05 119.5px,#fefe05 120.5px,#890000 130.5px,#c80000 131.5px,#ff2f00 132.5px,#ff6700 133.5px,#ffc100 137.5px,#ffb800 147.5px,#ffda00 149.5px,#fffe00 156.5px,#f8f83b 159.5px,#f8f841 161.5px,#fbfb25 163.5px,#f5f55c 164.5px,#f3f36a 171.5px,#f2f277 179.5px,#f2f274 196.5px)"></i><i style="top:46px;background:linear-gradient(90deg,#f4f465 0.5px,#fcfc1a 26.5px,#fffb00 31.5px,#ffbd00 36.5px,#ff9200 38.5px,#ff2c00 40.5px,#ff4900 41.5px,#ff8e00 42.5px,#ffe500 47.5px,#ffff00 51.5px,#f5f559 54.5px,#f3f370 57.5px,#f4f464 67.5px,#f2f271 78.5px,#f5f55f 83.5px,#f6f64f 84.5px,#fafa2e 85.5px,#fff700 86.5px,#ff8800 87.5px,#e10000 88.5px,#cc0000 89.5px,#fefe05 119.5px,#ffff04 120.5px,#800000 129.5px,#a60000 130.5px,#ff0400 131.5px,#ff4800 132.5px,#ff6a00 133.5px,#ffb400 137.5px,#ffcc00 138.5px,#ffb700 144.5px,#ffa100 146.5px,#ffb000 148.5px,#ffc900 149.5px,#fefe0c 156.5px,#f7f746 158.5px,#f5f55d 160.5px,#f6f652 162.5px,#f8f83f 163.5px,#f4f462 164.5px,#f5f55e 168.5px,#f2f272 177.5px,#f4f466 196.5px)"></i><i style="top:47px;background:linear-gradient(90deg,#f6f651 0.5px,#fcfc1b 16.5px,#fffa00 28.5px,#ffde00 33.5px,#ffa800 38.5px,#ff7a00 40.5px,#ff8300 41.5px,#ffad00 43.5px,#fff700 50.5px,#fdfd12 51.5px,#f6f654 53.5px,#f3f36a 54.5px,#f2f275 58.5px,#f4f460 63.5px,#f6f654 67.5px,#f3f36c 78.5px,#f5f55b 83.5px,#f7f74a 84.5px,#fff200 86.5px,#ff7600 87.5px,#d70000 88.5px,#d61000 91.5px,#ffff03 120.5px,#fffb00 121.5px,#c10000 127.5px,#880000 128.5px,#930000 129.5px,#e60000 130.5px,#ff3900 131.5px,#ff6200 132.5px,#ffac00 137.5px,#ffc600 138.5px,#ffc500 143.5px,#ffa800 144.5px,#ff9900 146.5px,#ffa300 148.5px,#ffba00 149.5px,#f8f841 157.5px,#f5f55b 158.5px,#f3f36d 160.5px,#f4f465 162.5px,#f6f655 163.5px,#f5f55d 165.5px,#f5f55d 169.5px,#f3f36d 177.5px,#f5f558 194.5px,#f6f653 196.5px)"></i><i style="top:48px;background:linear-gradient(90deg,#f9f938 0.5px,#ffff03 14.5px,#ffe500 31.5px,#ffae00 38.5px,#ff9800 40.5px,#ffb400 46.5px,#ffbb00 47.5px,#f5f55c 53.5px,#f2f274 55.5px,#f3f36f 61.5px,#f7f744 65.5px,#f7f746 69.5px,#f4f462 77.5px,#f5f55b 82.5px,#f8f842 84.5px,#fcfc1f 85.5px,#ffe800 86.5px,#ff6100 87.5px,#cd0000 88.5px,#fffd00 120.5px,#ffee00 121.5px,#db0000 126.5px,#9a0000 127.5px,#950000 128.5px,#cc0000 129.5px,#ff2700 130.5px,#ff5d00 131.5px,#ff7500 132.5px,#ff9900 136.5px,#ffc600 138.5px,#ffe200 142.5px,#ffa200 144.5px,#ff9800 147.5px,#ff9e00 148.5px,#ffb300 149.5px,#fff400 151.5px,#f2f271 159.5px,#f3f36f 162.5px,#f4f460 164.5px,#f5f556 168.5px,#f3f369 177.5px,#f6f64f 190.5px,#f9f93a 196.5px)"></i><i style="top:49px;background:linear-gradient(90deg,#ffff02 0.5px,#ffd900 18.5px,#ffc200 33.5px,#ff9900 38.5px,#ff7800 42.5px,#ff7f00 48.5px,#ff9800 49.5px,#f6f650 53.5px,#f4f467 54.5px,#f2f276 57.5px,#f3f368 61.5px,#fafa2e 65.5px,#fafa30 69.5px,#f6f653 77.5px,#f6f64e 82.5px,#f9f937 84.5px,#fdfd16 85.5px,#ffe500 86.5px,#ff6b00 87.5px,#d10000 88.5px,#ffcc00 121.5px,#ff1a00 123.5px,#f70000 124.5px,#b90000 126.5px,#ab0000 127.5px,#d80000 128.5px,#ff2000 129.5px,#ff5400 130.5px,#ff7300 131.5px,#ff8c00 134.5px,#ff9e00 136.5px,#ffcb00 138.5px,#ffe400 142.5px,#ffa200 144.5px,#ff9800 146.5px,#ff9e00 148.5px,#ffb400 149.5px,#fff600 151.5px,#f3f36c 158.5px,#f2f276 161.5px,#f4f463 164.5px,#f8f83f 166.5px,#f9f938 168.5px,#f6f64f 176.5px,#f9f932 187.5px,#fefe05 196.5px)"></i><i style="top:50px;background:linear-gradient(90deg,#ffdd00 0.5px,#ffba00 12.5px,#ffa800 33.5px,#ff8c00 37.5px,#ff4600 43.5px,#ff3400 47.5px,#ff4600 49.5px,#ff6400 50.5px,#ffab00 51.5px,#fbfb26 53.5px,#f7f74a 54.5px,#f3f369 56.5px,#f3f369 59.5px,#f8f842 62.5px,#fdfd16 65.5px,#fcfc1a 69.5px,#f8f840 77.5px,#f8f83e 82.5px,#fafa2a 84.5px,#fefe0a 85.5px,#ffe000 86.5px,#ff7500 87.5px,#d70000 88.5px,#b80000 89.5px,#ff1000 122.5px,#f40000 123.5px,#d50000 126.5px,#f50000 127.5px,#ff6000 129.5px,#ff8300 131.5px,#ff9b00 135.5px,#ffd700 138.5px,#ffec00 139.5px,#ffeb00 142.5px,#ffaa00 144.5px,#ff9900 146.5px,#ffa400 148.5px,#fffa00 151.5px,#ffff00 152.5px,#ffd100 154.5px,#f3f36d 158.5px,#f2f276 161.5px,#f3f368 163.5px,#f5f55c 164.5px,#fcfc19 167.5px,#f9f93a 176.5px,#fcfc1e 185.5px,#fffc00 190.5px,#ffdf00 196.5px)"></i><i style="top:51px;background:linear-gradient(90deg,#ffba00 0.5px,#ff9b00 9.5px,#ff8b00 34.5px,#ff6600 38.5px,#ff1200 44.5px,#ff0200 47.5px,#ff0b00 49.5px,#ff1b00 50.5px,#ff3e00 51.5px,#ffde00 53.5px,#fefe05 54.5px,#fbfb26 55.5px,#f7f744 57.5px,#fafa2c 61.5px,#fefe05 64.5px,#fefe07 69.5px,#fafa2b 77.5px,#fbfb25 83.5px,#fcfc18 84.5px,#fffc00 85.5px,#ffd700 86.5px,#ff7a00 87.5px,#de0000 88.5px,#aa0000 89.5px,#ff0c00 90.5px,#ff3600 124.5px,#ff4400 126.5px,#ff5b00 127.5px,#ff8000 128.5px,#ff9300 130.5px,#ffa100 134.5px,#ffd100 137.5px,#fff700 139.5px,#fff600 142.5px,#ffbb00 144.5px,#ffa900 145.5px,#ffa500 147.5px,#ffb400 148.5px,#ffee00 150.5px,#ffff02 151.5px,#ffff03 152.5px,#ffbd00 154.5px,#ffd500 155.5px,#f7f749 157.5px,#f3f369 158.5px,#f2f276 160.5px,#f2f272 162.5px,#f6f64f 164.5px,#fefe09 166.5px,#ffff00 168.5px,#fafa29 175.5px,#fcfc1b 182.5px,#fffb00 187.5px,#ffbe00 196.5px)"></i><i style="top:52px;background:linear-gradient(90deg,#ff9f00 0.5px,#ff7d00 8.5px,#ff6f00 34.5px,#ff5100 38.5px,#fe0000 44.5px,#ec0000 47.5px,#fa0000 50.5px,#ff0a00 51.5px,#ff1f00 52.5px,#ffe500 56.5px,#ffff03 74.5px,#fdfd0f 80.5px,#fffd00 84.5px,#ffec00 85.5px,#ffc700 86.5px,#ff7a00 87.5px,#f20000 88.5px,#c20000 89.5px,#ff1700 90.5px,#ffb800 128.5px,#ffae00 132.5px,#ffc600 135.5px,#ffff02 139.5px,#fefe0b 141.5px,#ffff02 142.5px,#ffc200 145.5px,#ffbe00 147.5px,#fffc00 150.5px,#fefe0a 151.5px,#fefe06 152.5px,#ffa500 154.5px,#ffb700 155.5px,#fff400 156.5px,#f5f55c 158.5px,#f3f36e 159.5px,#f3f36b 162.5px,#f9f939 164.5px,#fefe0c 165.5px,#fff100 166.5px,#ffe800 167.5px,#fefe06 172.5px,#fdfd15 177.5px,#fffa00 185.5px,#ffa400 196.5px)"></i><i style="top:53px;background:linear-gradient(90deg,#ff9000 0.5px,#ff6800 7.5px,#ff5900 35.5px,#ff3000 40.5px,#ff0300 44.5px,#f20000 48.5px,#ff0100 51.5px,#ff2600 54.5px,#ffe300 66.5px,#fff600 81.5px,#ffeb00 84.5px,#ffba00 86.5px,#ff8d00 87.5px,#ff4500 88.5px,#ff2500 89.5px,#ff9800 91.5px,#ffe200 127.5px,#ffce00 132.5px,#ffe200 135.5px,#ffff02 138.5px,#fefe0c 141.5px,#fffe00 143.5px,#ffdb00 146.5px,#ffeb00 148.5px,#fefe08 150.5px,#fefe0c 151.5px,#fefe05 152.5px,#ff9000 154.5px,#ff9700 155.5px,#ffd100 156.5px,#fefe0b 157.5px,#f8f840 158.5px,#f5f55b 159.5px,#f4f465 161.5px,#f5f559 162.5px,#fcfc18 164.5px,#fff300 165.5px,#ffd500 167.5px,#fff700 172.5px,#fffc00 181.5px,#ffe500 187.5px,#ff9500 196.5px)"></i><i style="top:54px;background:linear-gradient(90deg,#ff8900 0.5px,#ff6000 6.5px,#ff5300 19.5px,#ff4b00 36.5px,#ff0b00 46.5px,#ff1000 53.5px,#ff4a00 58.5px,#ffd300 68.5px,#ffde00 82.5px,#ffd500 84.5px,#ff9a00 87.5px,#ff8100 88.5px,#ff7700 89.5px,#ffc100 93.5px,#ffd400 102.5px,#fff600 128.5px,#ffee00 133.5px,#fefe06 137.5px,#fefe0a 143.5px,#fff900 147.5px,#fefe0d 151.5px,#ffff04 152.5px,#ff8100 154.5px,#ff7a00 155.5px,#ffe200 157.5px,#fdfd10 158.5px,#f9f935 159.5px,#f7f744 160.5px,#f7f744 161.5px,#fdfd16 163.5px,#fff500 164.5px,#ffd800 165.5px,#ffc800 166.5px,#fff100 174.5px,#ffeb00 184.5px,#ffc000 191.5px,#ff8e00 196.5px)"></i><i style="top:55px;background:linear-gradient(90deg,#ff7500 0.5px,#ff4800 7.5px,#ff3c00 25.5px,#ff3000 39.5px,#ff0300 53.5px,#ff2300 57.5px,#ffb600 70.5px,#ffb800 83.5px,#ff9d00 86.5px,#ff8200 89.5px,#ffaf00 94.5px,#ffb901 105.5px,#fefe0c 126.5px,#fdfd10 135.5px,#fdfd11 151.5px,#fefe0c 152.5px,#ffc800 153.5px,#ff6000 155.5px,#ff7f00 156.5px,#ffd900 158.5px,#fff700 159.5px,#fefe07 160.5px,#ffe900 163.5px,#ffbc00 165.5px,#ffb900 167.5px,#ffdb00 174.5px,#ffd200 185.5px,#ffa400 192.5px,#ff7b00 196.5px)"></i><i style="top:56px;background:linear-gradient(90deg,#ff3d00 0.5px,#ff1700 7.5px,#fa0000 43.5px,#f10000 49.5px,#d50000 53.5px,#e40000 55.5px,#ff9800 71.5px,#ff9600 84.5px,#ff7a00 89.5px,#ff9600 95.5px,#ff9802 104.5px,#fbfb23 125.5px,#fbfb28 151.5px,#ffd300 153.5px,#ff5c00 155.5px,#ff6a00 156.5px,#ffa400 158.5px,#ffcf00 163.5px,#ffb800 168.5px,#ffb600 178.5px,#ff9500 187.5px,#ff4300 196.5px)"></i><i style="top:57px;background:linear-gradient(90deg,#e40000 0.5px,#b60000 19.5px,#a30000 43.5px,#a60000 49.5px,#870000 53.5px,#a41d00 58.5px,#ff7b00 71.5px,#ff7600 80.5px,#ff6100 90.5px,#ff6100 97.5px,#ff6600 103.5px,#fbfb28 123.5px,#fafa2a 151.5px,#fbfb24 152.5px,#ffb100 154.5px,#ff9800 155.5px,#ffb200 158.5px,#fff800 163.5px,#fff500 166.5px,#ffc200 169.5px,#ffa000 171.5px,#ff7300 179.5px,#f90000 194.5px,#e80000 196.5px)"></i><i style="top:58px;background:linear-gradient(90deg,#c90000 0.5px,#8c0000 23.5px,#870000 51.5px,#800000 54.5px,#ff6900 72.5px,#ff6900 79.5px,#ff2e00 80.5px,#fe0000 81.5px,#ec0000 96.5px,#e80000 102.5px,#ff0c00 103.5px,#fbfb20 122.5px,#fcfc1f 152.5px,#fff700 155.5px,#ffff01 158.5px,#f8f83b 164.5px,#f9f936 166.5px,#fff700 169.5px,#ffa400 172.5px,#ff0400 190.5px,#ce0000 196.5px)"></i><i style="top:59px;background:linear-gradient(90deg,#ff0000 0.5px,#d10000 22.5px,#c80000 44.5px,#ca0000 48.5px,#aa0000 51.5px,#890000 52.5px,#800000 54.5px,#ff7500 73.5px,#ff7700 79.5px,#ff0e00 81.5px,#ff1400 92.5px,#ff2800 98.5px,#ff0c00 102.5px,#ff2f00 104.5px,#ffff03 121.5px,#ffff04 156.5px,#f7f74d 163.5px,#f6f64e 166.5px,#f9f937 168.5px,#fff600 170.5px,#ffb200 172.5px,#ff9900 174.5px,#ff2c00 191.5px,#ff0300 196.5px)"></i><i style="top:60px;background:linear-gradient(90deg,#ff5400 0.5px,#ff3200 24.5px,#ff2b00 47.5px,#f90000 51.5px,#cc0000 52.5px,#870000 53.5px,#880800 55.5px,#ffb100 78.5px,#ffa400 98.5px,#ff7f00 103.5px,#ff9900 108.5px,#ffea00 120.5px,#ffe700 156.5px,#ffff02 158.5px,#f9f934 160.5px,#f6f652 163.5px,#f6f64f 167.5px,#f8f843 168.5px,#fbfb28 169.5px,#fffd00 170.5px,#ff8d00 177.5px,#ff5900 195.5px,#ff5600 196.5px)"></i><i style="top:61px;background:linear-gradient(90deg,#ff9600 0.5px,#ff7600 33.5px,#ff6f00 47.5px,#ff4c00 50.5px,#ff3300 51.5px,#fe0000 52.5px,#a20000 53.5px,#890000 54.5px,#ffda00 79.5px,#ffda00 91.5px,#ffcb00 97.5px,#ff9b00 102.5px,#ff8800 104.5px,#ffd800 121.5px,#ffd800 152.5px,#ffd100 153.5px,#ffb900 154.5px,#ffbb00 156.5px,#ffee00 158.5px,#fefe0b 159.5px,#f8f83e 161.5px,#f6f652 164.5px,#f7f74d 167.5px,#f8f83f 168.5px,#fffa00 170.5px,#ffac00 172.5px,#ff9700 173.5px,#ff9600 196.5px)"></i><i style="top:62px;background:linear-gradient(90deg,#ffd200 0.5px,#ffa600 37.5px,#ff9f00 47.5px,#ff8d00 49.5px,#ff6100 51.5px,#ff2b00 52.5px,#cc0000 53.5px,#900000 54.5px,#fff900 79.5px,#fff700 92.5px,#ffec00 96.5px,#ffc300 100.5px,#ff7500 104.5px,#ffee00 120.5px,#fff400 141.5px,#ffed00 152.5px,#ffdf00 153.5px,#ffab00 154.5px,#ff8a00 155.5px,#ff9a00 156.5px,#fff600 159.5px,#fafa2a 161.5px,#f7f749 164.5px,#f8f83d 167.5px,#fafa2a 168.5px,#fefe0a 169.5px,#ffe900 170.5px,#ffa100 172.5px,#ff9600 173.5px,#ffad00 180.5px,#ffbd00 182.5px,#ffd100 195.5px,#ffd200 196.5px)"></i><i style="top:63px;background:linear-gradient(90deg,#fffe00 0.5px,#ffc000 47.5px,#ff9e00 50.5px,#ff8700 51.5px,#ff6100 52.5px,#ff0f00 53.5px,#b80000 54.5px,#fdfd15 79.5px,#fcfc1a 88.5px,#fffa00 96.5px,#ffd700 99.5px,#ffb000 101.5px,#ff9300 102.5px,#ff2d00 104.5px,#fff200 120.5px,#ffff04 135.5px,#fff300 152.5px,#ffe400 153.5px,#ffb000 154.5px,#ff8b00 155.5px,#ff8800 157.5px,#ff9900 158.5px,#fff000 161.5px,#ffff01 162.5px,#fcfc1d 164.5px,#fcfc17 166.5px,#fff500 168.5px,#ff9100 171.5px,#ff7900 172.5px,#ff7f00 173.5px,#ffaf00 174.5px,#ffc600 178.5px,#ffc600 180.5px,#ffea00 181.5px,#fffd00 194.5px,#fffe00 196.5px)"></i><i style="top:64px;background:linear-gradient(90deg,#f9f938 0.5px,#fffc00 29.5px,#ffe000 47.5px,#ffc300 50.5px,#ff9500 52.5px,#ff5a00 53.5px,#f20000 54.5px,#b60000 55.5px,#f9f932 79.5px,#f9f933 88.5px,#fdfd10 95.5px,#fff800 97.5px,#ffc300 100.5px,#ffa800 101.5px,#ff7e00 102.5px,#ff2800 103.5px,#da0000 104.5px,#e70000 105.5px,#fff200 120.5px,#fff200 122.5px,#ffff04 125.5px,#fdfd16 129.5px,#fefe0d 141.5px,#fff800 152.5px,#fff100 153.5px,#ffae00 156.5px,#ff9100 158.5px,#ff9700 160.5px,#ffca00 164.5px,#ffc500 166.5px,#ff7700 171.5px,#ff7300 172.5px,#ff8700 173.5px,#ffc500 174.5px,#ffde00 175.5px,#ffe100 180.5px,#fbfb20 181.5px,#f9f937 196.5px)"></i><i style="top:65px;background:linear-gradient(90deg,#f6f64f 0.5px,#f9f939 16.5px,#fffb00 42.5px,#ffe900 48.5px,#ffc400 51.5px,#ffad00 52.5px,#ff8600 53.5px,#ff2f00 54.5px,#d00000 55.5px,#f8f841 78.5px,#f7f744 87.5px,#ffff00 96.5px,#ffd100 99.5px,#ff9c00 101.5px,#ff6900 102.5px,#ff0d00 103.5px,#ba0000 104.5px,#c80000 105.5px,#fff200 120.5px,#fff200 122.5px,#fefe0b 123.5px,#fafa2d 129.5px,#fbfb26 140.5px,#fffc00 153.5px,#ffe300 156.5px,#ffac00 160.5px,#ff9600 164.5px,#ff8e00 169.5px,#ffa300 172.5px,#ffb300 173.5px,#ffd700 174.5px,#ffe600 175.5px,#ffe800 180.5px,#f9f93a 181.5px,#f6f64f 196.5px)"></i><i style="top:66px;background:linear-gradient(90deg,#f5f55d 0.5px,#f6f654 15.5px,#fdfd0f 44.5px,#fffa00 48.5px,#ffd900 51.5px,#ffa500 53.5px,#ff6900 54.5px,#ff0800 55.5px,#c30000 56.5px,#f6f651 78.5px,#f6f650 86.5px,#fcfc1f 92.5px,#fff800 96.5px,#ffc800 99.5px,#ff9300 101.5px,#ff5f00 102.5px,#ff0800 103.5px,#b40000 104.5px,#b90000 105.5px,#fff200 120.5px,#fff200 122.5px,#fcfc1e 123.5px,#f8f843 129.5px,#f8f83f 140.5px,#fbfb20 150.5px,#fffb00 156.5px,#ffc000 164.5px,#ffc600 169.5px,#ffec00 175.5px,#ffec00 180.5px,#f8f843 181.5px,#f5f55d 196.5px)"></i><i style="top:67px;background:linear-gradient(90deg,#f4f466 0.5px,#f3f368 15.5px,#fafa31 44.5px,#fefe0d 49.5px,#ffff00 50.5px,#ffe000 52.5px,#ff9f00 54.5px,#ff5600 55.5px,#f10000 56.5px,#f5f557 77.5px,#f5f55f 83.5px,#f7f74b 88.5px,#fffd00 95.5px,#ffd900 98.5px,#ffb100 100.5px,#ff9500 101.5px,#ff5f00 102.5px,#ff0900 103.5px,#b30000 104.5px,#af0000 105.5px,#fff200 121.5px,#fff200 122.5px,#fafa2f 123.5px,#f6f656 129.5px,#f6f655 140.5px,#f8f83f 149.5px,#fcfc1f 155.5px,#ffff00 157.5px,#ffe700 164.5px,#fff100 180.5px,#f7f747 181.5px,#f4f465 196.5px)"></i><i style="top:68px;background:linear-gradient(90deg,#f3f368 0.5px,#f2f273 15.5px,#f6f64f 44.5px,#fbfb22 50.5px,#fffc00 52.5px,#ffc600 54.5px,#ff9700 55.5px,#ff3c00 56.5px,#dc0000 57.5px,#c20000 58.5px,#f5f55c 77.5px,#f4f466 83.5px,#f6f653 88.5px,#fffd00 96.5px,#ffd600 99.5px,#ffa600 101.5px,#ff7100 102.5px,#ff1500 103.5px,#ba0000 104.5px,#fff200 120.5px,#fff200 122.5px,#f9f93a 123.5px,#f4f462 129.5px,#f4f467 140.5px,#f6f651 150.5px,#f9f939 155.5px,#ffff03 158.5px,#fff100 163.5px,#fff200 180.5px,#f8f83c 181.5px,#f4f467 196.5px)"></i><i style="top:69px;background:linear-gradient(90deg,#f4f468 0.5px,#f2f276 16.5px,#f4f464 44.5px,#f8f83c 50.5px,#fcfc1b 52.5px,#fffd00 53.5px,#ffc000 55.5px,#ff8200 56.5px,#ff1700 57.5px,#c70000 58.5px,#e20000 59.5px,#f5f55d 77.5px,#f3f36a 83.5px,#f4f45f 88.5px,#fcfc1a 96.5px,#fffc00 98.5px,#ffdd00 100.5px,#ffc300 101.5px,#ff9100 102.5px,#ff3c00 103.5px,#d70000 104.5px,#fff200 119.5px,#fff200 122.5px,#f6f64e 125.5px,#f4f468 129.5px,#f3f371 141.5px,#f4f463 150.5px,#f6f650 155.5px,#fefe05 159.5px,#fff200 162.5px,#fff200 180.5px,#fcfc1f 181.5px,#f6f655 190.5px,#f4f467 196.5px)"></i><i style="top:70px;background:linear-gradient(90deg,#f4f465 0.5px,#f2f278 15.5px,#f3f370 44.5px,#f8f840 51.5px,#fafa2f 52.5px,#fdfd11 53.5px,#fff500 54.5px,#ffd700 55.5px,#ffaa00 56.5px,#ff4200 57.5px,#d10000 58.5px,#d30000 59.5px,#f5f55d 77.5px,#f3f36e 85.5px,#f4f45f 90.5px,#f9f93a 96.5px,#fff900 100.5px,#ffe200 101.5px,#ffb300 102.5px,#ff6800 103.5px,#fa0000 104.5px,#b70000 105.5px,#fff200 118.5px,#fff200 122.5px,#f6f64f 125.5px,#f3f36a 129.5px,#f2f276 141.5px,#f3f36b 151.5px,#f4f45f 155.5px,#ffff04 160.5px,#fff200 161.5px,#fff200 180.5px,#ffff00 181.5px,#f6f653 192.5px,#f4f463 196.5px)"></i><i style="top:71px;background:linear-gradient(90deg,#f5f55c 0.5px,#f2f278 13.5px,#f2f274 44.5px,#f7f746 51.5px,#fcfc1c 53.5px,#fffd00 54.5px,#ffe000 55.5px,#ffb400 56.5px,#ff5800 57.5px,#e00000 58.5px,#c80000 59.5px,#ff2b00 60.5px,#f6f656 76.5px,#f3f36b 81.5px,#f3f371 88.5px,#f6f651 96.5px,#fbfb26 99.5px,#fff600 101.5px,#ffcc00 102.5px,#ff8b00 103.5px,#ff2100 104.5px,#ca0000 105.5px,#fff200 118.5px,#fff200 121.5px,#f6f64f 125.5px,#f3f36a 129.5px,#f2f278 142.5px,#f3f369 154.5px,#f5f55c 156.5px,#fdfd11 160.5px,#fff200 161.5px,#fff800 182.5px,#fefe07 185.5px,#f5f55a 196.5px)"></i><i style="top:72px;background:linear-gradient(90deg,#f6f64e 0.5px,#f2f275 12.5px,#f2f275 44.5px,#f7f748 51.5px,#f9f93b 52.5px,#fffe00 54.5px,#ffe300 55.5px,#ffb900 56.5px,#ff6b00 57.5px,#f00000 58.5px,#c10000 59.5px,#f6f64f 76.5px,#f4f467 80.5px,#f2f274 88.5px,#f5f55b 96.5px,#f9f933 99.5px,#ffff00 101.5px,#ffd900 102.5px,#ffa100 103.5px,#ff4800 104.5px,#e00000 105.5px,#c10000 106.5px,#fff200 118.5px,#fff200 121.5px,#f7f74c 125.5px,#f3f368 129.5px,#f2f278 141.5px,#f3f36d 153.5px,#f5f55e 156.5px,#fcfc18 160.5px,#fff600 184.5px,#fefe06 188.5px,#f7f74a 196.5px)"></i><i style="top:73px;background:linear-gradient(90deg,#f9f93a 0.5px,#f3f36e 11.5px,#f2f277 43.5px,#f8f843 51.5px,#f9f934 52.5px,#fffb00 54.5px,#ffba00 56.5px,#ff7c00 57.5px,#ff0500 58.5px,#c00000 59.5px,#fcfc17 73.5px,#f5f556 78.5px,#f2f272 88.5px,#f5f55b 96.5px,#f9f934 99.5px,#ffff02 101.5px,#ffdb00 102.5px,#ffab00 103.5px,#ff6500 104.5px,#f90000 105.5px,#bf0000 106.5px,#fff200 118.5px,#fff200 122.5px,#f9f93a 124.5px,#f4f463 129.5px,#f2f276 140.5px,#f3f36e 152.5px,#f3f369 155.5px,#fcfc19 160.5px,#fff600 187.5px,#fefe0a 191.5px,#f9f935 196.5px)"></i><i style="top:74px;background:linear-gradient(90deg,#fbfb22 0.5px,#f4f462 12.5px,#f2f272 34.5px,#f3f36c 44.5px,#fafa31 51.5px,#fefe05 53.5px,#fff000 54.5px,#ffb300 56.5px,#ff7700 57.5px,#fd0000 58.5px,#bf0000 59.5px,#ffff02 73.5px,#f6f653 79.5px,#f3f36b 88.5px,#f6f654 96.5px,#fcfc17 100.5px,#fffb00 101.5px,#ffb100 103.5px,#ff7d00 104.5px,#ff1600 105.5px,#c60000 106.5px,#fff100 117.5px,#fff200 122.5px,#fcfc1e 123.5px,#f5f559 129.5px,#f3f370 140.5px,#f3f36b 152.5px,#f4f466 155.5px,#fcfc18 160.5px,#fff500 189.5px,#fefe05 193.5px,#fcfc1e 196.5px)"></i><i style="top:75px;background:linear-gradient(90deg,#fefe0a 0.5px,#f6f64e 12.5px,#f4f465 29.5px,#f5f559 44.5px,#fdfd13 51.5px,#ffff03 52.5px,#ffdf00 54.5px,#ffaa00 56.5px,#ff6a00 57.5px,#f00000 58.5px,#c00000 59.5px,#fff200 72.5px,#fffe00 74.5px,#f8f843 79.5px,#f4f460 88.5px,#f7f746 96.5px,#fefe08 100.5px,#fff400 101.5px,#ff8f00 104.5px,#ff3600 105.5px,#d30000 106.5px,#ffef00 116.5px,#fff200 122.5px,#fefe0a 123.5px,#f7f748 129.5px,#f4f463 139.5px,#f4f462 152.5px,#f5f55e 155.5px,#fdfd11 160.5px,#fff200 190.5px,#fefe06 196.5px)"></i><i style="top:76px;background:linear-gradient(90deg,#fffa00 0.5px,#fdfd0f 5.5px,#f9f938 13.5px,#f6f651 27.5px,#f6f64d 38.5px,#f8f83e 44.5px,#ffff01 50.5px,#ffe500 53.5px,#ffc100 55.5px,#ffa400 56.5px,#ff5d00 57.5px,#e50000 58.5px,#c20000 59.5px,#fff000 72.5px,#ffff03 76.5px,#fafa2e 79.5px,#f6f64e 88.5px,#f9f932 96.5px,#fff900 100.5px,#ffba00 103.5px,#ff9800 104.5px,#ff4e00 105.5px,#e30000 106.5px,#b50000 107.5px,#ffec00 116.5px,#fff000 122.5px,#ffff00 124.5px,#fafa31 129.5px,#f6f650 139.5px,#f6f651 152.5px,#f6f64d 155.5px,#ffff04 160.5px,#ffee00 191.5px,#fff800 196.5px)"></i><i style="top:77px;background:linear-gradient(90deg,#fff100 0.5px,#fefe08 8.5px,#fafa2c 18.5px,#f8f83d 33.5px,#fcfc1e 44.5px,#ffff01 47.5px,#ffde00 53.5px,#ffbc00 55.5px,#ff9d00 56.5px,#ff4f00 57.5px,#da0000 58.5px,#c50000 59.5px,#ffe900 71.5px,#fff500 76.5px,#fefe05 78.5px,#fcfc17 80.5px,#f9f934 88.5px,#fcfc17 96.5px,#fffe00 98.5px,#ffdf00 101.5px,#ffb800 103.5px,#ff9900 104.5px,#ff5c00 105.5px,#f50000 106.5px,#ad0000 107.5px,#ffe000 115.5px,#fff900 125.5px,#fefe08 127.5px,#fafa2f 135.5px,#f8f83b 150.5px,#f9f935 155.5px,#ffff00 159.5px,#fff000 162.5px,#fff000 196.5px)"></i><i style="top:78px;background:linear-gradient(90deg,#ffe600 0.5px,#fefe05 15.5px,#fcfc1b 27.5px,#fcfc19 35.5px,#fff900 45.5px,#ffd600 53.5px,#ffb300 55.5px,#ff9100 56.5px,#ff3c00 57.5px,#ce0000 58.5px,#c90000 59.5px,#ffe000 71.5px,#ffed00 77.5px,#ffff01 81.5px,#fcfc18 88.5px,#fff800 97.5px,#ffca00 102.5px,#ff9700 104.5px,#ff6300 105.5px,#ff0600 106.5px,#ad0000 107.5px,#a10000 108.5px,#ffbd00 115.5px,#ffe300 127.5px,#fffe00 137.5px,#ffff04 151.5px,#fffa00 156.5px,#ffdf00 160.5px,#ffe500 196.5px)"></i><i style="top:79px;background:linear-gradient(90deg,#ffd600 0.5px,#fffa00 29.5px,#ffe800 44.5px,#ffd300 52.5px,#ffb900 54.5px,#ffa300 55.5px,#ff7b00 56.5px,#ff1700 57.5px,#ba0000 58.5px,#cf0000 59.5px,#ffc200 70.5px,#ffd800 78.5px,#fff500 88.5px,#ffe400 96.5px,#ffbc00 102.5px,#ff8700 104.5px,#ff5700 105.5px,#ff0900 106.5px,#ae0000 107.5px,#8b0000 108.5px,#ff7500 113.5px,#ff9900 116.5px,#ffd400 138.5px,#ffdd00 151.5px,#ffd400 156.5px,#ffc400 160.5px,#ffdc00 168.5px,#ffd600 196.5px)"></i><i style="top:80px;background:linear-gradient(90deg,#ffb700 0.5px,#ffc600 16.5px,#ffd700 34.5px,#ffbb00 52.5px,#ff9f00 54.5px,#ff8600 55.5px,#ff5600 56.5px,#ef0000 57.5px,#a40000 58.5px,#ff9400 67.5px,#ff9800 72.5px,#ffc800 82.5px,#ffd200 89.5px,#ffba00 100.5px,#ffa900 102.5px,#ff9400 103.5px,#ff7300 104.5px,#ff4600 105.5px,#ff0700 106.5px,#be0000 107.5px,#9b0000 108.5px,#ff0400 110.5px,#ff4b00 115.5px,#ff6a00 124.5px,#ff8a00 138.5px,#ff9300 144.5px,#ff9d00 150.5px,#ff9200 160.5px,#ffc300 164.5px,#ffb800 196.5px)"></i><i style="top:81px;background:linear-gradient(90deg,#ff8700 0.5px,#ff8b00 13.5px,#ffa800 33.5px,#ff9b00 51.5px,#ff8800 53.5px,#ff5b00 55.5px,#ff2300 56.5px,#c30000 57.5px,#8c0000 58.5px,#ff4100 67.5px,#ff3b00 70.5px,#ff8c00 80.5px,#ff9b00 89.5px,#ff8800 101.5px,#ff6b00 103.5px,#ff2500 105.5px,#fb0000 106.5px,#d50000 107.5px,#c50000 108.5px,#f20000 110.5px,#ff0200 113.5px,#ff1e00 119.5px,#ff4500 137.5px,#ff4c00 143.5px,#ff6600 147.5px,#ff6400 160.5px,#ff9e00 164.5px,#ff9400 187.5px,#ff8700 196.5px)"></i><i style="top:82px;background:linear-gradient(90deg,#ff5a00 0.5px,#ff5a00 12.5px,#ff8300 33.5px,#ff7c00 51.5px,#ff5400 54.5px,#ff3800 55.5px,#fa0000 56.5px,#9b0000 57.5px,#8a0000 58.5px,#f20000 66.5px,#e90000 70.5px,#ff0200 73.5px,#ff4d00 79.5px,#ff6300 86.5px,#ff5800 101.5px,#ff4100 103.5px,#ff0b00 105.5px,#dc0000 107.5px,#d50000 108.5px,#ec0000 110.5px,#ed0000 113.5px,#ff0200 122.5px,#ff1e00 143.5px,#ff4300 146.5px,#ff4900 157.5px,#ff4b00 160.5px,#ff8000 164.5px,#ff7500 184.5px,#ff5b00 196.5px)"></i><i style="top:83px;background:linear-gradient(90deg,#ff3400 0.5px,#ff2f00 10.5px,#ff6600 33.5px,#ff6700 50.5px,#ff4e00 53.5px,#ff3a00 54.5px,#ff1800 55.5px,#d80000 56.5px,#890000 57.5px,#9b0000 64.5px,#b80000 65.5px,#c70000 66.5px,#bd0000 70.5px,#eb0000 74.5px,#ff0b00 76.5px,#ff3c00 80.5px,#ff4e00 87.5px,#ff4700 101.5px,#ff3600 103.5px,#f80000 106.5px,#e70000 108.5px,#f00000 110.5px,#e10000 112.5px,#f40000 142.5px,#ff0a00 144.5px,#ff2c00 147.5px,#ff3300 160.5px,#ff6700 164.5px,#ff5d00 182.5px,#ff3600 196.5px)"></i><i style="top:84px;background:linear-gradient(90deg,#ff1500 0.5px,#ff1200 11.5px,#ff4d00 32.5px,#ff5100 50.5px,#ff3800 53.5px,#ff0900 55.5px,#ce0000 56.5px,#890000 57.5px,#890000 64.5px,#ad0000 66.5px,#a60000 70.5px,#c80000 73.5px,#f90000 76.5px,#ff3200 81.5px,#ff3e00 91.5px,#ff3600 102.5px,#fb0000 107.5px,#f50000 111.5px,#e60000 131.5px,#e80000 142.5px,#ff0100 144.5px,#ff2700 147.5px,#ff2e00 160.5px,#ff5300 165.5px,#ff4100 183.5px,#ff1600 196.5px)"></i><i style="top:85px;background:linear-gradient(90deg,#ff0a00 0.5px,#ff0700 11.5px,#ff4200 34.5px,#ff4100 51.5px,#ff1c00 54.5px,#ff0900 55.5px,#e60000 56.5px,#bd0000 57.5px,#880000 63.5px,#910000 65.5px,#ac0000 66.5px,#af0000 68.5px,#b50000 71.5px,#fa0000 76.5px,#ff2d00 81.5px,#ff3700 93.5px,#ff2e00 103.5px,#ff0a00 108.5px,#ff0400 116.5px,#ed0000 140.5px,#f50000 143.5px,#ff1900 145.5px,#ff3100 147.5px,#ff3e00 162.5px,#ff4500 171.5px,#ff2b00 186.5px,#ff0b00 196.5px)"></i><i style="top:86px;background:linear-gradient(90deg,#ff1500 0.5px,#ff1300 12.5px,#ff4800 33.5px,#ff4800 51.5px,#ff2a00 54.5px,#f80000 57.5px,#950000 63.5px,#8b0000 64.5px,#a20000 65.5px,#c60000 66.5px,#d40000 67.5px,#da0000 71.5px,#ff0500 75.5px,#ff3700 80.5px,#ff4300 90.5px,#ff3e00 103.5px,#ff2900 109.5px,#fe0000 134.5px,#ff0500 143.5px,#ff3400 146.5px,#ff4100 151.5px,#ff4700 162.5px,#ff4800 176.5px,#ff1e00 193.5px,#ff1600 196.5px)"></i><i style="top:87px;background:linear-gradient(90deg,#ff2700 0.5px,#ff2600 12.5px,#ff5000 34.5px,#ff5000 51.5px,#ff2e00 55.5px,#f60f00 59.5px,#e80000 62.5px,#b80000 63.5px,#9f0000 64.5px,#b70000 65.5px,#e20000 66.5px,#fb0000 67.5px,#ff0b00 72.5px,#ff4300 79.5px,#ff4f00 90.5px,#ff4700 105.5px,#ff3600 121.5px,#ff1d00 136.5px,#ff1900 142.5px,#ff5100 147.5px,#ff4b00 180.5px,#ff2900 196.5px)"></i><i style="top:88px;background:linear-gradient(90deg,#ff3e00 0.5px,#ff4200 15.5px,#ff5a00 39.5px,#ff5600 52.5px,#fa2a00 58.5px,#e60000 62.5px,#c10000 63.5px,#bc0000 64.5px,#ff0900 66.5px,#ff2700 67.5px,#ff5900 81.5px,#ff5700 110.5px,#ff6100 114.5px,#ff4200 141.5px,#ff5100 144.5px,#ff6800 148.5px,#ff6200 162.5px,#ff4400 193.5px,#ff3f00 196.5px)"></i><i style="top:89px;background:linear-gradient(90deg,#ff5b00 0.5px,#ff6600 26.5px,#ff6800 52.5px,#ff5400 57.5px,#e50000 62.5px,#d00000 63.5px,#e30000 64.5px,#ff1100 65.5px,#ff4000 66.5px,#ff5700 67.5px,#ff7000 84.5px,#ff6e00 110.5px,#ff7b00 113.5px,#ff6a00 143.5px,#ff7e00 148.5px,#ff7a00 161.5px,#ff6b00 166.5px,#ff5b00 196.5px)"></i><i style="top:90px;background:linear-gradient(90deg,#ff7400 0.5px,#ff7900 53.5px,#ff6f00 57.5px,#ff1a00 61.5px,#ea0000 62.5px,#e70000 63.5px,#ff0f00 64.5px,#ff4900 65.5px,#ff6e00 66.5px,#ff7f00 68.5px,#ff8300 110.5px,#ff9300 113.5px,#ff8d00 144.5px,#ff9300 160.5px,#ff7d00 165.5px,#ff7500 196.5px)"></i><i style="top:91px;background:linear-gradient(90deg,#ff8b00 0.5px,#ff8800 56.5px,#ff8700 57.5px,#ff2000 61.5px,#f30000 62.5px,#fd0000 63.5px,#ff7900 65.5px,#ff9200 66.5px,#ff9b00 74.5px,#ff9700 110.5px,#ffaa00 113.5px,#ffa900 160.5px,#ff8e00 165.5px,#ff8b00 196.5px)"></i><i style="top:92px;background:linear-gradient(90deg,#ff9c00 0.5px,#ff9800 58.5px,#fe0000 62.5px,#ff1500 63.5px,#ff5c00 64.5px,#ff9400 65.5px,#ffa700 66.5px,#ffa600 109.5px,#ffa400 110.5px,#ffb800 112.5px,#ffb700 160.5px,#ff9900 165.5px,#ff9c00 196.5px)"></i><i style="top:93px;background:linear-gradient(90deg,#ffab00 0.5px,#ffa700 58.5px,#ff9900 59.5px,#ff7400 60.5px,#ff3600 61.5px,#ff1200 62.5px,#ff3000 63.5px,#ff7600 64.5px,#ffa400 65.5px,#ffb100 66.5px,#ffab00 109.5px,#ffa800 110.5px,#ffbd00 112.5px,#ffbc00 160.5px,#ff9c00 165.5px,#ffa400 187.5px,#ffab00 196.5px)"></i><i style="top:94px;background:linear-gradient(90deg,#ffbf00 0.5px,#ffba00 58.5px,#ffaf00 59.5px,#ff9700 60.5px,#ff6f00 61.5px,#ff5600 62.5px,#ff6a00 63.5px,#ff9900 64.5px,#ffb400 65.5px,#ffb400 108.5px,#ffab00 110.5px,#ffc100 112.5px,#ffc000 160.5px,#ff9f00 165.5px,#ffa500 183.5px,#ffbf00 196.5px)"></i><i style="top:95px;background:linear-gradient(90deg,#ffd100 0.5px,#ffcd00 58.5px,#ffa500 62.5px,#ffc900 65.5px,#ffc200 90.5px,#ffc200 108.5px,#ffb700 110.5px,#ffcf00 112.5px,#ffce00 160.5px,#ffa800 165.5px,#ffad00 182.5px,#ffd100 196.5px)"></i><i style="top:96px;background:linear-gradient(90deg,#ffe500 0.5px,#ffe300 58.5px,#ffde00 67.5px,#ffda00 108.5px,#ffce00 110.5px,#ffe300 112.5px,#ffe200 160.5px,#ffbf00 165.5px,#ffc600 182.5px,#ffe500 196.5px)"></i><i style="top:97px;background:linear-gradient(90deg,#ffff02 0.5px,#fffe00 60.5px,#fefe09 63.5px,#fff800 71.5px,#fff800 108.5px,#ffeb00 110.5px,#fffb00 113.5px,#fffa00 160.5px,#ffdf00 165.5px,#ffe400 182.5px,#ffff02 196.5px)"></i><i style="top:98px;background:linear-gradient(90deg,#fafa2d 0.5px,#fafa2c 60.5px,#f9f939 62.5px,#fbfb26 70.5px,#fbfb26 108.5px,#fdfd0f 110.5px,#fbfb24 112.5px,#fbfb23 160.5px,#fffe00 164.5px,#fefe05 182.5px,#fafa2d 194.5px,#fafa2d 196.5px)"></i><i style="top:99px;background:linear-gradient(90deg,#f6f652 0.5px,#f6f651 60.5px,#f5f55a 63.5px,#f7f74c 72.5px,#f7f74c 108.5px,#f8f83c 110.5px,#f7f746 115.5px,#f8f841 161.5px,#fafa2c 165.5px,#fafa30 181.5px,#f6f652 196.5px)"></i><i style="top:100px;background:linear-gradient(90deg,#f3f36f 0.5px,#f3f36b 58.5px,#f2f271 63.5px,#f4f464 72.5px,#f4f464 108.5px,#f6f654 110.5px,#f5f55d 117.5px,#f5f558 161.5px,#f7f749 166.5px,#f6f651 183.5px,#f3f36f 196.5px)"></i><i style="top:101px;background:linear-gradient(90deg,#f1f17f 0.5px,#f1f17c 64.5px,#f3f371 73.5px,#f3f36b 109.5px,#f4f467 111.5px,#f3f36f 116.5px,#f3f36a 161.5px,#f5f55d 165.5px,#f5f55e 182.5px,#f1f17f 195.5px,#f1f17f 196.5px)"></i><i style="top:102px;background:linear-gradient(90deg,#f0f088 0.5px,#f1f183 66.5px,#f2f279 109.5px,#f2f278 111.5px,#f1f17f 120.5px,#f2f276 161.5px,#f3f36d 181.5px,#f0f088 196.5px)"></i><i style="top:103px;background:linear-gradient(90deg,#efef92 0.5px,#f0f08b 67.5px,#f0f087 109.5px,#f0f087 187.5px,#efef92 196.5px)"></i><i style="top:104px;background:linear-gradient(90deg,#efef95 0.5px,#efef92 188.5px,#efef95 196.5px)"></i><i style="top:105px;background:linear-gradient(90deg,#eeee96 0.5px,#eeee96 196.5px)"></i><i style="top:106px;background:linear-gradient(90deg,#eeee96 0.5px,#eeee96 196.5px)"></i><i style="top:107px;background:linear-gradient(90deg,#eeee97 0.5px,#eeee97 196.5px)"></i><i style="top:108px;background:linear-gradient(90deg,#eeee97 0.5px,#eeee97 196.5px)"></i><i style="top:109px;background:linear-gradient(90deg,#eeee98 0.5px,#eeee98 196.5px)"></i><i style="top:110px;background:linear-gradient(90deg,#eeee99 0.5px,#eeee99 196.5px)"></i><i style="top:111px;background:linear-gradient(90deg,#eeee99 0.5px,#eeee99 196.5px)"></i><i style="top:112px;background:linear-gradient(90deg,#eeee9a 0.5px,#eeee9a 196.5px)"></i><i style="top:113px;background:linear-gradient(90deg,#eeee9a 0.5px,#eeee9a 196.5px)"></i><i style="top:114px;background:linear-gradient(90deg,#eeee9b 0.5px,#eeee9b 196.5px)"></i><i style="top:115px;background:linear-gradient(90deg,#eeee9b 0.5px,#eeee9b 196.5px)"></i></div><div class="cb" style="left:542.0px;top:6.2px;width:15.5px;height:115.5px;background:linear-gradient(to top,#000080 0.0%,#0000ff 12.5%,#00ffff 37.5%,#e6e6e2 50.0%,#ffff00 62.5%,#ff0000 87.5%,#800000 100.0%)"></div><div class="cb" style="left:230.0px;top:168.4px;width:15.3px;height:115.3px;background:linear-gradient(to top,#000080 0.0%,#0000ff 12.5%,#00ffff 37.5%,#e6e6e2 50.0%,#ffff00 62.5%,#ff0000 87.5%,#800000 100.0%)"></div><div class="cb" style="left:542.0px;top:168.4px;width:15.5px;height:115.5px;background:linear-gradient(to top,#000080 0.0%,#0000ff 12.5%,#00ffff 37.5%,#e6e6e2 50.0%,#ffff00 62.5%,#ff0000 87.5%,#800000 100.0%)"></div><svg width="575" height="300" viewBox="0 0 575 300"><rect x="27.0" y="6.5" width="208.7" height="115.7" fill="none" stroke="#999" stroke-width="1"/><g fill="#3428a8" stroke="#1a1470" stroke-width="0.5"><rect x="57.00" y="118.34" width="3.04" height="3.86"/><rect x="63.07" y="118.34" width="3.04" height="3.86"/><rect x="66.11" y="118.34" width="3.04" height="3.86"/><rect x="72.17" y="99.06" width="3.04" height="23.14"/><rect x="75.21" y="99.06" width="3.04" height="23.14"/><rect x="78.25" y="110.63" width="3.04" height="11.57"/><rect x="81.28" y="110.63" width="3.04" height="11.57"/><rect x="84.31" y="106.77" width="3.04" height="15.43"/><rect x="87.35" y="106.77" width="3.04" height="15.43"/><rect x="90.39" y="91.35" width="3.04" height="30.85"/><rect x="93.42" y="106.77" width="3.04" height="15.43"/><rect x="96.45" y="99.06" width="3.04" height="23.14"/><rect x="99.49" y="95.20" width="3.04" height="27.00"/><rect x="102.53" y="75.92" width="3.04" height="46.28"/><rect x="105.56" y="72.06" width="3.04" height="50.14"/><rect x="108.59" y="72.06" width="3.04" height="50.14"/><rect x="111.63" y="75.92" width="3.04" height="46.28"/><rect x="114.67" y="52.78" width="3.04" height="69.42"/><rect x="117.70" y="72.06" width="3.04" height="50.14"/><rect x="120.73" y="41.21" width="3.04" height="80.99"/><rect x="123.77" y="37.35" width="3.04" height="84.85"/><rect x="126.81" y="29.64" width="3.04" height="92.56"/><rect x="129.84" y="37.35" width="3.04" height="84.85"/><rect x="132.88" y="33.50" width="3.04" height="88.70"/><rect x="135.91" y="41.21" width="3.04" height="80.99"/><rect x="138.94" y="29.64" width="3.04" height="92.56"/><rect x="141.98" y="25.78" width="3.04" height="96.42"/><rect x="145.01" y="37.35" width="3.04" height="84.85"/><rect x="148.05" y="48.92" width="3.04" height="73.28"/><rect x="151.09" y="60.49" width="3.04" height="61.71"/><rect x="154.12" y="14.21" width="3.04" height="107.99"/><rect x="157.16" y="60.49" width="3.04" height="61.71"/><rect x="160.19" y="87.49" width="3.04" height="34.71"/><rect x="163.23" y="72.06" width="3.04" height="50.14"/><rect x="166.26" y="87.49" width="3.04" height="34.71"/><rect x="169.30" y="75.92" width="3.04" height="46.28"/><rect x="172.33" y="110.63" width="3.04" height="11.57"/><rect x="175.37" y="91.35" width="3.04" height="30.85"/><rect x="178.40" y="102.92" width="3.04" height="19.28"/><rect x="181.44" y="106.77" width="3.04" height="15.43"/><rect x="184.47" y="95.20" width="3.04" height="27.00"/><rect x="187.50" y="106.77" width="3.04" height="15.43"/><rect x="190.54" y="110.63" width="3.04" height="11.57"/><rect x="199.65" y="106.77" width="3.04" height="15.43"/><rect x="205.72" y="118.34" width="3.04" height="3.86"/></g><path d="M133.0 6.5V122.2M135.9 6.5V122.2" stroke="#e23a3a" stroke-width="1.5" fill="none"/><path d="M27.0 122.2v-2M27.0 6.5v2M61.8 122.2v-2M61.8 6.5v2M96.6 122.2v-2M96.6 6.5v2M131.3 122.2v-2M131.3 6.5v2M166.1 122.2v-2M166.1 6.5v2M200.9 122.2v-2M200.9 6.5v2M235.7 122.2v-2M235.7 6.5v2M27.0 122.2h2M235.7 122.2h-2M27.0 83.6h2M235.7 83.6h-2M27.0 45.1h2M235.7 45.1h-2M27.0 6.5h2M235.7 6.5h-2" stroke="#999" stroke-width="0.8" fill="none"/><clipPath id="cpb"><rect x="338.3" y="6.2" width="196.6" height="115.6"/></clipPath><g clip-path="url(#cpb)"><path d="M344.9 21.9 346.8 21.0 345.7 20.1 347.6 19.4 351.0 18.2 353.6 18.5 356.9 18.9 359.6 19.2 362.3 19.7 364.0 19.4 366.7 19.0 368.9 19.4 371.1 19.4 374.3 20.1 377.6 20.1 379.8 20.3 383.1 20.5 384.4 20.0 385.3 17.9 386.9 19.4 388.5 20.0 390.2 19.2 391.8 20.0 392.1 21.0 390.5 21.5 389.1 22.3 387.2 23.2 385.8 24.2 385.0 25.8 385.8 26.2 387.4 27.1 390.2 28.5 391.7 28.7 391.8 30.0 392.6 31.1 393.5 30.9 393.5 29.3 394.5 28.4 394.7 27.1 394.0 26.1 394.3 25.1 393.9 24.0 395.6 24.0 397.3 24.5 398.6 24.8 398.6 26.1 399.7 26.6 400.6 25.9 401.4 25.3 402.2 26.8 403.0 28.0 404.4 28.7 405.5 29.6 406.2 30.6 405.2 31.0 403.8 31.8 401.6 31.8 400.3 31.8 399.5 32.3 401.4 32.5 401.1 33.3 401.4 34.3 403.3 34.7 403.8 34.3 403.9 34.5 401.9 35.4 400.6 36.1 400.6 35.1 399.5 35.5 398.3 36.0 398.1 37.0 398.4 37.2 397.6 37.5 396.2 38.0 396.2 38.6 395.6 39.1 395.4 39.9 395.1 40.3 395.4 41.3 394.5 41.8 393.5 42.7 392.4 43.6 392.1 44.7 392.6 46.0 392.9 47.3 392.7 47.8 392.1 47.4 391.4 46.2 390.9 44.9 390.2 44.9 389.4 44.5 388.0 44.5 387.8 45.4 387.2 45.2 385.5 44.9 384.7 45.2 383.5 46.3 383.4 47.6 383.2 49.5 383.5 50.8 384.2 51.8 385.0 52.3 386.4 52.1 387.2 51.3 387.3 50.5 389.1 50.2 388.8 51.5 388.4 52.8 388.3 53.8 389.6 53.7 390.7 54.0 391.1 54.4 391.0 56.0 390.9 56.9 391.8 58.2 392.9 58.0 393.7 58.0 394.4 58.5 394.1 59.3 393.5 58.9 392.7 59.2 392.1 58.9 391.0 58.5 389.8 57.6 389.8 56.9 388.8 55.7 387.7 55.3 386.6 55.0 385.8 54.0 385.0 53.6 383.9 53.9 382.8 53.5 381.4 52.9 380.1 52.2 379.0 50.8 379.1 50.0 378.4 49.0 377.6 47.9 376.9 47.0 376.0 46.0 375.2 45.1 374.0 43.8 374.1 44.7 375.2 46.3 376.4 48.5 376.8 49.2 376.4 49.0 375.4 48.1 375.2 47.0 374.1 46.1 373.8 44.7 372.9 43.6 372.6 43.0 371.9 42.2 370.7 41.8 370.0 40.6 369.7 39.7 369.0 38.6 368.7 38.1 368.8 37.0 368.9 34.5 368.5 32.9 369.4 33.0 369.3 32.2 368.3 31.9 367.0 31.2 366.4 30.1 365.3 29.0 364.2 27.7 362.9 26.4 361.5 26.2 360.1 25.6 358.0 25.5 356.6 25.0 355.0 25.6 353.9 26.0 353.9 24.8 352.5 25.8 352.5 26.8 351.1 27.5 349.2 28.3 347.3 28.9 348.4 28.1 350.3 27.1 350.6 26.3 348.2 26.4 346.8 25.1 346.2 24.2 346.8 23.4 348.7 22.6 347.3 22.5 345.8 22.5ZM396.7 13.6 400.6 12.3 403.8 11.3 412.0 10.9 419.1 10.3 424.6 11.0 426.2 12.6 426.8 14.5 425.7 15.8 424.9 17.4 424.3 18.7 422.9 19.7 420.2 20.1 418.0 21.6 415.8 21.9 414.5 22.9 413.7 24.2 412.8 25.5 411.8 25.1 410.1 24.5 409.0 23.2 408.3 21.9 407.7 20.6 408.2 19.8 406.8 18.7 406.6 17.8 405.5 16.2 403.3 15.2 400.6 15.1 398.4 14.5ZM402.7 21.1 401.4 22.3 400.8 23.5 399.5 23.8 397.6 23.2 396.2 22.6 394.3 22.7 394.0 21.9 396.7 20.6 395.1 20.1 393.2 19.2 390.2 19.0 388.5 16.8 390.2 16.6 392.9 16.7 395.1 17.4 397.8 18.4 399.5 18.7 400.3 19.7ZM382.3 19.8 383.6 20.0 384.2 19.4 383.1 19.2ZM370.0 15.2 372.7 14.5 373.3 15.0 371.1 15.5ZM384.2 15.8 385.8 15.8 385.8 15.3 384.2 15.3ZM392.9 17.1 394.5 17.1 394.5 16.6 392.9 16.6ZM391.3 23.9 392.4 24.0 392.1 23.5 391.3 23.5ZM371.9 18.1 374.9 17.1 379.3 17.1 381.4 18.7 378.2 19.8 374.9 20.0 372.2 19.4ZM387.4 14.9 392.9 15.0 395.6 13.6 398.4 12.6 402.7 11.3 398.4 10.7 390.2 11.0 386.4 12.0 384.7 13.3ZM386.4 16.2 392.9 16.2 392.9 15.1 386.4 14.8 384.2 15.5ZM368.1 17.8 369.4 16.3 372.7 16.2 373.3 17.1 370.5 18.3ZM381.2 17.1 383.6 16.5 383.6 17.9 381.4 17.9ZM384.7 16.5 387.2 16.5 385.8 17.8 384.4 17.4ZM372.7 15.5 378.7 15.2 379.3 15.8 375.4 16.2 372.7 16.2ZM381.4 14.9 383.1 14.9 383.6 15.8 381.7 15.8ZM384.2 13.9 389.6 12.9 389.6 12.0 385.8 11.8 384.2 12.6ZM389.1 21.9 390.2 21.6 392.1 22.8 390.5 23.5 389.4 22.9ZM423.5 21.9 424.6 21.4 427.9 21.3 429.2 22.1 428.4 22.7 426.4 23.3 424.3 23.0 423.5 22.4ZM394.4 58.5 395.1 57.9 395.4 57.2 396.2 56.8 397.3 56.4 397.7 56.0 397.6 56.9 398.4 56.6 399.2 57.3 400.6 57.2 401.6 57.1 402.9 57.1 403.3 57.6 403.8 58.5 404.9 59.6 406.6 60.2 408.2 60.9 408.7 61.4 409.3 62.8 409.3 64.0 410.1 64.6 412.3 65.5 414.2 65.9 415.6 66.4 417.4 67.4 417.6 68.8 417.3 70.1 416.4 71.1 415.6 72.3 415.3 73.6 415.3 75.2 414.9 76.7 414.2 78.1 413.7 78.8 412.3 78.9 410.9 79.7 410.1 80.7 410.1 82.3 409.3 83.6 408.2 84.9 407.4 85.8 406.6 86.4 405.5 86.2 405.2 87.1 405.6 87.4 405.2 88.5 402.7 89.0 402.6 90.2 401.1 90.3 401.6 91.3 401.1 92.9 399.7 93.7 400.6 94.8 399.5 96.1 398.9 97.4 399.2 98.0 400.3 99.2 399.2 99.6 397.8 99.0 395.9 97.7 395.4 96.1 395.5 94.2 396.2 92.3 396.5 91.0 396.4 89.7 396.6 88.1 397.0 86.8 397.5 85.2 397.6 83.3 397.9 81.3 398.2 79.1 398.3 76.8 398.2 75.8 397.3 75.0 395.6 74.0 394.9 72.7 394.3 71.7 393.5 69.5 392.4 67.9 392.3 66.9 392.7 66.2 392.9 65.4 392.4 64.6 392.9 63.5 393.6 63.0 394.0 62.2 394.4 61.4 394.3 59.8 394.1 59.3ZM433.4 41.0 435.5 41.5 437.1 40.6 439.3 40.4 442.1 40.1 442.6 40.3 442.3 41.2 442.1 42.0 442.6 42.7 443.7 42.9 445.0 43.3 446.2 44.1 447.2 44.5 447.5 43.8 447.8 43.1 448.9 42.9 450.3 43.6 452.4 44.2 454.1 43.9 454.3 44.8 455.2 47.0 456.0 48.6 456.9 50.5 457.6 52.4 458.2 54.0 459.3 55.3 460.2 55.9 460.6 57.3 461.4 57.2 462.8 56.8 464.6 56.4 464.5 57.3 463.9 58.9 463.1 60.8 462.0 62.4 460.4 64.0 459.3 65.2 458.4 66.1 458.1 67.2 458.0 68.8 458.3 70.4 458.7 72.0 458.8 73.6 457.1 75.2 456.0 76.5 456.0 78.1 455.9 79.4 454.6 80.4 454.5 81.3 454.2 82.6 453.5 83.3 452.2 84.9 450.8 85.7 448.9 85.8 447.5 86.3 446.7 86.0 446.6 84.9 446.0 82.9 445.1 81.3 444.5 78.5 443.8 76.8 443.0 74.9 443.3 73.0 444.0 71.7 443.8 69.8 443.3 67.9 443.0 66.9 441.8 65.3 441.7 64.0 441.9 62.4 441.9 61.4 441.2 61.1 439.9 61.2 439.3 60.5 438.2 59.9 437.1 60.1 435.8 60.8 434.4 60.7 432.5 61.2 431.4 60.5 430.3 59.5 429.4 58.3 428.4 57.1 427.5 56.0 427.2 54.6 427.6 53.4 427.8 51.5 427.3 50.5 428.4 48.6 429.5 46.3 431.1 45.1 431.2 43.8 432.0 42.6 432.9 42.2ZM463.5 71.7 464.2 74.0 463.7 74.9 463.1 77.2 462.4 79.9 461.3 80.4 460.5 79.1 460.2 77.8 460.9 75.6 460.6 74.6 462.0 74.1 462.8 72.7ZM454.3 44.8 455.3 46.1 455.7 45.1 455.7 46.0 456.5 47.3 457.4 48.6 458.0 50.2 458.9 51.8 459.8 53.4 460.1 54.7 460.4 55.8 461.2 55.8 462.8 55.0 464.5 54.2 465.3 53.4 466.6 52.8 467.6 51.9 468.2 50.8 469.1 49.5 468.5 48.8 467.5 48.3 467.3 47.1 466.9 47.6 466.1 48.5 465.0 48.6 464.7 47.6 464.5 47.3 463.9 47.0 463.1 46.0 462.8 44.9 463.6 44.7 464.2 45.4 464.7 46.1 465.8 46.8 466.9 46.9 467.7 47.4 468.8 47.7 470.2 47.8 471.6 47.8 472.9 47.6 473.5 48.6 474.0 49.2 474.8 49.4 474.3 49.7 475.1 50.6 476.2 50.3 476.4 51.8 476.7 53.7 477.3 55.7 477.8 56.9 478.4 58.2 478.9 58.8 479.3 58.2 479.9 57.4 480.2 56.3 480.5 55.3 480.4 54.0 481.5 53.2 482.5 52.1 483.8 51.2 484.1 50.2 484.9 50.0 486.0 49.5 486.7 49.7 487.0 50.6 487.7 51.8 488.2 53.1 488.1 53.7 488.8 53.9 489.8 53.4 490.0 54.7 490.4 56.3 490.4 57.6 490.3 58.5 490.8 59.5 491.3 60.5 491.8 62.1 493.1 63.2 493.5 63.0 493.1 61.4 492.5 60.1 491.8 59.6 491.4 58.5 490.8 57.3 490.9 56.0 491.2 55.4 491.7 55.8 492.5 56.2 492.8 56.9 493.7 57.3 493.9 58.4 494.8 57.9 495.3 57.3 496.2 56.6 496.3 55.7 496.0 54.2 495.0 53.1 494.4 51.8 494.9 50.6 495.6 50.2 496.4 50.2 496.8 51.0 497.2 50.2 498.6 49.7 500.2 49.2 501.3 48.3 501.9 47.4 502.4 46.3 503.1 45.4 503.2 44.2 502.7 43.4 502.4 42.5 501.8 41.5 502.4 40.8 503.5 40.2 502.7 39.7 501.6 40.1 501.0 39.4 500.9 39.0 501.9 38.4 503.0 37.7 502.8 39.0 503.4 38.6 504.5 38.4 505.0 39.1 505.7 39.9 505.6 41.5 505.7 42.0 506.8 41.7 507.3 41.2 507.3 40.2 506.8 39.2 506.2 38.6 506.8 38.2 507.5 37.7 508.0 36.8 509.0 36.3 510.6 35.5 512.0 34.1 513.2 32.9 513.3 31.2 513.6 29.8 512.8 29.2 511.4 29.3 510.9 28.9 512.2 27.7 513.9 26.2 515.0 25.9 517.4 25.9 519.3 26.0 521.0 25.9 521.8 24.5 524.3 24.8 522.1 27.1 521.7 28.7 522.2 31.2 523.2 30.1 524.0 29.0 525.3 27.9 525.8 26.9 525.3 26.6 526.6 25.6 528.3 25.2 529.7 25.5 531.4 24.4 533.5 23.9 534.6 23.5 536.0 22.3 536.0 19.7 532.7 19.2 529.4 19.0 526.7 19.3 524.5 19.4 521.2 18.4 518.5 18.1 515.8 17.6 513.1 17.4 510.9 18.1 507.6 18.4 505.7 16.9 504.3 16.8 501.0 16.8 498.3 16.7 498.3 15.2 495.6 14.7 493.6 14.1 491.2 14.9 489.0 15.2 485.8 15.5 484.1 16.5 480.6 16.8 478.1 17.4 476.2 17.4 474.6 17.1 473.5 18.5 472.9 19.4 469.4 19.2 468.3 19.8 466.1 20.1 463.9 20.5 460.9 20.1 460.6 21.3 458.7 22.6 456.3 22.8 455.4 21.9 455.2 21.3 456.5 21.4 459.0 21.4 458.7 20.5 456.3 19.6 454.6 19.4 453.0 19.2 450.5 18.4 448.1 18.9 445.9 19.6 444.5 20.3 443.4 21.6 442.3 22.6 441.0 23.5 439.3 24.2 439.3 25.5 439.6 26.2 440.4 26.8 441.2 26.6 442.3 26.0 442.9 26.2 443.2 27.1 443.6 27.9 444.2 28.4 445.3 27.9 445.6 27.1 446.4 26.0 446.0 24.8 446.2 23.9 447.2 23.2 448.3 22.3 449.7 21.7 450.5 22.3 448.9 23.2 448.2 24.8 448.9 25.5 450.3 25.3 451.9 25.1 453.0 25.5 451.9 25.8 449.7 25.9 449.4 26.4 449.9 27.2 448.6 27.1 448.1 27.7 448.2 28.5 447.2 29.0 446.7 28.8 445.6 29.0 444.4 29.4 443.2 29.2 442.6 29.3 442.3 28.0 442.4 26.9 441.2 27.4 441.0 28.4 441.4 29.3 440.4 29.6 439.3 29.8 439.1 30.4 438.5 31.0 438.0 31.2 437.5 31.8 436.6 32.1 435.7 32.1 435.6 32.7 434.0 32.9 434.4 33.3 435.2 33.7 435.9 34.5 435.9 35.7 435.6 36.1 434.4 36.1 432.2 35.9 431.5 36.4 431.8 37.3 431.7 38.6 431.4 39.1 431.8 40.2 432.5 40.1 433.2 40.6 433.5 40.9 434.1 40.4 435.5 40.4 436.3 39.9 436.7 39.1 436.4 38.6 437.0 37.8 438.3 37.1 438.3 36.4 439.1 36.1 440.1 36.3 440.7 35.9 441.4 35.5 442.2 35.8 442.3 36.4 443.3 37.2 444.1 37.5 445.2 38.3 445.1 39.6 445.4 39.1 445.9 39.0 445.7 38.3 446.7 38.2 445.9 37.7 445.3 37.1 444.5 36.9 444.0 36.1 443.3 35.4 443.3 34.9 444.1 34.7 444.5 35.0 445.1 35.7 445.9 36.2 446.7 36.8 447.2 37.2 447.2 38.1 447.6 38.6 448.1 39.4 448.4 40.3 448.9 40.6 449.3 40.6 449.2 39.9 449.7 39.5 449.2 39.0 449.1 38.0 449.7 37.9 450.8 37.8 450.9 38.3 451.1 39.0 451.3 39.7 451.6 40.2 452.2 40.4 453.3 40.7 454.3 40.8 455.4 40.4 456.3 40.4 456.2 41.2 456.2 41.8 455.7 42.8 455.4 43.8 455.3 43.9 454.2 44.0ZM337.2 22.3 340.5 22.4 342.1 22.6 342.4 22.1 343.9 21.5 342.9 21.0 341.0 20.6 339.4 20.0 337.2 19.7ZM433.9 26.4 435.0 26.4 435.5 27.0 435.8 28.7 436.6 29.6 437.5 30.2 437.4 31.0 437.3 31.2 436.1 31.4 434.7 31.7 433.5 31.9 434.1 31.1 435.0 31.0 433.9 30.9 434.3 30.4 434.1 30.1 435.0 29.8 435.0 29.3 434.7 29.0 433.9 28.8 433.8 28.4 433.5 27.7 433.2 27.1ZM433.3 28.5 432.1 28.5 431.1 29.2 431.0 29.6 431.4 30.3 431.0 30.7 432.2 30.9 433.2 30.5 433.3 29.6ZM442.6 13.6 445.3 14.8 448.6 14.2 451.3 13.1 447.5 12.3 442.6 12.8ZM465.3 18.2 467.5 18.6 468.3 16.8 470.5 15.5 474.3 14.7 473.5 14.5 469.4 14.9 466.9 16.2 465.8 17.2ZM487.4 12.9 489.6 13.8 492.3 13.3 493.9 12.9 491.2 12.0 488.5 12.0ZM510.9 16.5 513.1 16.9 516.9 15.8 514.7 15.2 512.0 15.2ZM462.3 12.3 466.6 12.6 470.5 12.3 469.4 11.7 465.0 11.5ZM337.2 18.1 339.7 18.3 339.1 18.5 337.2 18.4ZM508.1 42.2 508.7 41.3 510.3 41.1 511.3 40.1 512.5 39.6 513.1 38.4 513.1 37.5 513.9 37.4 514.1 38.6 513.6 39.4 513.6 40.6 513.5 41.1 512.9 41.5 512.4 41.8 511.4 41.8 510.9 42.5 510.3 42.3 510.5 41.8 509.2 41.9ZM507.6 42.5 507.4 43.1 507.7 43.9 508.1 44.0 508.6 43.1 508.7 42.4 508.1 42.2ZM509.0 42.8 510.1 42.4 510.1 42.0 509.2 42.0ZM513.1 37.3 513.6 36.3 513.9 34.8 514.7 35.4 515.9 35.5 516.2 36.1 514.9 37.0 513.6 36.7ZM514.1 34.5 515.0 34.1 514.8 32.5 514.7 31.2 515.0 30.0 514.5 29.1 514.1 29.6 514.3 31.2 514.1 33.2ZM502.2 49.2 502.7 49.9 503.2 48.3 503.0 47.8 502.1 48.6ZM496.0 51.7 496.7 51.1 497.2 51.4 496.7 52.3 496.0 52.1ZM502.3 52.1 503.4 52.1 503.2 53.4 503.0 54.4 504.3 55.7 503.8 55.3 502.5 54.8 502.0 53.7ZM503.2 59.5 505.1 57.7 505.7 59.2 505.1 60.3 504.3 59.8ZM503.2 56.4 504.0 57.6 505.1 56.6 504.9 56.0 503.8 56.0ZM500.6 58.6 501.9 56.7 501.6 56.9 500.5 58.3ZM496.1 62.8 496.4 64.3 496.8 65.8 497.6 66.2 499.1 66.5 500.1 66.6 500.2 65.3 500.8 64.3 500.9 63.4 501.0 62.4 501.7 60.7 500.7 59.6 500.1 59.8 499.5 60.7 498.7 61.2 497.5 62.2 496.5 62.7ZM488.6 60.4 489.8 60.7 491.4 62.4 493.3 64.5 494.5 65.9 494.4 67.8 493.7 67.7 492.5 66.6 491.4 64.6 490.5 62.9 489.3 61.7ZM494.1 68.4 494.8 67.9 495.7 68.0 496.9 68.4 498.0 68.4 499.1 68.9 499.1 69.6 497.2 69.3 495.6 69.0 494.5 68.8ZM499.4 69.3 501.6 69.3 502.1 69.7 501.6 69.8 499.7 69.7ZM502.0 69.5 503.8 69.3 503.8 69.6 502.1 69.7ZM504.3 70.6 505.0 69.8 506.1 69.4 505.4 69.9 504.6 70.5ZM501.9 67.5 502.4 67.6 502.3 65.8 502.7 65.7 503.7 67.1 503.9 66.6 503.0 65.2 504.0 64.5 502.7 64.6 502.5 63.7 504.0 63.7 504.9 63.0 504.6 63.8 503.0 63.8 502.1 63.6 501.6 64.6 501.5 65.9ZM506.2 62.7 506.8 63.0 506.5 64.0 506.8 64.5 506.2 64.3ZM506.5 65.9 508.0 66.1 507.9 66.3 506.6 66.2ZM508.1 64.8 509.8 64.5 510.3 66.1 512.0 65.0 513.6 65.7 515.5 66.4 516.3 67.5 517.2 67.9 517.3 69.1 518.2 70.3 518.8 70.7 516.9 70.4 516.1 69.1 515.0 69.8 513.6 69.9 512.2 69.3 511.7 67.2 510.1 66.6 509.0 66.6 508.6 65.8ZM517.7 67.5 518.8 67.5 519.6 66.7 519.5 67.5 518.5 68.0 517.7 67.9ZM498.6 78.1 499.0 78.0 500.3 77.2 502.7 76.5 503.3 75.2 504.0 74.9 504.9 73.6 505.7 72.9 506.5 73.6 507.3 73.6 507.8 72.0 508.7 71.4 509.0 71.8 509.5 71.5 510.9 71.6 511.3 72.0 510.8 72.7 510.6 73.6 511.4 74.3 512.7 75.2 513.5 75.2 513.9 73.6 513.9 72.0 514.4 70.9 515.0 72.0 515.2 73.3 515.9 73.6 516.3 75.9 517.7 76.8 518.2 78.1 519.0 78.8 520.2 80.4 520.5 82.3 520.2 83.9 519.6 85.1 519.0 86.2 518.5 88.0 517.4 88.3 516.6 89.0 515.5 88.5 513.9 88.7 513.1 88.1 512.8 87.1 512.0 86.9 512.0 86.2 511.7 85.2 510.9 86.5 510.6 86.2 509.8 85.1 508.4 84.2 507.0 84.4 505.4 84.7 504.0 85.8 502.1 85.8 501.0 86.5 499.7 86.0 499.4 85.5 499.8 84.6 499.4 82.9 498.9 81.3 498.6 80.1ZM515.6 90.1 517.6 90.3 517.4 91.7 516.8 92.0 515.9 91.2ZM530.9 86.1 531.9 87.0 532.6 87.8 534.1 88.2 533.3 89.2 533.2 89.7 532.3 90.7 532.0 90.5 532.2 89.7 531.5 89.2 532.0 88.4 531.8 87.5 531.1 86.6ZM530.9 90.0 531.8 90.7 531.4 91.4 531.0 92.1 530.1 92.6 529.8 93.5 528.9 93.9 527.5 93.5 528.3 92.3 529.7 91.6 530.3 90.7ZM480.2 57.7 481.3 59.2 481.1 60.0 480.4 60.1 480.2 58.9ZM390.2 49.9 391.3 49.2 392.6 49.1 394.3 50.0 396.1 51.0 394.1 51.2 392.9 50.0 391.8 49.9 390.5 50.0ZM396.0 51.3 396.8 51.2 398.4 51.3 399.3 52.1 398.4 52.3 397.6 52.6 396.0 52.2ZM393.8 52.2 394.9 52.3 394.7 52.5 394.0 52.3ZM399.9 52.1 400.8 52.2 400.7 52.4 399.9 52.4ZM337.2 114.1 343.8 114.3 349.2 114.2 354.7 114.1 357.4 113.8 364.5 112.7 373.3 112.3 382.0 111.4 387.4 111.5 390.7 112.3 394.0 111.2 396.2 109.9 399.5 107.7 402.2 105.7 404.9 104.6 404.4 105.4 402.7 106.7 401.6 108.3 400.6 110.2 399.5 112.2 399.5 113.6 409.3 113.7 414.8 113.8 422.4 114.0 425.1 112.7 430.3 110.5 437.3 109.7 445.9 109.2 454.6 108.8 463.4 106.6 468.5 106.2 473.2 107.3 474.8 108.6 477.0 108.6 480.3 108.0 484.7 108.1 490.1 107.0 495.6 107.1 502.1 106.9 509.8 106.8 515.8 107.3 520.2 108.5 524.0 109.5 527.1 110.6 527.8 112.8 528.3 113.8 536.0 114.0 536.0 123.7 337.2 123.7Z" fill="#cccccc" stroke="#000" stroke-width="0.85" stroke-linejoin="round"/><path d="M451.9 37.5 452.7 37.5 453.8 37.5 454.9 37.0 455.7 37.0 456.5 37.5 457.6 37.7 458.7 37.7 459.3 37.3 459.4 36.7 458.4 36.1 457.4 35.4 456.8 35.0 457.4 34.1 457.9 33.7 457.1 33.8 455.7 34.3 456.0 34.9 454.9 35.4 454.3 34.8 454.9 34.5 453.8 34.1 453.3 34.3 452.9 34.8 452.3 35.5 451.9 36.4ZM462.8 34.1 463.4 34.1 464.7 33.8 465.5 34.1 465.5 35.1 464.6 35.4 464.5 36.3 465.3 37.0 465.4 37.7 466.1 38.3 465.8 39.3 466.1 40.0 464.5 40.4 463.4 39.9 463.3 39.3 463.6 38.1 463.1 37.2 462.5 36.4 462.3 35.4 462.2 34.8Z" fill="none" stroke="#000" stroke-width="0.6"/><path d="M463.5 71.7 464.2 74.0 463.7 74.9 463.1 77.2 462.4 79.9 461.3 80.4 460.5 79.1 460.2 77.8 460.9 75.6 460.6 74.6 462.0 74.1 462.8 72.7ZM530.9 86.1 531.9 87.0 532.6 87.8 534.1 88.2 533.3 89.2 533.2 89.7 532.3 90.7 532.0 90.5 532.2 89.7 531.5 89.2 532.0 88.4 531.8 87.5 531.1 86.6ZM530.9 90.0 531.8 90.7 531.4 91.4 531.0 92.1 530.1 92.6 529.8 93.5 528.9 93.9 527.5 93.5 528.3 92.3 529.7 91.6 530.3 90.7ZM522.2 31.2 523.2 30.1 524.0 29.0 525.3 27.9 525.8 26.9 525.3 26.6 526.6 25.6 525.9 25.0 524.8 25.1 522.9 26.8 522.1 27.4 521.7 28.7Z" fill="#ececec" stroke="#000" stroke-width="0.8" stroke-linejoin="round"/><path d="M528.3 113.8 536.0 114.0 536.0 119.2 528.3 117.9 527.3 115.4ZM337.2 114.0 346.5 114.3 354.7 114.1 357.4 114.4 356.9 119.2 337.2 119.2ZM399.5 113.6 409.3 113.7 414.8 113.8 422.4 114.0 421.3 116.0 414.8 117.5 403.8 117.6 397.3 116.7 397.3 114.1Z" fill="#fff" stroke="#222" stroke-width="0.6"/><ellipse cx="389.1" cy="35.4" rx="2.18" ry="1.61" fill="none" stroke="#000" stroke-width="0.6"/><ellipse cx="392.1" cy="36.7" rx="1.37" ry="0.77" fill="none" stroke="#000" stroke-width="0.6"/><ellipse cx="374.3" cy="24.5" rx="1.64" ry="0.77" fill="none" stroke="#000" stroke-width="0.6"/><ellipse cx="370.5" cy="21.6" rx="1.64" ry="0.96" fill="none" stroke="#000" stroke-width="0.6"/><ellipse cx="383.4" cy="30.3" rx="0.82" ry="1.61" fill="none" stroke="#000" stroke-width="0.6"/><ellipse cx="469.4" cy="35.1" rx="1.09" ry="1.28" fill="none" stroke="#000" stroke-width="0.6"/><ellipse cx="477.6" cy="34.1" rx="1.64" ry="0.64" fill="none" stroke="#000" stroke-width="0.6"/><ellipse cx="495.6" cy="30.0" rx="0.55" ry="1.93" fill="none" stroke="#000" stroke-width="0.6"/><ellipse cx="454.6" cy="64.6" rx="0.82" ry="0.96" fill="none" stroke="#000" stroke-width="0.6"/><ellipse cx="452.7" cy="67.9" rx="0.44" ry="1.93" fill="none" stroke="#000" stroke-width="0.6"/><ellipse cx="455.4" cy="71.7" rx="0.44" ry="1.61" fill="none" stroke="#000" stroke-width="0.6"/><ellipse cx="444.2" cy="55.7" rx="0.82" ry="0.96" fill="none" stroke="#000" stroke-width="0.6"/><ellipse cx="453.8" cy="24.8" rx="0.82" ry="0.77" fill="none" stroke="#000" stroke-width="0.6"/><g fill="#000"><ellipse cx="340.5" cy="29.3" rx="1.20" ry="1.44"/><ellipse cx="340.5" cy="31.3" rx="1.20" ry="1.32"/><ellipse cx="343.5" cy="28.6" rx="0.96" ry="0.96"/><ellipse cx="527.9" cy="28.6" rx="1.08" ry="1.08"/><ellipse cx="531.2" cy="30.1" rx="1.08" ry="1.08"/><ellipse cx="534.3" cy="30.8" rx="1.08" ry="1.08"/><ellipse cx="354.0" cy="40.0" rx="1.32" ry="1.32"/><ellipse cx="351.3" cy="42.7" rx="1.32" ry="1.32"/><ellipse cx="350.5" cy="50.3" rx="0.96" ry="0.96"/><ellipse cx="352.0" cy="54.0" rx="1.20" ry="1.20"/><ellipse cx="345.5" cy="58.3" rx="1.32" ry="1.32"/><ellipse cx="349.0" cy="57.7" rx="1.32" ry="1.32"/><ellipse cx="366.7" cy="45.0" rx="1.32" ry="1.32"/><ellipse cx="375.3" cy="47.0" rx="1.08" ry="1.08"/><ellipse cx="343.3" cy="66.3" rx="1.20" ry="1.32"/><ellipse cx="348.4" cy="68.3" rx="1.20" ry="1.20"/><ellipse cx="386.7" cy="65.0" rx="0.96" ry="0.96"/><ellipse cx="391.3" cy="104.3" rx="1.20" ry="1.20"/><ellipse cx="393.3" cy="106.3" rx="1.20" ry="1.20"/><ellipse cx="413.3" cy="42.7" rx="2.16" ry="1.80"/><ellipse cx="394.0" cy="46.7" rx="1.32" ry="1.32"/><ellipse cx="410.0" cy="58.3" rx="0.96" ry="0.96"/><ellipse cx="409.3" cy="64.3" rx="1.08" ry="1.08"/><ellipse cx="422.0" cy="63.7" rx="1.32" ry="1.32"/><ellipse cx="425.3" cy="91.7" rx="1.20" ry="1.20"/><ellipse cx="427.3" cy="93.0" rx="1.20" ry="1.20"/><ellipse cx="419.0" cy="96.5" rx="1.44" ry="1.44"/><ellipse cx="420.5" cy="98.5" rx="1.32" ry="1.32"/><ellipse cx="404.7" cy="102.3" rx="1.08" ry="1.08"/><ellipse cx="410.0" cy="109.0" rx="1.20" ry="1.20"/><ellipse cx="414.0" cy="103.0" rx="1.20" ry="1.20"/><ellipse cx="438.0" cy="99.7" rx="0.84" ry="0.84"/><ellipse cx="466.7" cy="65.0" rx="1.32" ry="1.32"/><ellipse cx="464.7" cy="78.7" rx="1.20" ry="1.20"/><ellipse cx="460.0" cy="86.0" rx="1.32" ry="1.32"/><ellipse cx="480.7" cy="90.7" rx="1.32" ry="1.32"/><ellipse cx="479.3" cy="95.0" rx="1.20" ry="1.20"/><ellipse cx="474.7" cy="96.3" rx="0.96" ry="0.96"/><ellipse cx="473.3" cy="99.0" rx="1.20" ry="1.20"/><ellipse cx="471.0" cy="104.5" rx="1.32" ry="1.32"/><ellipse cx="473.5" cy="106.0" rx="1.20" ry="1.20"/><ellipse cx="497.5" cy="84.0" rx="1.20" ry="1.20"/><ellipse cx="497.0" cy="87.0" rx="1.32" ry="1.32"/><ellipse cx="496.0" cy="90.0" rx="1.32" ry="1.32"/><ellipse cx="495.0" cy="93.0" rx="1.32" ry="1.32"/><ellipse cx="494.0" cy="96.0" rx="1.20" ry="1.20"/><ellipse cx="493.0" cy="98.5" rx="1.20" ry="1.20"/><ellipse cx="492.7" cy="103.0" rx="1.20" ry="1.20"/><ellipse cx="510.0" cy="58.3" rx="0.96" ry="0.96"/><ellipse cx="530.7" cy="53.7" rx="1.32" ry="1.32"/><ellipse cx="529.3" cy="67.0" rx="1.20" ry="1.20"/><ellipse cx="520.0" cy="73.7" rx="1.20" ry="1.20"/><ellipse cx="517.0" cy="44.5" rx="1.20" ry="1.20"/></g><path d="M353.3 45.7L355.3 47.7" stroke="#000" stroke-width="1.6" stroke-linecap="round"/><path d="M348.7 77.3L348.7 79.3" stroke="#000" stroke-width="1.6" stroke-linecap="round"/><path d="M342.7 97.7L342.7 100.3" stroke="#000" stroke-width="1.5" stroke-linecap="round"/><path d="M516.0 48.3L516.0 51.0" stroke="#000" stroke-width="1.6" stroke-linecap="round"/><path d="M528.0 73.7L528.0 76.3" stroke="#000" stroke-width="1.6" stroke-linecap="round"/><path d="M530.7 99.0L530.7 101.0" stroke="#000" stroke-width="1.5" stroke-linecap="round"/><path d="M432.0 73.0L432.0 76.3" stroke="#000" stroke-width="1.8" stroke-linecap="round"/><path d="M417.3 96.3L417.3 100.3" stroke="#000" stroke-width="1.5" stroke-linecap="round"/><path d="M345.0 29.5L351.0 27.0" stroke="#000" stroke-width="1.3" stroke-linecap="round" stroke-dasharray="1.6 1.2"/><circle cx="436.6" cy="64.3" r="2" fill="#fff"/></g><clipPath id="cpc"><rect x="26.2" y="168.4" width="196.5" height="115.4"/></clipPath><g clip-path="url(#cpc)"><path d="M32.8 184.0 34.7 183.1 33.6 182.3 35.5 181.5 38.9 180.4 41.5 180.7 44.8 181.1 47.5 181.4 50.2 181.9 51.9 181.5 54.6 181.2 56.8 181.6 59.0 181.5 62.2 182.3 65.5 182.3 67.7 182.5 71.0 182.6 72.3 182.2 73.1 180.1 74.8 181.5 76.4 182.2 78.1 181.4 79.7 182.2 80.0 183.1 78.3 183.7 77.0 184.4 75.1 185.4 73.7 186.4 72.9 188.0 73.7 188.4 75.3 189.2 78.1 190.6 79.5 190.8 79.7 192.1 80.5 193.2 81.3 193.1 81.4 191.5 82.4 190.5 82.6 189.2 81.9 188.3 82.1 187.3 81.8 186.2 83.5 186.2 85.1 186.7 86.5 187.0 86.5 188.3 87.6 188.7 88.4 188.1 89.2 187.4 90.1 188.9 90.9 190.2 92.2 190.8 93.3 191.8 94.0 192.8 93.1 193.1 91.7 193.9 89.5 193.9 88.2 193.9 87.3 194.5 89.2 194.7 89.0 195.5 89.2 196.5 91.2 196.9 91.7 196.5 91.8 196.7 89.8 197.5 88.4 198.2 88.4 197.2 87.3 197.6 86.1 198.1 86.0 199.2 86.2 199.3 85.4 199.6 84.1 200.1 84.1 200.8 83.5 201.2 83.2 202.1 83.0 202.4 83.2 203.5 82.4 204.0 81.3 204.8 80.2 205.8 80.0 206.9 80.5 208.1 80.8 209.4 80.6 209.9 80.0 209.6 79.3 208.3 78.8 207.0 78.1 207.1 77.2 206.6 75.9 206.7 75.7 207.5 75.1 207.4 73.4 207.1 72.6 207.3 71.4 208.4 71.2 209.8 71.1 211.7 71.4 213.0 72.0 213.9 72.9 214.4 74.2 214.2 75.1 213.4 75.2 212.6 77.0 212.3 76.7 213.6 76.3 214.9 76.1 215.9 77.5 215.8 78.6 216.2 79.0 216.5 78.9 218.1 78.8 219.0 79.7 220.3 80.8 220.1 81.6 220.1 82.3 220.6 82.0 221.4 81.3 221.0 80.6 221.3 80.0 221.0 78.9 220.7 77.7 219.8 77.7 219.0 76.7 217.8 75.6 217.4 74.5 217.1 73.7 216.2 72.9 215.7 71.8 216.0 70.7 215.6 69.3 215.0 68.0 214.4 66.9 213.0 67.0 212.1 66.3 211.2 65.5 210.1 64.7 209.1 63.9 208.1 63.0 207.2 61.8 205.9 62.0 206.9 63.0 208.5 64.2 210.6 64.7 211.4 64.3 211.2 63.3 210.2 63.0 209.1 62.0 208.3 61.7 206.9 60.8 205.7 60.5 205.1 59.8 204.3 58.6 203.9 57.9 202.7 57.6 201.9 56.9 200.8 56.6 200.2 56.7 199.2 56.8 196.6 56.4 195.1 57.3 195.1 57.2 194.4 56.2 194.0 54.9 193.4 54.3 192.2 53.2 191.2 52.1 189.9 50.8 188.6 49.4 188.4 48.0 187.8 45.9 187.6 44.5 187.1 42.8 187.8 41.8 188.1 41.8 187.0 40.4 188.0 40.4 188.9 39.0 189.7 37.1 190.5 35.2 191.0 36.3 190.3 38.2 189.2 38.5 188.5 36.1 188.5 34.7 187.3 34.1 186.4 34.7 185.6 36.6 184.7 35.2 184.7 33.7 184.7ZM84.6 175.8 88.4 174.5 91.7 173.5 99.9 173.1 107.0 172.5 112.4 173.2 114.1 174.8 114.6 176.7 113.5 178.0 112.7 179.6 112.2 180.9 110.8 181.9 108.1 182.3 105.9 183.8 103.7 184.0 102.3 185.1 101.5 186.4 100.7 187.6 99.6 187.3 98.0 186.7 96.9 185.4 96.2 184.1 95.5 182.8 96.1 182.0 94.7 180.9 94.4 179.9 93.3 178.3 91.2 177.4 88.4 177.2 86.2 176.7ZM90.6 183.3 89.2 184.4 88.7 185.7 87.3 186.0 85.4 185.4 84.1 184.7 82.1 184.9 81.9 184.1 84.6 182.8 83.0 182.3 81.1 181.4 78.1 181.2 76.4 179.0 78.1 178.8 80.8 178.9 83.0 179.6 85.7 180.6 87.3 180.9 88.2 181.9ZM70.1 182.0 71.5 182.2 72.0 181.5 71.0 181.4ZM57.9 177.4 60.6 176.7 61.1 177.2 59.0 177.7ZM72.0 178.0 73.7 178.0 73.7 177.5 72.0 177.5ZM80.8 179.3 82.4 179.3 82.4 178.8 80.8 178.8ZM79.1 186.0 80.2 186.2 80.0 185.7 79.1 185.7ZM59.8 180.3 62.8 179.3 67.1 179.3 69.3 180.9 66.0 182.0 62.8 182.2 60.0 181.5ZM75.3 177.1 80.8 177.2 83.5 175.8 86.2 174.8 90.6 173.5 86.2 172.9 78.1 173.2 74.2 174.2 72.6 175.5ZM74.2 178.3 80.8 178.3 80.8 177.2 74.2 177.0 72.0 177.7ZM55.9 179.9 57.3 178.5 60.6 178.3 61.1 179.3 58.4 180.5ZM69.0 179.3 71.5 178.7 71.5 180.1 69.3 180.1ZM72.6 178.7 75.1 178.7 73.7 179.9 72.3 179.6ZM60.6 177.7 66.6 177.4 67.1 178.0 63.3 178.3 60.6 178.3ZM69.3 177.1 71.0 177.1 71.5 178.0 69.6 178.0ZM72.0 176.1 77.5 175.1 77.5 174.2 73.7 174.0 72.0 174.8ZM77.0 184.1 78.1 183.8 80.0 184.9 78.3 185.7 77.2 185.1ZM111.4 184.1 112.4 183.5 115.7 183.5 117.1 184.3 116.3 184.9 114.2 185.5 112.2 185.2 111.4 184.6ZM82.3 220.6 83.0 220.0 83.2 219.3 84.1 218.9 85.1 218.5 85.5 218.2 85.4 219.0 86.2 218.7 87.1 219.4 88.4 219.3 89.5 219.2 90.7 219.2 91.2 219.7 91.7 220.7 92.8 221.7 94.4 222.3 96.1 223.0 96.6 223.5 97.2 224.9 97.2 226.1 98.0 226.7 100.2 227.6 102.1 228.0 103.4 228.5 105.2 229.5 105.5 230.9 105.2 232.2 104.3 233.2 103.4 234.4 103.2 235.7 103.2 237.3 102.7 238.7 102.1 240.2 101.5 240.8 100.2 241.0 98.8 241.8 98.0 242.8 97.9 244.4 97.2 245.7 96.1 246.9 95.2 247.9 94.4 248.5 93.3 248.2 93.1 249.2 93.5 249.5 93.1 250.6 90.6 251.1 90.4 252.3 89.0 252.4 89.5 253.3 89.0 255.0 87.6 255.8 88.4 256.9 87.3 258.2 86.8 259.4 87.1 260.1 88.2 261.2 87.1 261.7 85.7 261.0 83.8 259.8 83.2 258.2 83.3 256.2 84.1 254.3 84.3 253.0 84.2 251.7 84.5 250.1 84.9 248.9 85.4 247.3 85.4 245.3 85.8 243.4 86.1 241.2 86.1 238.9 86.1 237.9 85.1 237.1 83.5 236.0 82.8 234.8 82.1 233.8 81.3 231.5 80.2 229.9 80.1 229.0 80.6 228.3 80.8 227.5 80.3 226.7 80.8 225.6 81.4 225.1 81.9 224.3 82.3 223.5 82.1 221.9 82.0 221.4ZM121.2 203.1 123.4 203.6 125.0 202.7 127.2 202.5 129.9 202.3 130.5 202.4 130.2 203.3 129.9 204.2 130.5 204.8 131.5 205.1 132.8 205.4 134.0 206.2 135.1 206.7 135.4 205.9 135.6 205.2 136.7 205.1 138.1 205.7 140.3 206.3 141.9 206.0 142.2 206.9 143.0 209.1 143.8 210.7 144.8 212.6 145.5 214.6 146.0 216.2 147.1 217.4 148.1 218.0 148.5 219.4 149.3 219.3 150.6 218.9 152.4 218.5 152.3 219.4 151.7 221.0 150.9 222.9 149.8 224.5 148.2 226.1 147.1 227.3 146.3 228.2 145.9 229.3 145.8 230.9 146.1 232.5 146.6 234.1 146.6 235.7 144.9 237.3 143.8 238.6 143.8 240.2 143.7 241.5 142.5 242.4 142.4 243.4 142.1 244.7 141.4 245.3 140.0 246.9 138.6 247.8 136.7 247.9 135.4 248.4 134.5 248.0 134.4 246.9 133.8 245.0 132.9 243.4 132.4 240.5 131.7 238.9 130.9 237.0 131.2 235.1 131.8 233.8 131.7 231.9 131.2 229.9 130.9 229.0 129.6 227.4 129.5 226.1 129.7 224.5 129.7 223.5 129.1 223.2 127.7 223.3 127.2 222.6 126.1 222.0 125.0 222.3 123.6 222.9 122.3 222.8 120.4 223.3 119.3 222.6 118.2 221.6 117.2 220.5 116.3 219.2 115.3 218.1 115.1 216.7 115.4 215.5 115.6 213.6 115.2 212.6 116.3 210.7 117.4 208.5 119.0 207.2 119.1 205.9 119.8 204.8 120.7 204.3ZM151.4 233.8 152.0 236.0 151.6 237.0 150.9 239.2 150.2 242.0 149.1 242.4 148.3 241.2 148.1 239.9 148.7 237.6 148.5 236.7 149.8 236.2 150.6 234.8ZM142.2 206.9 143.2 208.3 143.6 207.2 143.6 208.1 144.4 209.4 145.2 210.7 145.8 212.3 146.7 213.9 147.6 215.5 147.9 216.8 148.2 218.0 149.0 217.9 150.6 217.1 152.3 216.4 153.1 215.5 154.5 214.9 155.5 214.0 156.0 213.0 156.9 211.7 156.4 211.0 155.3 210.4 155.2 209.2 154.7 209.8 153.9 210.6 152.8 210.7 152.6 209.8 152.3 209.4 151.7 209.1 150.9 208.1 150.6 207.0 151.5 206.9 152.0 207.5 152.6 208.3 153.7 208.9 154.7 209.0 155.6 209.6 156.7 209.8 158.0 209.9 159.4 209.9 160.7 209.8 161.3 210.7 161.8 211.4 162.7 211.5 162.1 211.8 162.9 212.8 164.0 212.4 164.2 213.9 164.6 215.8 165.1 217.8 165.7 219.0 166.2 220.3 166.8 220.9 167.1 220.3 167.7 219.5 168.0 218.4 168.3 217.4 168.2 216.2 169.4 215.3 170.3 214.2 171.7 213.3 171.9 212.3 172.8 212.1 173.8 211.7 174.6 211.8 174.8 212.8 175.5 213.9 176.0 215.2 175.9 215.8 176.6 216.0 177.7 215.5 177.8 216.8 178.2 218.4 178.3 219.7 178.1 220.7 178.6 221.6 179.1 222.6 179.6 224.2 180.9 225.3 181.3 225.1 180.9 223.5 180.3 222.3 179.6 221.7 179.2 220.7 178.7 219.4 178.8 218.1 179.0 217.5 179.5 218.0 180.3 218.3 180.7 219.0 181.5 219.4 181.8 220.5 182.6 220.0 183.1 219.4 184.1 218.7 184.1 217.8 183.8 216.4 182.9 215.2 182.2 213.9 182.7 212.8 183.4 212.3 184.2 212.3 184.7 213.1 185.0 212.3 186.4 211.9 188.0 211.4 189.1 210.4 189.7 209.6 190.2 208.5 190.9 207.5 191.0 206.4 190.5 205.6 190.2 204.6 189.6 203.7 190.2 202.9 191.3 202.4 190.5 201.9 189.4 202.3 188.9 201.5 188.7 201.1 189.7 200.5 190.8 199.9 190.6 201.1 191.2 200.7 192.3 200.5 192.8 201.2 193.5 202.1 193.4 203.7 193.5 204.1 194.6 203.8 195.1 203.3 195.1 202.4 194.6 201.4 194.0 200.8 194.6 200.3 195.3 199.8 195.8 199.0 196.8 198.4 198.4 197.7 199.8 196.3 201.0 195.0 201.1 193.4 201.4 192.0 200.6 191.4 199.2 191.5 198.7 191.0 200.0 189.9 201.7 188.4 202.8 188.1 205.2 188.1 207.1 188.2 208.8 188.1 209.6 186.7 212.1 187.0 209.9 189.2 209.5 190.8 210.0 193.4 211.0 192.2 211.8 191.2 213.1 190.1 213.6 189.0 213.1 188.8 214.4 187.8 216.1 187.4 217.5 187.6 219.2 186.6 221.3 186.0 222.4 185.7 223.8 184.4 223.8 181.9 220.5 181.4 217.2 181.2 214.5 181.5 212.3 181.5 209.1 180.6 206.3 180.3 203.6 179.7 200.9 179.6 198.7 180.3 195.4 180.6 193.5 179.0 192.1 179.0 188.9 179.0 186.1 178.9 186.1 177.4 183.4 176.9 181.4 176.3 179.0 177.1 176.8 177.4 173.6 177.7 171.9 178.7 168.4 179.0 165.9 179.6 164.0 179.6 162.4 179.3 161.3 180.7 160.7 181.5 157.2 181.4 156.1 182.0 153.9 182.3 151.7 182.6 148.7 182.2 148.5 183.5 146.6 184.7 144.1 184.9 143.3 184.1 143.0 183.5 144.4 183.6 146.8 183.6 146.6 182.6 144.1 181.8 142.5 181.6 140.8 181.4 138.4 180.6 135.9 181.1 133.7 181.7 132.4 182.5 131.3 183.8 130.2 184.7 128.8 185.7 127.2 186.4 127.2 187.6 127.5 188.4 128.3 188.9 129.1 188.7 130.2 188.1 130.7 188.4 131.0 189.2 131.4 190.1 132.1 190.6 133.2 190.1 133.5 189.2 134.3 188.1 133.8 187.0 134.0 186.0 135.1 185.4 136.2 184.4 137.5 183.9 138.4 184.4 136.7 185.4 136.1 187.0 136.7 187.6 138.1 187.5 139.7 187.3 140.8 187.6 139.7 188.0 137.5 188.1 137.3 188.6 137.7 189.4 136.5 189.2 135.9 189.9 136.0 190.7 135.1 191.2 134.5 191.0 133.5 191.2 132.2 191.5 131.0 191.4 130.5 191.5 130.2 190.2 130.2 189.1 129.1 189.6 128.9 190.5 129.2 191.5 128.3 191.8 127.2 191.9 126.9 192.6 126.4 193.1 125.8 193.4 125.3 193.9 124.5 194.3 123.6 194.2 123.5 194.9 121.8 195.0 122.3 195.5 123.1 195.8 123.8 196.6 123.7 197.9 123.5 198.3 122.3 198.3 120.1 198.1 119.4 198.5 119.6 199.5 119.5 200.8 119.3 201.3 119.6 202.4 120.4 202.3 121.0 202.7 121.4 203.0 122.0 202.6 123.4 202.6 124.2 202.0 124.6 201.2 124.3 200.8 124.9 199.9 126.2 199.2 126.1 198.5 126.9 198.3 128.0 198.5 128.5 198.0 129.3 197.6 130.0 198.0 130.2 198.6 131.1 199.3 132.0 199.7 133.0 200.5 133.0 201.7 133.3 201.2 133.8 201.1 133.5 200.5 134.5 200.3 133.7 199.8 133.2 199.2 132.4 199.0 131.9 198.2 131.2 197.6 131.2 197.1 131.9 196.9 132.4 197.1 132.9 197.9 133.7 198.3 134.5 198.9 135.1 199.3 135.0 200.2 135.5 200.8 136.0 201.5 136.2 202.4 136.7 202.8 137.1 202.7 137.0 202.1 137.5 201.6 137.0 201.1 136.9 200.1 137.5 200.0 138.6 199.9 138.8 200.5 138.9 201.1 139.2 201.9 139.5 202.4 140.0 202.6 141.1 202.8 142.2 203.0 143.3 202.5 144.1 202.5 144.0 203.3 144.0 204.0 143.6 204.9 143.3 205.9 143.1 206.0 142.1 206.1ZM25.1 184.4 28.4 184.6 30.0 184.8 30.3 184.2 31.8 183.7 30.8 183.1 28.9 182.8 27.3 182.2 25.1 181.9ZM121.7 188.5 122.8 188.5 123.4 189.2 123.6 190.8 124.5 191.8 125.4 192.4 125.3 193.1 125.2 193.3 123.9 193.6 122.5 193.9 121.3 194.0 122.0 193.3 122.8 193.1 121.7 193.0 122.2 192.6 121.9 192.2 122.8 191.9 122.8 191.5 122.5 191.2 121.7 191.0 121.6 190.5 121.3 189.9 121.1 189.2ZM121.2 190.7 120.0 190.7 119.0 191.4 118.9 191.8 119.3 192.4 118.8 192.9 120.1 193.0 121.0 192.6 121.2 191.8ZM130.5 175.8 133.2 177.0 136.5 176.4 139.2 175.3 135.4 174.5 130.5 174.9ZM153.1 180.4 155.3 180.8 156.1 179.0 158.3 177.7 162.1 176.9 161.3 176.7 157.2 177.1 154.7 178.3 153.7 179.4ZM175.2 175.1 177.4 176.0 180.1 175.5 181.8 175.1 179.0 174.2 176.3 174.2ZM198.7 178.7 200.9 179.1 204.7 178.0 202.5 177.4 199.8 177.4ZM150.1 174.5 154.5 174.8 158.3 174.5 157.2 173.8 152.8 173.7ZM25.1 180.3 27.6 180.5 27.0 180.7 25.1 180.6ZM196.0 204.3 196.5 203.4 198.1 203.2 199.1 202.3 200.3 201.7 200.9 200.6 200.9 199.7 201.7 199.6 202.0 200.8 201.4 201.5 201.4 202.7 201.3 203.2 200.8 203.7 200.2 203.9 199.2 203.9 198.7 204.6 198.1 204.4 198.3 203.9 197.0 204.0ZM195.4 204.6 195.2 205.2 195.5 206.0 196.0 206.1 196.4 205.3 196.5 204.5 196.0 204.3ZM196.8 204.9 197.9 204.5 197.9 204.2 197.0 204.2ZM200.9 199.5 201.4 198.4 201.7 197.0 202.5 197.6 203.8 197.7 204.0 198.3 202.7 199.2 201.4 198.9ZM202.0 196.6 202.8 196.3 202.6 194.7 202.5 193.4 202.8 192.1 202.3 191.3 202.0 191.8 202.1 193.4 202.0 195.3ZM190.0 211.4 190.5 212.1 191.0 210.4 190.8 209.9 189.9 210.7ZM183.8 213.8 184.5 213.2 185.0 213.5 184.5 214.4 183.8 214.2ZM190.1 214.2 191.2 214.2 191.0 215.5 190.8 216.5 192.1 217.8 191.6 217.4 190.3 216.9 189.8 215.8ZM191.0 221.6 193.0 219.8 193.6 221.3 193.0 222.4 192.1 221.9ZM191.0 218.5 191.9 219.7 193.0 218.7 192.7 218.1 191.6 218.1ZM188.4 220.7 189.7 218.9 189.4 219.0 188.3 220.4ZM183.9 224.9 184.2 226.4 184.6 227.9 185.4 228.3 186.9 228.6 187.9 228.7 188.0 227.4 188.6 226.4 188.7 225.5 188.9 224.5 189.5 222.8 188.5 221.7 187.9 221.9 187.3 222.8 186.6 223.3 185.3 224.3 184.3 224.8ZM176.5 222.5 177.7 222.8 179.2 224.5 181.1 226.6 182.3 228.0 182.2 229.9 181.5 229.8 180.3 228.7 179.3 226.7 178.3 225.0 177.1 223.8ZM181.9 230.5 182.6 229.9 183.6 230.1 184.7 230.5 185.9 230.5 186.9 231.0 186.9 231.7 185.0 231.4 183.4 231.1 182.3 230.8ZM187.2 231.4 189.4 231.4 189.9 231.7 189.4 231.9 187.5 231.7ZM189.8 231.5 191.6 231.4 191.6 231.7 189.9 231.8ZM192.1 232.7 192.8 231.9 193.9 231.5 193.2 232.0 192.4 232.6ZM189.7 229.6 190.2 229.7 190.1 227.9 190.5 227.8 191.5 229.2 191.8 228.7 190.8 227.3 191.8 226.6 190.5 226.7 190.3 225.8 191.9 225.8 192.7 225.1 192.4 225.9 190.8 225.9 189.9 225.7 189.4 226.7 189.3 228.0ZM194.0 224.8 194.6 225.1 194.3 226.1 194.6 226.6 194.0 226.4ZM194.3 228.0 195.8 228.2 195.7 228.4 194.4 228.3ZM196.0 226.9 197.6 226.6 198.1 228.2 199.8 227.1 201.4 227.8 203.3 228.5 204.1 229.6 205.0 229.9 205.1 231.2 206.1 232.4 206.6 232.8 204.7 232.5 203.9 231.2 202.8 231.9 201.4 232.0 200.0 231.4 199.5 229.3 197.9 228.7 196.8 228.7 196.4 227.9ZM205.5 229.6 206.6 229.6 207.4 228.8 207.3 229.6 206.3 230.1 205.5 229.9ZM186.4 240.2 186.8 240.1 188.1 239.3 190.5 238.6 191.2 237.3 191.9 237.0 192.7 235.7 193.5 235.0 194.3 235.7 195.1 235.7 195.6 234.1 196.5 233.5 196.8 233.9 197.3 233.6 198.7 233.7 199.1 234.1 198.6 234.8 198.4 235.7 199.2 236.4 200.5 237.3 201.3 237.3 201.7 235.7 201.7 234.1 202.2 233.0 202.8 234.1 203.0 235.4 203.8 235.7 204.1 238.0 205.5 238.9 206.1 240.2 206.8 240.8 208.0 242.4 208.3 244.4 208.0 246.0 207.4 247.1 206.8 248.2 206.3 250.0 205.2 250.3 204.4 251.1 203.3 250.6 201.7 250.7 200.9 250.1 200.6 249.2 199.8 248.9 199.8 248.2 199.5 247.3 198.7 248.5 198.4 248.2 197.6 247.1 196.2 246.3 194.9 246.4 193.2 246.8 191.9 247.8 189.9 247.9 188.9 248.5 187.5 248.1 187.2 247.6 187.7 246.6 187.2 245.0 186.7 243.4 186.4 242.1ZM203.4 252.2 205.4 252.3 205.2 253.8 204.6 254.1 203.7 253.2ZM218.7 248.2 219.7 249.1 220.4 249.8 221.9 250.3 221.1 251.2 221.0 251.7 220.1 252.8 219.8 252.6 220.0 251.7 219.3 251.3 219.8 250.5 219.6 249.6 218.9 248.7ZM218.7 252.1 219.6 252.7 219.2 253.5 218.8 254.2 217.9 254.6 217.6 255.5 216.7 256.0 215.3 255.6 216.1 254.3 217.5 253.7 218.1 252.7ZM168.0 219.8 169.1 221.3 168.9 222.1 168.2 222.3 168.0 221.0ZM78.1 212.1 79.1 211.4 80.5 211.2 82.1 212.1 83.9 213.1 82.0 213.3 80.8 212.1 79.7 212.0 78.3 212.1ZM83.8 213.4 84.7 213.3 86.2 213.5 87.2 214.2 86.2 214.4 85.4 214.8 83.9 214.4ZM81.7 214.3 82.8 214.4 82.5 214.6 81.9 214.4ZM87.8 214.2 88.6 214.3 88.5 214.6 87.8 214.6ZM25.1 276.1 31.7 276.3 37.1 276.2 42.6 276.1 45.3 275.8 52.4 274.7 61.1 274.3 69.9 273.4 75.3 273.5 78.6 274.3 81.9 273.2 84.1 271.9 87.3 269.7 90.1 267.8 92.8 266.6 92.2 267.5 90.6 268.7 89.5 270.3 88.4 272.3 87.3 274.2 87.3 275.7 97.2 275.7 102.6 275.9 110.3 276.0 113.0 274.7 118.1 272.5 125.1 271.7 133.7 271.2 142.5 270.8 151.2 268.6 156.4 268.2 161.0 269.4 162.7 270.7 164.8 270.7 168.1 270.0 172.5 270.1 177.9 269.1 183.4 269.1 189.9 268.9 197.6 268.8 203.6 269.4 208.0 270.5 211.8 271.5 214.9 272.6 215.6 274.8 216.1 275.9 223.8 276.0 223.8 285.7 25.1 285.7Z" fill="#cccccc" stroke="#000" stroke-width="0.85" stroke-linejoin="round"/><path d="M139.7 199.7 140.6 199.7 141.6 199.7 142.7 199.2 143.6 199.2 144.4 199.6 145.5 199.8 146.6 199.8 147.1 199.5 147.3 198.9 146.3 198.3 145.2 197.6 144.6 197.1 145.2 196.3 145.7 195.8 144.9 196.0 143.6 196.4 143.8 197.1 142.7 197.6 142.2 197.0 142.7 196.6 141.6 196.2 141.1 196.4 140.7 197.0 140.1 197.7 139.7 198.5ZM150.6 196.3 151.2 196.3 152.6 196.0 153.4 196.3 153.4 197.2 152.5 197.6 152.3 198.4 153.1 199.2 153.3 199.8 153.9 200.5 153.7 201.4 153.9 202.2 152.3 202.6 151.2 202.1 151.1 201.4 151.5 200.3 150.9 199.3 150.4 198.5 150.1 197.6 150.0 196.9Z" fill="none" stroke="#000" stroke-width="0.6"/><path d="M151.4 233.8 152.0 236.0 151.6 237.0 150.9 239.2 150.2 242.0 149.1 242.4 148.3 241.2 148.1 239.9 148.7 237.6 148.5 236.7 149.8 236.2 150.6 234.8ZM218.7 248.2 219.7 249.1 220.4 249.8 221.9 250.3 221.1 251.2 221.0 251.7 220.1 252.8 219.8 252.6 220.0 251.7 219.3 251.3 219.8 250.5 219.6 249.6 218.9 248.7ZM218.7 252.1 219.6 252.7 219.2 253.5 218.8 254.2 217.9 254.6 217.6 255.5 216.7 256.0 215.3 255.6 216.1 254.3 217.5 253.7 218.1 252.7ZM210.0 193.4 211.0 192.2 211.8 191.2 213.1 190.1 213.6 189.0 213.1 188.8 214.4 187.8 213.7 187.1 212.6 187.3 210.7 188.9 209.9 189.6 209.5 190.8Z" fill="#ececec" stroke="#000" stroke-width="0.8" stroke-linejoin="round"/><path d="M216.1 275.9 223.8 276.0 223.8 281.2 216.1 280.0 215.1 277.4ZM25.1 276.0 34.4 276.3 42.6 276.1 45.3 276.4 44.8 281.2 25.1 281.2ZM87.3 275.7 97.2 275.7 102.6 275.9 110.3 276.0 109.2 278.0 102.6 279.5 91.7 279.6 85.1 278.7 85.1 276.1Z" fill="#fff" stroke="#222" stroke-width="0.6"/><ellipse cx="77.0" cy="197.6" rx="2.18" ry="1.60" fill="none" stroke="#000" stroke-width="0.6"/><ellipse cx="80.0" cy="198.9" rx="1.36" ry="0.77" fill="none" stroke="#000" stroke-width="0.6"/><ellipse cx="62.2" cy="186.7" rx="1.64" ry="0.77" fill="none" stroke="#000" stroke-width="0.6"/><ellipse cx="58.4" cy="183.8" rx="1.64" ry="0.96" fill="none" stroke="#000" stroke-width="0.6"/><ellipse cx="71.2" cy="192.4" rx="0.82" ry="1.60" fill="none" stroke="#000" stroke-width="0.6"/><ellipse cx="157.2" cy="197.2" rx="1.09" ry="1.28" fill="none" stroke="#000" stroke-width="0.6"/><ellipse cx="165.4" cy="196.3" rx="1.64" ry="0.64" fill="none" stroke="#000" stroke-width="0.6"/><ellipse cx="183.4" cy="192.1" rx="0.55" ry="1.92" fill="none" stroke="#000" stroke-width="0.6"/><ellipse cx="142.5" cy="226.7" rx="0.82" ry="0.96" fill="none" stroke="#000" stroke-width="0.6"/><ellipse cx="140.6" cy="229.9" rx="0.44" ry="1.92" fill="none" stroke="#000" stroke-width="0.6"/><ellipse cx="143.3" cy="233.8" rx="0.44" ry="1.60" fill="none" stroke="#000" stroke-width="0.6"/><ellipse cx="132.1" cy="217.8" rx="0.82" ry="0.96" fill="none" stroke="#000" stroke-width="0.6"/><ellipse cx="141.6" cy="187.0" rx="0.82" ry="0.77" fill="none" stroke="#000" stroke-width="0.6"/><g fill="#000"><ellipse cx="36.0" cy="182.7" rx="0.96" ry="0.96"/><ellipse cx="31.3" cy="212.9" rx="1.32" ry="1.32"/><ellipse cx="40.0" cy="213.0" rx="1.32" ry="1.32"/><ellipse cx="47.3" cy="209.3" rx="1.32" ry="1.44"/><ellipse cx="72.7" cy="226.0" rx="1.20" ry="1.20"/><ellipse cx="72.7" cy="229.8" rx="1.20" ry="1.20"/><ellipse cx="29.8" cy="266.5" rx="1.32" ry="1.32"/><ellipse cx="31.8" cy="268.0" rx="1.32" ry="1.32"/><ellipse cx="50.8" cy="264.0" rx="1.32" ry="1.44"/><ellipse cx="58.0" cy="260.4" rx="1.20" ry="1.20"/><ellipse cx="64.0" cy="254.4" rx="1.44" ry="1.44"/><ellipse cx="47.6" cy="270.8" rx="1.20" ry="1.20"/><ellipse cx="36.8" cy="276.4" rx="0.96" ry="0.96"/><ellipse cx="96.7" cy="199.3" rx="1.32" ry="1.32"/><ellipse cx="109.3" cy="200.7" rx="1.20" ry="1.20"/><ellipse cx="86.7" cy="217.3" rx="1.20" ry="1.20"/><ellipse cx="97.3" cy="226.0" rx="1.08" ry="1.08"/><ellipse cx="118.0" cy="251.6" rx="1.32" ry="1.32"/><ellipse cx="116.4" cy="256.4" rx="1.32" ry="1.32"/><ellipse cx="110.8" cy="260.4" rx="1.32" ry="1.32"/><ellipse cx="104.4" cy="261.2" rx="0.84" ry="0.84"/><ellipse cx="91.6" cy="258.8" rx="0.84" ry="0.84"/><ellipse cx="125.2" cy="240.4" rx="1.20" ry="1.20"/><ellipse cx="142.8" cy="262.8" rx="1.32" ry="1.32"/><ellipse cx="162.0" cy="257.2" rx="0.84" ry="0.84"/><ellipse cx="153.2" cy="254.8" rx="0.84" ry="0.84"/><ellipse cx="169.3" cy="234.7" rx="1.32" ry="1.32"/><ellipse cx="130.0" cy="234.0" rx="1.20" ry="1.20"/><ellipse cx="208.7" cy="194.0" rx="1.20" ry="1.20"/><ellipse cx="198.7" cy="220.7" rx="1.08" ry="1.08"/><ellipse cx="217.0" cy="235.5" rx="1.20" ry="1.20"/><ellipse cx="220.0" cy="238.0" rx="1.20" ry="1.20"/><ellipse cx="214.4" cy="238.8" rx="1.08" ry="1.08"/></g><path d="M27.3 192.0L39.3 188.7" stroke="#000" stroke-width="1.3" stroke-linecap="round" stroke-dasharray="1.6 1.2"/><path d="M39.0 193.5L39.8 197.8" stroke="#000" stroke-width="1.7" stroke-linecap="round"/><path d="M49.5 203.3L49.5 206.0" stroke="#000" stroke-width="1.7" stroke-linecap="round"/><path d="M51.0 202.9L49.0 206.5" stroke="#000" stroke-width="1.7" stroke-linecap="round"/><path d="M48.7 213.3L48.7 215.3" stroke="#000" stroke-width="1.7" stroke-linecap="round"/><path d="M55.6 257.2L55.6 261.2" stroke="#000" stroke-width="1.7" stroke-linecap="round"/><path d="M87.0 204.7L88.0 208.0" stroke="#000" stroke-width="1.7" stroke-linecap="round"/><path d="M102.9 211.4L105.2 213.2" stroke="#000" stroke-width="1.8" stroke-linecap="round"/><path d="M90.7 213.6L90.7 216.0" stroke="#000" stroke-width="1.7" stroke-linecap="round"/><path d="M108.6 265.2L110.6 267.6" stroke="#000" stroke-width="1.7" stroke-linecap="round"/><path d="M84.4 270.8L84.4 272.4" stroke="#000" stroke-width="1.5" stroke-linecap="round"/><path d="M146.4 243.0L149.0 252.2" stroke="#000" stroke-width="1.3" stroke-linecap="round" stroke-dasharray="1.6 1.2"/><path d="M145.2 255.8L145.6 258.0" stroke="#000" stroke-width="1.8" stroke-linecap="round"/><path d="M167.6 260.4L167.6 262.0" stroke="#000" stroke-width="1.8" stroke-linecap="round"/><path d="M203.3 214.7L203.3 217.3" stroke="#000" stroke-width="1.6" stroke-linecap="round"/><path d="M182.4 238.8L182.4 241.2" stroke="#000" stroke-width="1.7" stroke-linecap="round"/><path d="M196.8 262.0L196.8 266.0" stroke="#000" stroke-width="1.7" stroke-linecap="round"/><circle cx="124.5" cy="226.4" r="2" fill="#fff"/></g><clipPath id="cpd"><rect x="338.3" y="168.4" width="196.6" height="115.6"/></clipPath><g clip-path="url(#cpd)"><path d="M344.9 184.1 346.8 183.2 345.7 182.3 347.6 181.6 351.0 180.4 353.6 180.7 356.9 181.1 359.6 181.4 362.3 181.9 364.0 181.6 366.7 181.2 368.9 181.6 371.1 181.6 374.3 182.3 377.6 182.3 379.8 182.5 383.1 182.7 384.4 182.2 385.3 180.1 386.9 181.6 388.5 182.2 390.2 181.4 391.8 182.2 392.1 183.2 390.5 183.7 389.1 184.5 387.2 185.4 385.8 186.4 385.0 188.0 385.8 188.4 387.4 189.3 390.2 190.7 391.7 190.9 391.8 192.2 392.6 193.3 393.5 193.1 393.5 191.5 394.5 190.6 394.7 189.3 394.0 188.3 394.3 187.3 393.9 186.2 395.6 186.2 397.3 186.7 398.6 187.0 398.6 188.3 399.7 188.8 400.6 188.1 401.4 187.5 402.2 189.0 403.0 190.2 404.4 190.9 405.5 191.8 406.2 192.8 405.2 193.2 403.8 194.0 401.6 194.0 400.3 194.0 399.5 194.5 401.4 194.7 401.1 195.5 401.4 196.5 403.3 196.9 403.8 196.5 403.9 196.7 401.9 197.6 400.6 198.3 400.6 197.3 399.5 197.7 398.3 198.2 398.1 199.2 398.4 199.4 397.6 199.7 396.2 200.2 396.2 200.8 395.6 201.3 395.4 202.1 395.1 202.5 395.4 203.5 394.5 204.0 393.5 204.9 392.4 205.8 392.1 206.9 392.6 208.2 392.9 209.5 392.7 210.0 392.1 209.6 391.4 208.4 390.9 207.1 390.2 207.1 389.4 206.7 388.0 206.7 387.8 207.6 387.2 207.4 385.5 207.1 384.7 207.4 383.5 208.5 383.4 209.8 383.2 211.8 383.5 213.0 384.2 214.0 385.0 214.5 386.4 214.3 387.2 213.5 387.3 212.7 389.1 212.4 388.8 213.7 388.4 215.0 388.3 216.0 389.6 215.9 390.7 216.2 391.1 216.6 391.0 218.2 390.9 219.1 391.8 220.4 392.9 220.2 393.7 220.2 394.4 220.7 394.1 221.5 393.5 221.1 392.7 221.4 392.1 221.1 391.0 220.7 389.8 219.8 389.8 219.1 388.8 217.9 387.7 217.5 386.6 217.2 385.8 216.2 385.0 215.8 383.9 216.1 382.8 215.7 381.4 215.1 380.1 214.4 379.0 213.0 379.1 212.2 378.4 211.2 377.6 210.1 376.9 209.2 376.0 208.2 375.2 207.3 374.0 206.0 374.1 206.9 375.2 208.5 376.4 210.7 376.8 211.4 376.4 211.2 375.4 210.3 375.2 209.2 374.1 208.3 373.8 206.9 372.9 205.8 372.6 205.2 371.9 204.4 370.7 204.0 370.0 202.8 369.7 201.9 369.0 200.8 368.7 200.3 368.8 199.2 368.9 196.7 368.5 195.1 369.4 195.2 369.3 194.4 368.3 194.1 367.0 193.4 366.4 192.3 365.3 191.2 364.2 189.9 362.9 188.6 361.5 188.4 360.1 187.8 358.0 187.7 356.6 187.2 355.0 187.8 353.9 188.2 353.9 187.0 352.5 188.0 352.5 189.0 351.1 189.7 349.2 190.5 347.3 191.1 348.4 190.3 350.3 189.3 350.6 188.5 348.2 188.6 346.8 187.3 346.2 186.4 346.8 185.6 348.7 184.8 347.3 184.7 345.8 184.7ZM396.7 175.8 400.6 174.5 403.8 173.5 412.0 173.1 419.1 172.5 424.6 173.2 426.2 174.8 426.8 176.7 425.7 178.0 424.9 179.6 424.3 180.9 422.9 181.9 420.2 182.3 418.0 183.8 415.8 184.1 414.5 185.1 413.7 186.4 412.8 187.7 411.8 187.3 410.1 186.7 409.0 185.4 408.3 184.1 407.7 182.8 408.2 182.0 406.8 180.9 406.6 180.0 405.5 178.4 403.3 177.4 400.6 177.3 398.4 176.7ZM402.7 183.3 401.4 184.5 400.8 185.7 399.5 186.0 397.6 185.4 396.2 184.8 394.3 184.9 394.0 184.1 396.7 182.8 395.1 182.3 393.2 181.4 390.2 181.2 388.5 179.0 390.2 178.8 392.9 178.9 395.1 179.6 397.8 180.6 399.5 180.9 400.3 181.9ZM382.3 182.0 383.6 182.2 384.2 181.6 383.1 181.4ZM370.0 177.4 372.7 176.7 373.3 177.2 371.1 177.7ZM384.2 178.0 385.8 178.0 385.8 177.5 384.2 177.5ZM392.9 179.3 394.5 179.3 394.5 178.8 392.9 178.8ZM391.3 186.1 392.4 186.2 392.1 185.7 391.3 185.7ZM371.9 180.3 374.9 179.3 379.3 179.3 381.4 180.9 378.2 182.0 374.9 182.2 372.2 181.6ZM387.4 177.1 392.9 177.2 395.6 175.8 398.4 174.8 402.7 173.5 398.4 172.9 390.2 173.2 386.4 174.2 384.7 175.5ZM386.4 178.4 392.9 178.4 392.9 177.3 386.4 177.0 384.2 177.7ZM368.1 180.0 369.4 178.5 372.7 178.4 373.3 179.3 370.5 180.5ZM381.2 179.3 383.6 178.7 383.6 180.1 381.4 180.1ZM384.7 178.7 387.2 178.7 385.8 180.0 384.4 179.6ZM372.7 177.7 378.7 177.4 379.3 178.0 375.4 178.4 372.7 178.4ZM381.4 177.1 383.1 177.1 383.6 178.0 381.7 178.0ZM384.2 176.1 389.6 175.1 389.6 174.2 385.8 174.0 384.2 174.8ZM389.1 184.1 390.2 183.8 392.1 185.0 390.5 185.7 389.4 185.1ZM423.5 184.1 424.6 183.6 427.9 183.5 429.2 184.3 428.4 184.9 426.4 185.5 424.3 185.2 423.5 184.6ZM394.4 220.7 395.1 220.1 395.4 219.4 396.2 219.0 397.3 218.6 397.7 218.2 397.6 219.1 398.4 218.8 399.2 219.5 400.6 219.4 401.6 219.3 402.9 219.3 403.3 219.8 403.8 220.7 404.9 221.8 406.6 222.4 408.2 223.1 408.7 223.6 409.3 225.0 409.3 226.2 410.1 226.8 412.3 227.7 414.2 228.1 415.6 228.6 417.4 229.6 417.6 231.0 417.3 232.3 416.4 233.3 415.6 234.5 415.3 235.8 415.3 237.4 414.9 238.9 414.2 240.3 413.7 241.0 412.3 241.1 410.9 241.9 410.1 242.9 410.1 244.5 409.3 245.8 408.2 247.1 407.4 248.0 406.6 248.6 405.5 248.4 405.2 249.3 405.6 249.6 405.2 250.7 402.7 251.2 402.6 252.4 401.1 252.5 401.6 253.5 401.1 255.1 399.7 255.9 400.6 257.0 399.5 258.3 398.9 259.6 399.2 260.2 400.3 261.4 399.2 261.8 397.8 261.2 395.9 259.9 395.4 258.3 395.5 256.4 396.2 254.5 396.5 253.2 396.4 251.9 396.6 250.3 397.0 249.0 397.5 247.4 397.6 245.5 397.9 243.5 398.2 241.3 398.3 239.0 398.2 238.0 397.3 237.2 395.6 236.2 394.9 234.9 394.3 233.9 393.5 231.7 392.4 230.1 392.3 229.1 392.7 228.4 392.9 227.6 392.4 226.8 392.9 225.7 393.6 225.2 394.0 224.4 394.4 223.6 394.3 222.0 394.1 221.5ZM433.4 203.2 435.5 203.7 437.1 202.8 439.3 202.6 442.1 202.3 442.6 202.5 442.3 203.4 442.1 204.2 442.6 204.9 443.7 205.1 445.0 205.5 446.2 206.3 447.2 206.7 447.5 206.0 447.8 205.3 448.9 205.1 450.3 205.8 452.4 206.4 454.1 206.1 454.3 207.0 455.2 209.2 456.0 210.8 456.9 212.7 457.6 214.6 458.2 216.2 459.3 217.5 460.2 218.1 460.6 219.5 461.4 219.4 462.8 219.0 464.6 218.6 464.5 219.5 463.9 221.1 463.1 223.0 462.0 224.6 460.4 226.2 459.3 227.4 458.4 228.3 458.1 229.4 458.0 231.0 458.3 232.6 458.7 234.2 458.8 235.8 457.1 237.4 456.0 238.7 456.0 240.3 455.9 241.6 454.6 242.6 454.5 243.5 454.2 244.8 453.5 245.5 452.2 247.1 450.8 247.9 448.9 248.0 447.5 248.5 446.7 248.2 446.6 247.1 446.0 245.1 445.1 243.5 444.5 240.7 443.8 239.0 443.0 237.1 443.3 235.2 444.0 233.9 443.8 232.0 443.3 230.1 443.0 229.1 441.8 227.5 441.7 226.2 441.9 224.6 441.9 223.6 441.2 223.3 439.9 223.4 439.3 222.7 438.2 222.1 437.1 222.3 435.8 223.0 434.4 222.9 432.5 223.4 431.4 222.7 430.3 221.7 429.4 220.5 428.4 219.3 427.5 218.2 427.2 216.8 427.6 215.6 427.8 213.7 427.3 212.7 428.4 210.8 429.5 208.5 431.1 207.3 431.2 206.0 432.0 204.8 432.9 204.4ZM463.5 233.9 464.2 236.2 463.7 237.1 463.1 239.4 462.4 242.1 461.3 242.6 460.5 241.3 460.2 240.0 460.9 237.8 460.6 236.8 462.0 236.3 462.8 234.9ZM454.3 207.0 455.3 208.3 455.7 207.3 455.7 208.2 456.5 209.5 457.4 210.8 458.0 212.4 458.9 214.0 459.8 215.6 460.1 216.9 460.4 218.0 461.2 218.0 462.8 217.2 464.5 216.4 465.3 215.6 466.6 215.0 467.6 214.1 468.2 213.0 469.1 211.8 468.5 211.0 467.5 210.5 467.3 209.3 466.9 209.8 466.1 210.7 465.0 210.8 464.7 209.8 464.5 209.5 463.9 209.2 463.1 208.2 462.8 207.1 463.6 206.9 464.2 207.6 464.7 208.3 465.8 209.0 466.9 209.1 467.7 209.6 468.8 209.9 470.2 210.0 471.6 210.0 472.9 209.8 473.5 210.8 474.0 211.4 474.8 211.6 474.3 211.9 475.1 212.8 476.2 212.5 476.4 214.0 476.7 215.9 477.3 217.9 477.8 219.1 478.4 220.4 478.9 221.0 479.3 220.4 479.9 219.6 480.2 218.5 480.5 217.5 480.4 216.2 481.5 215.4 482.5 214.3 483.8 213.4 484.1 212.4 484.9 212.2 486.0 211.8 486.7 211.9 487.0 212.8 487.7 214.0 488.2 215.3 488.1 215.9 488.8 216.1 489.8 215.6 490.0 216.9 490.4 218.5 490.4 219.8 490.3 220.7 490.8 221.7 491.3 222.7 491.8 224.3 493.1 225.4 493.5 225.2 493.1 223.6 492.5 222.3 491.8 221.8 491.4 220.7 490.8 219.5 490.9 218.2 491.2 217.6 491.7 218.0 492.5 218.4 492.8 219.1 493.7 219.5 493.9 220.6 494.8 220.1 495.3 219.5 496.2 218.8 496.3 217.9 496.0 216.4 495.0 215.3 494.4 214.0 494.9 212.8 495.6 212.4 496.4 212.4 496.8 213.2 497.2 212.4 498.6 211.9 500.2 211.4 501.3 210.5 501.9 209.6 502.4 208.5 503.1 207.6 503.2 206.4 502.7 205.6 502.4 204.7 501.8 203.7 502.4 203.0 503.5 202.4 502.7 201.9 501.6 202.3 501.0 201.6 500.9 201.2 501.9 200.6 503.0 199.9 502.8 201.2 503.4 200.8 504.5 200.6 505.0 201.3 505.7 202.1 505.6 203.7 505.7 204.2 506.8 203.9 507.3 203.4 507.3 202.4 506.8 201.4 506.2 200.8 506.8 200.4 507.5 199.9 508.0 199.0 509.0 198.5 510.6 197.7 512.0 196.3 513.2 195.1 513.3 193.4 513.6 192.0 512.8 191.4 511.4 191.5 510.9 191.1 512.2 189.9 513.9 188.4 515.0 188.1 517.4 188.1 519.3 188.2 521.0 188.1 521.8 186.7 524.3 187.0 522.1 189.3 521.7 190.9 522.2 193.4 523.2 192.3 524.0 191.2 525.3 190.1 525.8 189.1 525.3 188.8 526.6 187.8 528.3 187.4 529.7 187.7 531.4 186.6 533.5 186.1 534.6 185.7 536.0 184.5 536.0 181.9 532.7 181.4 529.4 181.2 526.7 181.5 524.5 181.6 521.2 180.6 518.5 180.3 515.8 179.8 513.1 179.6 510.9 180.3 507.6 180.6 505.7 179.1 504.3 179.0 501.0 179.0 498.3 178.9 498.3 177.4 495.6 176.9 493.6 176.3 491.2 177.1 489.0 177.4 485.8 177.7 484.1 178.7 480.6 179.0 478.1 179.6 476.2 179.6 474.6 179.3 473.5 180.7 472.9 181.6 469.4 181.4 468.3 182.0 466.1 182.3 463.9 182.7 460.9 182.3 460.6 183.5 458.7 184.8 456.3 185.0 455.4 184.1 455.2 183.5 456.5 183.6 459.0 183.6 458.7 182.7 456.3 181.8 454.6 181.6 453.0 181.4 450.5 180.6 448.1 181.1 445.9 181.8 444.5 182.5 443.4 183.8 442.3 184.8 441.0 185.7 439.3 186.4 439.3 187.7 439.6 188.4 440.4 189.0 441.2 188.8 442.3 188.2 442.9 188.4 443.2 189.3 443.6 190.1 444.2 190.6 445.3 190.1 445.6 189.3 446.4 188.2 446.0 187.0 446.2 186.1 447.2 185.4 448.3 184.5 449.7 183.9 450.5 184.5 448.9 185.4 448.2 187.0 448.9 187.7 450.3 187.5 451.9 187.3 453.0 187.7 451.9 188.0 449.7 188.1 449.4 188.6 449.9 189.4 448.6 189.3 448.1 189.9 448.2 190.7 447.2 191.2 446.7 191.0 445.6 191.2 444.4 191.6 443.2 191.4 442.6 191.5 442.3 190.2 442.4 189.1 441.2 189.6 441.0 190.6 441.4 191.5 440.4 191.8 439.3 192.0 439.1 192.6 438.5 193.2 438.0 193.4 437.5 194.0 436.6 194.3 435.7 194.3 435.6 194.9 434.0 195.1 434.4 195.5 435.2 195.9 435.9 196.7 435.9 197.9 435.6 198.3 434.4 198.3 432.2 198.1 431.5 198.6 431.8 199.5 431.7 200.8 431.4 201.3 431.8 202.4 432.5 202.3 433.2 202.8 433.5 203.1 434.1 202.6 435.5 202.6 436.3 202.1 436.7 201.3 436.4 200.8 437.0 200.0 438.3 199.3 438.3 198.6 439.1 198.3 440.1 198.5 440.7 198.1 441.4 197.7 442.2 198.0 442.3 198.6 443.3 199.4 444.1 199.7 445.2 200.5 445.1 201.8 445.4 201.3 445.9 201.2 445.7 200.5 446.7 200.4 445.9 199.9 445.3 199.3 444.5 199.1 444.0 198.3 443.3 197.6 443.3 197.1 444.1 196.9 444.5 197.2 445.1 197.9 445.9 198.4 446.7 199.0 447.2 199.4 447.2 200.3 447.6 200.8 448.1 201.6 448.4 202.5 448.9 202.8 449.3 202.8 449.2 202.1 449.7 201.7 449.2 201.2 449.1 200.2 449.7 200.1 450.8 200.0 450.9 200.5 451.1 201.2 451.3 201.9 451.6 202.4 452.2 202.6 453.3 202.9 454.3 203.0 455.4 202.6 456.3 202.6 456.2 203.4 456.2 204.0 455.7 205.0 455.4 206.0 455.3 206.1 454.2 206.2ZM337.2 184.5 340.5 184.6 342.1 184.8 342.4 184.3 343.9 183.7 342.9 183.2 341.0 182.8 339.4 182.2 337.2 181.9ZM433.9 188.6 435.0 188.6 435.5 189.2 435.8 190.9 436.6 191.8 437.5 192.4 437.4 193.2 437.3 193.4 436.1 193.6 434.7 193.9 433.5 194.1 434.1 193.3 435.0 193.2 433.9 193.1 434.3 192.6 434.1 192.3 435.0 192.0 435.0 191.5 434.7 191.2 433.9 191.0 433.8 190.6 433.5 189.9 433.2 189.3ZM433.3 190.7 432.1 190.7 431.1 191.4 431.0 191.8 431.4 192.5 431.0 192.9 432.2 193.1 433.2 192.7 433.3 191.8ZM442.6 175.8 445.3 177.0 448.6 176.4 451.3 175.3 447.5 174.5 442.6 175.0ZM465.3 180.4 467.5 180.8 468.3 179.0 470.5 177.7 474.3 176.9 473.5 176.7 469.4 177.1 466.9 178.4 465.8 179.4ZM487.4 175.1 489.6 176.0 492.3 175.5 493.9 175.1 491.2 174.2 488.5 174.2ZM510.9 178.7 513.1 179.1 516.9 178.0 514.7 177.4 512.0 177.4ZM462.3 174.5 466.6 174.8 470.5 174.5 469.4 173.9 465.0 173.7ZM337.2 180.3 339.7 180.5 339.1 180.7 337.2 180.6ZM508.1 204.4 508.7 203.5 510.3 203.3 511.3 202.3 512.5 201.8 513.1 200.6 513.1 199.7 513.9 199.6 514.1 200.8 513.6 201.6 513.6 202.8 513.5 203.3 512.9 203.7 512.4 204.0 511.4 204.0 510.9 204.7 510.3 204.5 510.5 204.0 509.2 204.1ZM507.6 204.7 507.4 205.3 507.7 206.1 508.1 206.2 508.6 205.3 508.7 204.6 508.1 204.4ZM509.0 205.0 510.1 204.6 510.1 204.2 509.2 204.2ZM513.1 199.5 513.6 198.5 513.9 197.0 514.7 197.6 515.9 197.7 516.2 198.3 514.9 199.2 513.6 198.9ZM514.1 196.7 515.0 196.3 514.8 194.7 514.7 193.4 515.0 192.2 514.5 191.3 514.1 191.8 514.3 193.4 514.1 195.4ZM502.2 211.4 502.7 212.1 503.2 210.5 503.0 210.0 502.1 210.8ZM496.0 213.9 496.7 213.3 497.2 213.6 496.7 214.5 496.0 214.3ZM502.3 214.3 503.4 214.3 503.2 215.6 503.0 216.6 504.3 217.9 503.8 217.5 502.5 217.0 502.0 215.9ZM503.2 221.7 505.1 219.9 505.7 221.4 505.1 222.5 504.3 222.0ZM503.2 218.6 504.0 219.8 505.1 218.8 504.9 218.2 503.8 218.2ZM500.6 220.8 501.9 218.9 501.6 219.1 500.5 220.5ZM496.1 225.0 496.4 226.5 496.8 228.0 497.6 228.4 499.1 228.7 500.1 228.8 500.2 227.5 500.8 226.5 500.9 225.6 501.0 224.6 501.7 222.9 500.7 221.8 500.1 222.0 499.5 222.9 498.7 223.4 497.5 224.4 496.5 224.9ZM488.6 222.6 489.8 222.9 491.4 224.6 493.3 226.7 494.5 228.1 494.4 230.0 493.7 229.9 492.5 228.8 491.4 226.8 490.5 225.1 489.3 223.9ZM494.1 230.6 494.8 230.1 495.7 230.2 496.9 230.6 498.0 230.6 499.1 231.1 499.1 231.8 497.2 231.5 495.6 231.2 494.5 231.0ZM499.4 231.5 501.6 231.5 502.1 231.9 501.6 232.0 499.7 231.9ZM502.0 231.7 503.8 231.5 503.8 231.8 502.1 231.9ZM504.3 232.8 505.0 232.0 506.1 231.6 505.4 232.1 504.6 232.7ZM501.9 229.7 502.4 229.8 502.3 228.0 502.7 227.9 503.7 229.3 503.9 228.8 503.0 227.4 504.0 226.7 502.7 226.8 502.5 225.9 504.0 225.9 504.9 225.2 504.6 226.0 503.0 226.0 502.1 225.8 501.6 226.8 501.5 228.1ZM506.2 224.9 506.8 225.2 506.5 226.2 506.8 226.7 506.2 226.5ZM506.5 228.1 508.0 228.3 507.9 228.5 506.6 228.4ZM508.1 227.0 509.8 226.7 510.3 228.3 512.0 227.2 513.6 227.9 515.5 228.6 516.3 229.7 517.2 230.1 517.3 231.3 518.2 232.5 518.8 232.9 516.9 232.6 516.1 231.3 515.0 232.0 513.6 232.1 512.2 231.5 511.7 229.4 510.1 228.8 509.0 228.8 508.6 228.0ZM517.7 229.7 518.8 229.7 519.6 228.9 519.5 229.7 518.5 230.2 517.7 230.1ZM498.6 240.3 499.0 240.2 500.3 239.4 502.7 238.7 503.3 237.4 504.0 237.1 504.9 235.8 505.7 235.1 506.5 235.8 507.3 235.8 507.8 234.2 508.7 233.6 509.0 234.0 509.5 233.7 510.9 233.8 511.3 234.2 510.8 234.9 510.6 235.8 511.4 236.5 512.7 237.4 513.5 237.4 513.9 235.8 513.9 234.2 514.4 233.1 515.0 234.2 515.2 235.5 515.9 235.8 516.3 238.1 517.7 239.0 518.2 240.3 519.0 241.0 520.2 242.6 520.5 244.5 520.2 246.1 519.6 247.3 519.0 248.4 518.5 250.2 517.4 250.5 516.6 251.2 515.5 250.7 513.9 250.9 513.1 250.3 512.8 249.3 512.0 249.1 512.0 248.4 511.7 247.4 510.9 248.7 510.6 248.4 509.8 247.3 508.4 246.4 507.0 246.6 505.4 246.9 504.0 248.0 502.1 248.0 501.0 248.7 499.7 248.2 499.4 247.7 499.8 246.8 499.4 245.1 498.9 243.5 498.6 242.3ZM515.6 252.3 517.6 252.5 517.4 253.9 516.8 254.2 515.9 253.4ZM530.9 248.3 531.9 249.2 532.6 250.0 534.1 250.4 533.3 251.4 533.2 251.9 532.3 252.9 532.0 252.7 532.2 251.9 531.5 251.4 532.0 250.6 531.8 249.7 531.1 248.8ZM530.9 252.2 531.8 252.9 531.4 253.6 531.0 254.3 530.1 254.8 529.8 255.7 528.9 256.1 527.5 255.7 528.3 254.5 529.7 253.8 530.3 252.9ZM480.2 219.9 481.3 221.4 481.1 222.2 480.4 222.3 480.2 221.1ZM390.2 212.1 391.3 211.4 392.6 211.3 394.3 212.2 396.1 213.2 394.1 213.4 392.9 212.2 391.8 212.1 390.5 212.2ZM396.0 213.5 396.8 213.4 398.4 213.5 399.3 214.3 398.4 214.5 397.6 214.8 396.0 214.4ZM393.8 214.4 394.9 214.5 394.7 214.7 394.0 214.5ZM399.9 214.3 400.8 214.4 400.7 214.6 399.9 214.6ZM337.2 276.3 343.8 276.5 349.2 276.4 354.7 276.3 357.4 276.0 364.5 274.9 373.3 274.5 382.0 273.6 387.4 273.7 390.7 274.5 394.0 273.4 396.2 272.1 399.5 269.9 402.2 267.9 404.9 266.8 404.4 267.6 402.7 268.9 401.6 270.5 400.6 272.4 399.5 274.4 399.5 275.8 409.3 275.9 414.8 276.0 422.4 276.2 425.1 274.9 430.3 272.7 437.3 271.9 445.9 271.4 454.6 271.0 463.4 268.8 468.5 268.4 473.2 269.6 474.8 270.8 477.0 270.8 480.3 270.2 484.7 270.3 490.1 269.2 495.6 269.3 502.1 269.1 509.8 269.0 515.8 269.6 520.2 270.7 524.0 271.7 527.1 272.8 527.8 275.0 528.3 276.0 536.0 276.2 536.0 285.9 337.2 285.9Z" fill="#cccccc" stroke="#000" stroke-width="0.85" stroke-linejoin="round"/><path d="M451.9 199.7 452.7 199.7 453.8 199.7 454.9 199.2 455.7 199.2 456.5 199.7 457.6 199.9 458.7 199.9 459.3 199.5 459.4 198.9 458.4 198.3 457.4 197.6 456.8 197.2 457.4 196.3 457.9 195.9 457.1 196.0 455.7 196.5 456.0 197.1 454.9 197.6 454.3 197.0 454.9 196.7 453.8 196.3 453.3 196.5 452.9 197.0 452.3 197.7 451.9 198.6ZM462.8 196.3 463.4 196.3 464.7 196.0 465.5 196.3 465.5 197.3 464.6 197.6 464.5 198.5 465.3 199.2 465.4 199.9 466.1 200.5 465.8 201.5 466.1 202.2 464.5 202.6 463.4 202.1 463.3 201.5 463.6 200.3 463.1 199.4 462.5 198.6 462.3 197.6 462.2 197.0Z" fill="none" stroke="#000" stroke-width="0.6"/><path d="M463.5 233.9 464.2 236.2 463.7 237.1 463.1 239.4 462.4 242.1 461.3 242.6 460.5 241.3 460.2 240.0 460.9 237.8 460.6 236.8 462.0 236.3 462.8 234.9ZM530.9 248.3 531.9 249.2 532.6 250.0 534.1 250.4 533.3 251.4 533.2 251.9 532.3 252.9 532.0 252.7 532.2 251.9 531.5 251.4 532.0 250.6 531.8 249.7 531.1 248.8ZM530.9 252.2 531.8 252.9 531.4 253.6 531.0 254.3 530.1 254.8 529.8 255.7 528.9 256.1 527.5 255.7 528.3 254.5 529.7 253.8 530.3 252.9ZM522.2 193.4 523.2 192.3 524.0 191.2 525.3 190.1 525.8 189.1 525.3 188.8 526.6 187.8 525.9 187.2 524.8 187.3 522.9 189.0 522.1 189.6 521.7 190.9Z" fill="#ececec" stroke="#000" stroke-width="0.8" stroke-linejoin="round"/><path d="M528.3 276.0 536.0 276.2 536.0 281.4 528.3 280.1 527.3 277.6ZM337.2 276.2 346.5 276.5 354.7 276.3 357.4 276.6 356.9 281.4 337.2 281.4ZM399.5 275.8 409.3 275.9 414.8 276.0 422.4 276.2 421.3 278.2 414.8 279.7 403.8 279.8 397.3 278.9 397.3 276.3Z" fill="#fff" stroke="#222" stroke-width="0.6"/><ellipse cx="389.1" cy="197.6" rx="2.18" ry="1.61" fill="none" stroke="#000" stroke-width="0.6"/><ellipse cx="392.1" cy="198.9" rx="1.37" ry="0.77" fill="none" stroke="#000" stroke-width="0.6"/><ellipse cx="374.3" cy="186.7" rx="1.64" ry="0.77" fill="none" stroke="#000" stroke-width="0.6"/><ellipse cx="370.5" cy="183.8" rx="1.64" ry="0.96" fill="none" stroke="#000" stroke-width="0.6"/><ellipse cx="383.4" cy="192.5" rx="0.82" ry="1.61" fill="none" stroke="#000" stroke-width="0.6"/><ellipse cx="469.4" cy="197.3" rx="1.09" ry="1.28" fill="none" stroke="#000" stroke-width="0.6"/><ellipse cx="477.6" cy="196.3" rx="1.64" ry="0.64" fill="none" stroke="#000" stroke-width="0.6"/><ellipse cx="495.6" cy="192.2" rx="0.55" ry="1.93" fill="none" stroke="#000" stroke-width="0.6"/><ellipse cx="454.6" cy="226.8" rx="0.82" ry="0.96" fill="none" stroke="#000" stroke-width="0.6"/><ellipse cx="452.7" cy="230.1" rx="0.44" ry="1.93" fill="none" stroke="#000" stroke-width="0.6"/><ellipse cx="455.4" cy="233.9" rx="0.44" ry="1.61" fill="none" stroke="#000" stroke-width="0.6"/><ellipse cx="444.2" cy="217.9" rx="0.82" ry="0.96" fill="none" stroke="#000" stroke-width="0.6"/><ellipse cx="453.8" cy="187.0" rx="0.82" ry="0.77" fill="none" stroke="#000" stroke-width="0.6"/><g fill="#000"><ellipse cx="363.3" cy="199.5" rx="1.20" ry="1.20"/><ellipse cx="351.3" cy="212.7" rx="0.84" ry="0.84"/><ellipse cx="377.3" cy="216.7" rx="1.32" ry="1.32"/><ellipse cx="376.7" cy="232.0" rx="1.32" ry="1.32"/><ellipse cx="376.4" cy="254.0" rx="1.32" ry="1.32"/><ellipse cx="384.4" cy="251.6" rx="1.20" ry="1.20"/><ellipse cx="383.6" cy="256.4" rx="1.20" ry="1.20"/><ellipse cx="412.7" cy="194.0" rx="1.32" ry="1.32"/><ellipse cx="418.0" cy="198.7" rx="1.32" ry="1.32"/><ellipse cx="409.3" cy="226.0" rx="1.08" ry="1.08"/><ellipse cx="434.5" cy="261.2" rx="1.32" ry="1.32"/><ellipse cx="416.4" cy="260.4" rx="0.84" ry="0.84"/><ellipse cx="395.6" cy="271.6" rx="1.20" ry="1.20"/><ellipse cx="402.0" cy="259.6" rx="0.96" ry="0.96"/><ellipse cx="470.0" cy="237.3" rx="1.32" ry="1.32"/><ellipse cx="466.7" cy="228.7" rx="0.84" ry="0.84"/><ellipse cx="469.2" cy="240.4" rx="1.32" ry="1.32"/><ellipse cx="474.8" cy="257.2" rx="1.20" ry="1.20"/><ellipse cx="458.0" cy="255.6" rx="0.84" ry="0.84"/><ellipse cx="464.4" cy="255.6" rx="0.84" ry="0.84"/><ellipse cx="520.0" cy="194.0" rx="1.20" ry="1.20"/><ellipse cx="509.3" cy="212.7" rx="1.32" ry="1.32"/><ellipse cx="526.7" cy="232.0" rx="1.20" ry="1.20"/><ellipse cx="503.2" cy="260.4" rx="1.32" ry="1.32"/><ellipse cx="513.6" cy="262.8" rx="1.32" ry="1.32"/><ellipse cx="520.8" cy="260.4" rx="1.20" ry="1.20"/><ellipse cx="528.0" cy="238.8" rx="1.08" ry="1.08"/></g><path d="M345.3 181.3L347.3 184.0" stroke="#000" stroke-width="1.6" stroke-linecap="round"/><path d="M339.3 190.7L351.3 187.3" stroke="#000" stroke-width="1.3" stroke-linecap="round" stroke-dasharray="1.6 1.2"/><path d="M358.0 190.0L359.3 194.0" stroke="#000" stroke-width="1.7" stroke-linecap="round"/><path d="M353.3 217.3L353.3 221.3" stroke="#000" stroke-width="1.8" stroke-linecap="round"/><path d="M380.4 242.8L382.0 247.6" stroke="#000" stroke-width="1.7" stroke-linecap="round"/><path d="M379.6 249.2L379.6 254.0" stroke="#000" stroke-width="1.7" stroke-linecap="round"/><path d="M377.2 258.8L377.2 260.4" stroke="#000" stroke-width="1.8" stroke-linecap="round"/><path d="M375.6 266.0L375.6 267.6" stroke="#000" stroke-width="1.8" stroke-linecap="round"/><path d="M416.0 201.3L417.3 204.7" stroke="#000" stroke-width="1.7" stroke-linecap="round"/><path d="M401.0 203.3L401.0 206.5" stroke="#000" stroke-width="1.7" stroke-linecap="round"/><path d="M408.7 203.3L410.0 206.7" stroke="#000" stroke-width="1.8" stroke-linecap="round"/><path d="M525.3 188.7L536.0 192.7" stroke="#000" stroke-width="1.3" stroke-linecap="round" stroke-dasharray="1.6 1.2"/><path d="M485.8 217.3L486.4 220.0" stroke="#000" stroke-width="1.7" stroke-linecap="round"/><path d="M508.0 205.3L509.3 209.3" stroke="#000" stroke-width="1.7" stroke-linecap="round"/><path d="M488.0 226.7L489.3 230.7" stroke="#000" stroke-width="1.7" stroke-linecap="round"/><path d="M531.0 236.0L534.5 238.7" stroke="#000" stroke-width="1.5" stroke-linecap="round"/><path d="M488.0 242.8L489.6 246.0" stroke="#000" stroke-width="1.7" stroke-linecap="round"/><path d="M508.8 251.6L508.8 254.0" stroke="#000" stroke-width="1.7" stroke-linecap="round"/><path d="M518.4 257.2L518.4 260.4" stroke="#000" stroke-width="1.7" stroke-linecap="round"/><path d="M525.6 252.4L527.2 254.0" stroke="#000" stroke-width="1.7" stroke-linecap="round"/><path d="M492.8 266.0L494.4 267.6" stroke="#000" stroke-width="1.7" stroke-linecap="round"/><circle cx="436.6" cy="226.5" r="2" fill="#fff"/></g><path d="M556.5 35.1h-1.8M556.5 64.0h-1.8M556.5 92.8h-1.8M244.3 197.2h-1.8M244.3 226.1h-1.8M244.3 254.9h-1.8M556.5 197.3h-1.8M556.5 226.2h-1.8M556.5 255.0h-1.8" stroke="#333" stroke-width="0.8" fill="none"/></svg><span class="t " style="left:22.8px;top:6.8px;font-size:9.6px;transform:translate(-100%,-50%) scaleX(0.94)">30</span><span class="t " style="left:22.8px;top:45.1px;font-size:9.6px;transform:translate(-100%,-50%) scaleX(0.94)">20</span><span class="t " style="left:22.8px;top:83.6px;font-size:9.6px;transform:translate(-100%,-50%) scaleX(0.94)">10</span><span class="t " style="left:22.8px;top:122.7px;font-size:9.6px;transform:translate(-100%,-50%) scaleX(0.94)">0</span><span class="t " style="left:27.0px;top:131.3px;font-size:9.6px;transform:translate(-50%,-50%) scaleX(0.94)">7</span><span class="t " style="left:61.8px;top:131.3px;font-size:9.6px;transform:translate(-50%,-50%) scaleX(0.94)">8</span><span class="t " style="left:96.6px;top:131.3px;font-size:9.6px;transform:translate(-50%,-50%) scaleX(0.94)">9</span><span class="t " style="left:131.3px;top:131.3px;font-size:9.6px;transform:translate(-50%,-50%) scaleX(0.94)">10</span><span class="t " style="left:166.1px;top:131.3px;font-size:9.6px;transform:translate(-50%,-50%) scaleX(0.94)">11</span><span class="t " style="left:200.9px;top:131.3px;font-size:9.6px;transform:translate(-50%,-50%) scaleX(0.94)">12</span><span class="t " style="left:235.7px;top:131.3px;font-size:9.6px;transform:translate(-50%,-50%) scaleX(0.94)">13</span><span class="t " style="left:132.0px;top:144.4px;font-size:10.2px;transform:translate(-50%,-50%) scaleX(0.97)">Total export, PgC</span><span class="t " style="left:6.6px;top:62.0px;font-size:10.4px;transform:translate(-50%,-50%) rotate(-90deg) scaleX(0.96)">Frequency</span><span class="t pl" style="left:6.3px;top:20.9px;font-size:11.5px;transform:translate(0,-50%) scaleX(0.93)">a)</span><span class="t " style="left:335.0px;top:32.2px;font-size:9.6px;transform:translate(-100%,-50%) scaleX(0.94)">50</span><span class="t " style="left:335.0px;top:65.1px;font-size:9.6px;transform:translate(-100%,-50%) scaleX(0.94)">0</span><span class="t " style="left:335.0px;top:97.8px;font-size:9.6px;transform:translate(-100%,-50%) scaleX(0.94)">-50</span><span class="t " style="left:354.7px;top:132.0px;font-size:9.6px;transform:translate(-50%,-50%) scaleX(0.94)">-150</span><span class="t " style="left:382.0px;top:132.0px;font-size:9.6px;transform:translate(-50%,-50%) scaleX(0.94)">-100</span><span class="t " style="left:409.3px;top:132.0px;font-size:9.6px;transform:translate(-50%,-50%) scaleX(0.94)">-50</span><span class="t " style="left:436.6px;top:132.0px;font-size:9.6px;transform:translate(-50%,-50%) scaleX(0.94)">0</span><span class="t " style="left:463.9px;top:132.0px;font-size:9.6px;transform:translate(-50%,-50%) scaleX(0.94)">50</span><span class="t " style="left:491.2px;top:132.0px;font-size:9.6px;transform:translate(-50%,-50%) scaleX(0.94)">100</span><span class="t " style="left:518.5px;top:132.0px;font-size:9.6px;transform:translate(-50%,-50%) scaleX(0.94)">150</span><span class="t pl" style="left:318.7px;top:19.3px;font-size:11.5px;transform:translate(0,-50%) scaleX(0.93)">b)</span><span class="t " style="left:560.9px;top:6.2px;font-size:9.6px;transform:translate(0,-50%) scaleX(0.94)">20</span><span class="t " style="left:560.9px;top:35.1px;font-size:9.6px;transform:translate(0,-50%) scaleX(0.94)">10</span><span class="t " style="left:560.9px;top:64.0px;font-size:9.6px;transform:translate(0,-50%) scaleX(0.94)">0</span><span class="t " style="left:560.9px;top:92.9px;font-size:9.6px;transform:translate(0,-50%) scaleX(0.94)">-10</span><span class="t " style="left:560.9px;top:121.8px;font-size:9.6px;transform:translate(0,-50%) scaleX(0.94)">-20</span><span class="t " style="left:22.9px;top:194.3px;font-size:9.6px;transform:translate(-100%,-50%) scaleX(0.94)">50</span><span class="t " style="left:22.9px;top:227.2px;font-size:9.6px;transform:translate(-100%,-50%) scaleX(0.94)">0</span><span class="t " style="left:22.9px;top:259.9px;font-size:9.6px;transform:translate(-100%,-50%) scaleX(0.94)">-50</span><span class="t " style="left:42.6px;top:294.0px;font-size:9.6px;transform:translate(-50%,-50%) scaleX(0.94)">-150</span><span class="t " style="left:69.9px;top:294.0px;font-size:9.6px;transform:translate(-50%,-50%) scaleX(0.94)">-100</span><span class="t " style="left:97.2px;top:294.0px;font-size:9.6px;transform:translate(-50%,-50%) scaleX(0.94)">-50</span><span class="t " style="left:124.5px;top:294.0px;font-size:9.6px;transform:translate(-50%,-50%) scaleX(0.94)">0</span><span class="t " style="left:151.7px;top:294.0px;font-size:9.6px;transform:translate(-50%,-50%) scaleX(0.94)">50</span><span class="t " style="left:179.0px;top:294.0px;font-size:9.6px;transform:translate(-50%,-50%) scaleX(0.94)">100</span><span class="t " style="left:206.3px;top:294.0px;font-size:9.6px;transform:translate(-50%,-50%) scaleX(0.94)">150</span><span class="t pl" style="left:6.6px;top:181.5px;font-size:11.5px;transform:translate(0,-50%) scaleX(0.93)">c)</span><span class="t " style="left:248.7px;top:168.4px;font-size:9.6px;transform:translate(0,-50%) scaleX(0.94)">20</span><span class="t " style="left:248.7px;top:197.2px;font-size:9.6px;transform:translate(0,-50%) scaleX(0.94)">10</span><span class="t " style="left:248.7px;top:226.1px;font-size:9.6px;transform:translate(0,-50%) scaleX(0.94)">0</span><span class="t " style="left:248.7px;top:255.0px;font-size:9.6px;transform:translate(0,-50%) scaleX(0.94)">-10</span><span class="t " style="left:248.7px;top:283.8px;font-size:9.6px;transform:translate(0,-50%) scaleX(0.94)">-20</span><span class="t " style="left:335.0px;top:194.4px;font-size:9.6px;transform:translate(-100%,-50%) scaleX(0.94)">50</span><span class="t " style="left:335.0px;top:227.3px;font-size:9.6px;transform:translate(-100%,-50%) scaleX(0.94)">0</span><span class="t " style="left:335.0px;top:260.0px;font-size:9.6px;transform:translate(-100%,-50%) scaleX(0.94)">-50</span><span class="t " style="left:354.7px;top:294.2px;font-size:9.6px;transform:translate(-50%,-50%) scaleX(0.94)">-150</span><span class="t " style="left:382.0px;top:294.2px;font-size:9.6px;transform:translate(-50%,-50%) scaleX(0.94)">-100</span><span class="t " style="left:409.3px;top:294.2px;font-size:9.6px;transform:translate(-50%,-50%) scaleX(0.94)">-50</span><span class="t " style="left:436.6px;top:294.2px;font-size:9.6px;transform:translate(-50%,-50%) scaleX(0.94)">0</span><span class="t " style="left:463.9px;top:294.2px;font-size:9.6px;transform:translate(-50%,-50%) scaleX(0.94)">50</span><span class="t " style="left:491.2px;top:294.2px;font-size:9.6px;transform:translate(-50%,-50%) scaleX(0.94)">100</span><span class="t " style="left:518.5px;top:294.2px;font-size:9.6px;transform:translate(-50%,-50%) scaleX(0.94)">150</span><span class="t pl" style="left:318.7px;top:181.5px;font-size:11.5px;transform:translate(0,-50%) scaleX(0.93)">d)</span><span class="t " style="left:560.9px;top:168.4px;font-size:9.6px;transform:translate(0,-50%) scaleX(0.94)">20</span><span class="t " style="left:560.9px;top:197.3px;font-size:9.6px;transform:translate(0,-50%) scaleX(0.94)">10</span><span class="t " style="left:560.9px;top:226.2px;font-size:9.6px;transform:translate(0,-50%) scaleX(0.94)">0</span><span class="t " style="left:560.9px;top:255.1px;font-size:9.6px;transform:translate(0,-50%) scaleX(0.94)">-10</span><span class="t " style="left:560.9px;top:284.0px;font-size:9.6px;transform:translate(0,-50%) scaleX(0.94)">-20</span></body></html>
